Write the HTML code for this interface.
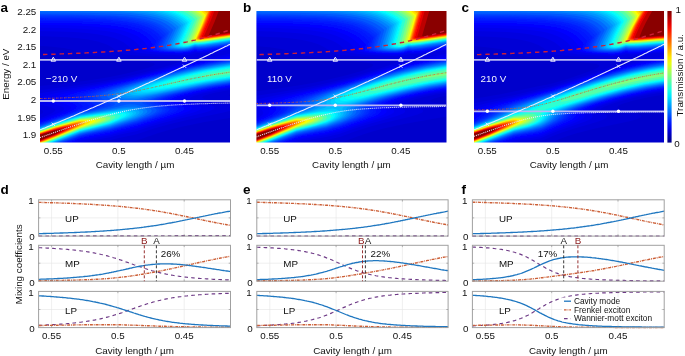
<!DOCTYPE html><html><head><meta charset="utf-8"><style>html,body{margin:0;padding:0;background:#fff;width:685px;height:356px;overflow:hidden}svg{display:block;filter:blur(0.35px)}.t{font-family:"Liberation Sans",sans-serif;font-size:9.8px;fill:#111}.w{font-family:"Liberation Sans",sans-serif;font-size:9.8px;fill:#f4f4ff}.L{font-family:"Liberation Sans",sans-serif;font-size:13.5px;font-weight:bold;fill:#000}.g{font-family:"Liberation Sans",sans-serif;font-size:8.3px;fill:#111}</style></head><body>
<svg width="685" height="356" viewBox="0 0 685 356">
<defs><filter id="bl" x="-5%" y="-5%" width="110%" height="110%"><feGaussianBlur stdDeviation="0.7"/></filter>
<linearGradient id="cb" x1="0" y1="0" x2="0" y2="1"><stop offset="0.00" stop-color="#800000"/><stop offset="0.05" stop-color="#b30000"/><stop offset="0.10" stop-color="#e50000"/><stop offset="0.15" stop-color="#ff1a00"/><stop offset="0.20" stop-color="#ff4c00"/><stop offset="0.25" stop-color="#ff8000"/><stop offset="0.30" stop-color="#ffb300"/><stop offset="0.35" stop-color="#ffe500"/><stop offset="0.40" stop-color="#e5ff1a"/><stop offset="0.45" stop-color="#b3ff4c"/><stop offset="0.50" stop-color="#80ff80"/><stop offset="0.55" stop-color="#4cffb3"/><stop offset="0.60" stop-color="#1affe5"/><stop offset="0.65" stop-color="#00e5ff"/><stop offset="0.70" stop-color="#00b3ff"/><stop offset="0.75" stop-color="#0080ff"/><stop offset="0.80" stop-color="#004cff"/><stop offset="0.85" stop-color="#001aff"/><stop offset="0.90" stop-color="#0000e5"/><stop offset="0.95" stop-color="#0000b3"/><stop offset="1.00" stop-color="#000080"/></linearGradient></defs>
<clipPath id="cla"><rect x="40.0" y="11.0" width="190.0" height="131.6"/></clipPath>
<g clip-path="url(#cla)"><g filter="url(#bl)">
<rect x="36.0" y="7.0" width="198.0" height="139.6" fill="#000085"/>
<path fill-rule="evenodd" fill="#00008f" d="M233.0,145.5 37.0,145.5 37.0,8.0 233.0,8.0 233.0,145.5Z"/>
<path fill-rule="evenodd" fill="#000099" d="M233.0,145.5 37.0,145.5 37.0,8.0 233.0,8.0 233.0,145.5Z"/>
<path fill-rule="evenodd" fill="#0000a3" d="M233.0,145.5 37.0,145.5 37.0,8.0 233.0,8.0 233.0,145.5Z"/>
<path fill-rule="evenodd" fill="#0000ad" d="M233.0,145.5 37.0,145.5 37.0,8.0 233.0,8.0 233.0,145.5Z"/>
<path fill-rule="evenodd" fill="#0000b8" d="M233.0,145.5 37.0,145.5 37.0,8.0 233.0,8.0 233.0,145.5Z"/>
<path fill-rule="evenodd" fill="#0000c2" d="M233.0,145.5 37.0,145.5 37.0,8.0 233.0,8.0 233.0,145.5Z"/>
<path fill-rule="evenodd" fill="#0000cc" d="M233.0,145.5 37.0,145.5 37.0,8.0 233.0,8.0 233.0,145.5Z"/>
<path fill-rule="evenodd" fill="#0000d6" d="M113.0,145.5 37.0,145.5 37.0,86.2 59.7,84.0 76.7,82.0 94.9,79.5 109.7,77.0 126.4,73.5 144.2,69.0 149.0,67.5 152.7,66.0 154.3,65.0 154.7,64.5 154.7,64.0 154.2,63.5 153.1,63.0 147.8,62.0 106.5,57.7 93.5,56.0 88.0,54.8 75.5,50.5 65.0,48.3 52.5,46.8 37.0,45.8 37.0,8.0 233.0,8.0 233.0,93.2 229.3,94.5 228.7,95.0 228.6,95.5 230.3,96.5 233.0,97.2 233.0,117.4 204.8,122.0 180.6,127.0 168.8,130.0 158.5,133.0 136.0,140.8 113.0,145.5Z"/>
<path fill-rule="evenodd" fill="#0000e0" d="M80.5,145.5 37.0,145.5 37.0,116.3 42.0,113.5 43.0,112.5 43.3,111.5 42.5,110.5 41.7,110.0 37.0,108.6 37.0,90.4 64.3,87.0 86.0,84.0 104.3,81.0 119.8,78.0 143.8,72.5 164.4,67.0 172.5,64.5 177.9,62.5 180.7,61.0 181.3,60.0 180.8,59.5 179.5,59.0 173.5,58.1 136.5,55.5 128.0,54.7 122.0,53.7 118.6,52.5 112.0,47.4 108.7,45.5 105.5,44.1 97.7,41.5 88.0,39.5 78.5,38.2 67.0,37.3 37.0,36.0 37.0,8.0 233.0,8.0 233.0,89.6 218.5,92.0 209.5,94.0 203.6,96.0 202.3,97.0 202.2,97.5 203.2,98.5 206.2,99.5 226.0,103.3 233.0,105.2 233.0,109.8 229.3,111.0 222.5,112.7 187.2,120.0 170.1,124.0 153.9,128.5 136.0,134.4 120.0,137.7 110.0,140.2 86.0,144.3 80.5,145.5Z"/>
<path fill-rule="evenodd" fill="#0000eb" d="M188.0,55.0 180.5,55.3 157.0,54.4 144.0,53.5 136.5,52.4 133.5,51.4 131.7,50.0 129.2,47.0 126.5,44.5 123.0,42.0 119.5,40.2 115.5,38.5 110.8,37.0 99.0,34.5 87.5,33.1 74.0,32.1 58.0,31.4 37.0,31.0 37.0,8.0 233.0,8.0 233.0,49.2 207.0,52.8 201.0,53.2 196.7,53.0 195.0,53.6 188.0,55.0ZM73.0,145.5 37.0,145.5 37.0,119.4 46.9,115.5 51.3,113.5 54.4,111.5 55.4,110.0 55.0,109.1 54.3,108.5 51.5,107.3 46.3,106.0 37.0,104.2 37.0,93.8 88.9,85.5 113.4,81.0 129.4,77.5 148.2,73.0 195.0,60.6 217.0,56.3 233.0,53.6 233.0,88.1 217.3,90.5 202.4,93.5 193.6,96.0 190.4,97.5 189.6,98.5 190.1,99.5 192.2,100.5 207.5,104.2 212.9,106.0 214.0,106.7 214.6,107.5 214.3,108.5 213.1,109.5 209.7,111.0 205.0,112.5 164.5,122.5 150.6,126.5 136.0,131.2 120.0,134.6 110.0,137.2 86.0,141.5 80.0,142.9 73.0,145.5Z"/>
<path fill-rule="evenodd" fill="#0000f5" d="M187.5,53.5 180.5,53.8 164.5,53.2 150.5,52.1 144.5,51.0 143.3,50.5 141.5,49.0 138.6,45.0 135.6,42.0 133.1,40.0 129.9,38.0 125.7,36.0 121.0,34.3 115.5,32.8 109.1,31.5 97.0,29.9 81.5,28.7 63.0,28.0 37.0,27.5 37.0,8.0 233.0,8.0 233.0,48.2 205.0,52.1 198.5,52.3 195.0,51.6 187.5,53.5ZM68.0,145.5 37.0,145.5 37.0,121.1 58.3,113.0 62.3,111.0 63.6,110.0 64.2,109.0 64.1,108.0 63.6,107.5 61.0,106.2 45.9,102.0 42.0,100.5 40.7,99.5 40.5,99.0 40.8,98.0 42.3,97.0 47.9,95.0 56.4,93.0 99.7,85.0 123.7,80.0 146.8,74.5 184.5,64.7 195.0,62.2 215.5,58.3 233.0,55.6 233.0,87.1 213.6,90.0 198.6,93.0 190.6,95.0 185.8,96.5 182.5,98.0 181.3,99.0 181.3,100.0 183.5,101.4 196.0,104.8 200.1,106.5 201.1,107.5 201.2,108.5 200.3,109.5 198.7,110.5 195.1,112.0 190.4,113.5 158.9,122.0 136.0,129.1 120.0,132.7 110.0,135.3 84.7,140.0 80.0,141.1 68.0,145.5Z"/>
<path fill-rule="evenodd" fill="#0000ff" d="M186.5,53.0 179.5,53.3 165.5,52.7 156.0,51.9 150.5,50.9 149.0,50.0 148.7,48.5 148.0,47.0 144.5,42.1 141.5,39.2 138.0,36.6 134.0,34.4 129.0,32.4 123.0,30.6 117.0,29.3 104.0,27.4 87.0,26.1 66.0,25.3 37.0,24.9 37.0,8.0 233.0,8.0 233.0,47.4 205.0,51.3 198.5,51.6 195.0,50.9 190.0,52.4 186.5,53.0ZM64.5,145.5 37.0,145.5 37.0,122.4 64.0,112.5 69.1,110.0 70.3,109.0 71.0,108.0 71.0,107.4 70.5,106.6 68.9,105.5 57.5,101.5 54.6,100.0 53.8,99.0 53.7,98.5 54.3,97.5 55.8,96.5 59.5,95.0 66.7,93.0 123.6,81.0 191.0,64.2 213.5,59.7 233.0,56.7 233.0,86.2 211.5,89.5 194.0,93.0 181.0,96.5 177.2,98.0 175.0,99.5 174.7,100.0 175.0,100.9 176.8,102.0 187.9,105.5 191.0,107.0 191.8,108.0 191.6,109.0 190.7,110.0 189.0,111.0 180.5,114.2 153.5,122.0 136.0,127.5 120.0,131.2 110.0,133.9 86.0,138.4 80.0,139.8 64.5,145.5Z"/>
<path fill-rule="evenodd" fill="#000aff" d="M186.0,52.6 179.0,52.8 166.0,52.2 157.4,51.5 152.5,50.5 151.1,49.5 151.0,48.0 152.4,45.0 152.5,44.2 149.4,40.0 145.7,36.5 141.2,33.5 136.5,31.3 130.5,29.2 123.5,27.5 110.0,25.5 91.5,24.0 68.5,23.2 37.0,22.7 37.0,8.0 233.0,8.0 233.0,46.7 205.0,50.6 198.5,50.9 195.0,50.3 189.5,51.9 186.0,52.6ZM62.0,145.5 37.0,145.5 37.0,123.3 66.2,113.0 72.1,110.5 75.5,108.5 76.6,107.0 76.3,106.0 75.5,105.2 73.4,104.0 66.3,101.0 64.0,99.5 63.7,99.0 63.6,98.0 64.4,97.0 65.9,96.0 71.1,94.0 78.3,92.0 125.0,81.5 189.5,65.4 212.5,60.8 233.0,57.6 233.0,85.5 216.1,88.0 202.1,90.5 186.2,94.0 175.6,97.0 170.9,99.0 169.7,100.0 169.4,101.0 170.0,101.7 171.3,102.5 181.4,106.0 184.0,107.5 184.5,108.5 183.8,110.0 182.4,111.0 179.3,112.5 171.5,115.2 136.0,126.2 120.0,130.0 110.0,132.7 86.0,137.3 80.0,138.8 62.0,145.5Z"/>
<path fill-rule="evenodd" fill="#0014ff" d="M186.5,52.0 179.5,52.3 166.5,51.8 158.0,51.0 154.0,50.0 153.3,49.5 153.1,49.0 153.1,47.5 156.0,41.5 154.1,39.0 151.8,36.5 147.3,33.0 142.0,30.1 136.0,27.9 128.5,25.9 114.5,23.8 96.0,22.3 72.0,21.4 37.0,21.0 37.0,8.0 233.0,8.0 233.0,46.0 205.5,49.9 198.5,50.3 195.0,49.7 190.0,51.3 186.5,52.0ZM59.5,145.5 37.0,145.5 37.0,124.1 71.6,112.0 77.4,109.5 81.9,107.0 82.5,106.0 81.7,105.0 73.5,100.7 71.5,99.0 71.2,98.0 71.4,97.5 72.4,96.5 74.0,95.5 79.1,93.5 88.2,91.0 128.1,81.5 186.5,66.7 210.5,61.8 233.0,58.3 233.0,84.9 215.3,87.5 198.8,90.5 183.0,94.0 170.8,97.5 166.2,99.5 165.1,100.5 164.9,101.5 165.5,102.2 166.7,103.0 175.5,106.2 177.1,107.0 178.3,108.0 178.6,109.0 177.7,110.5 176.2,111.5 173.1,113.0 164.7,116.0 136.0,125.2 120.0,129.1 110.0,131.8 86.0,136.5 80.0,138.0 59.5,145.5Z"/>
<path fill-rule="evenodd" fill="#001fff" d="M186.5,51.6 179.0,51.9 166.5,51.4 159.0,50.6 155.5,49.5 155.1,49.0 155.2,47.0 158.6,40.0 158.9,39.0 155.0,34.7 150.5,31.3 145.2,28.5 138.2,26.0 132.0,24.4 123.8,23.0 115.0,21.9 103.5,21.0 77.5,20.0 37.0,19.4 37.0,8.0 233.0,8.0 233.0,45.5 205.5,49.3 198.5,49.8 195.0,49.3 190.0,50.8 186.5,51.6ZM58.0,145.5 37.0,145.5 37.0,124.8 69.9,113.5 80.0,109.7 86.0,108.1 88.3,107.0 89.2,106.0 89.2,105.5 88.4,104.5 86.0,103.2 80.0,100.8 77.8,99.0 77.5,98.0 77.9,97.0 79.0,96.0 80.8,95.0 87.6,92.5 96.6,90.0 185.0,67.7 209.0,62.7 233.0,58.9 233.0,84.4 215.0,87.0 195.9,90.5 178.2,94.5 166.3,98.0 161.9,100.0 160.9,101.0 160.7,101.5 161.0,102.2 161.9,103.0 170.8,106.5 172.6,107.5 173.6,108.5 173.7,109.5 173.0,110.5 171.8,111.5 168.9,113.0 160.0,116.4 136.0,124.2 120.0,128.2 110.0,131.0 86.0,135.8 80.0,137.3 58.0,145.5Z"/>
<path fill-rule="evenodd" fill="#0029ff" d="M187.0,51.1 181.0,51.5 170.0,51.2 162.0,50.5 157.7,49.5 157.0,49.0 156.8,48.5 156.9,47.0 161.5,37.5 161.4,37.0 157.6,33.0 152.8,29.5 147.5,26.9 140.7,24.5 134.0,22.9 125.7,21.5 117.0,20.5 105.5,19.6 77.5,18.6 37.0,18.1 37.0,8.0 233.0,8.0 233.0,44.9 205.5,48.8 198.5,49.3 195.0,48.8 187.0,51.1ZM56.5,145.5 37.0,145.5 37.0,125.3 80.0,110.6 87.6,109.0 92.1,107.5 94.1,106.5 94.9,105.5 94.5,104.5 92.8,103.5 85.1,100.0 83.4,98.5 83.2,97.5 83.8,96.5 86.9,94.5 93.5,92.0 103.5,89.1 183.0,68.7 195.5,65.9 208.5,63.3 233.0,59.5 233.0,83.9 214.9,86.5 195.7,90.0 177.7,94.0 163.5,98.0 158.7,100.0 157.3,101.0 156.9,102.0 157.5,102.9 158.4,103.5 167.0,106.9 169.2,108.5 169.5,109.5 168.6,111.0 164.3,113.5 156.0,116.7 136.0,123.4 120.0,127.5 110.0,130.3 86.0,135.2 80.0,136.6 56.5,145.5Z"/>
<path fill-rule="evenodd" fill="#0033ff" d="M184.0,51.0 177.0,51.1 167.5,50.6 162.1,50.0 159.0,49.0 158.6,48.5 158.7,46.5 163.9,35.5 160.0,31.5 155.8,28.5 150.5,25.8 144.0,23.5 137.5,21.9 129.5,20.5 120.5,19.4 109.0,18.5 81.0,17.4 37.0,16.9 37.0,8.0 233.0,8.0 233.0,44.4 205.5,48.3 198.5,48.8 195.0,48.4 189.0,50.3 184.0,51.0ZM55.0,145.5 37.0,145.5 37.0,125.8 54.5,119.7 80.0,111.3 86.0,110.3 91.3,109.0 95.0,108.0 98.5,106.5 99.7,105.5 99.8,105.0 99.2,104.0 97.5,103.0 90.6,100.0 89.1,99.0 88.4,98.0 88.4,97.0 89.0,96.0 92.2,94.0 98.7,91.5 111.5,87.8 182.5,69.3 195.5,66.4 208.5,63.8 233.0,60.0 233.0,83.4 212.1,86.5 193.3,90.0 173.4,94.5 159.3,98.5 154.7,100.5 153.5,101.5 153.3,102.0 153.5,102.8 154.3,103.5 163.0,107.0 164.8,108.0 165.7,109.0 165.8,110.0 164.6,111.5 160.2,114.0 152.0,117.2 136.0,122.7 110.0,129.7 86.0,134.6 80.0,136.1 55.0,145.5Z"/>
<path fill-rule="evenodd" fill="#003dff" d="M185.5,50.5 178.5,50.8 169.0,50.4 163.0,49.6 160.5,48.7 160.1,48.0 160.2,46.5 164.5,37.6 166.0,34.0 162.0,30.1 157.5,27.0 152.4,24.5 146.0,22.3 138.5,20.5 131.0,19.3 121.0,18.1 110.0,17.3 81.5,16.3 37.0,15.8 37.0,8.0 233.0,8.0 233.0,44.0 205.5,47.9 198.5,48.4 195.0,48.0 189.5,49.8 185.5,50.5ZM53.5,145.5 37.0,145.5 37.0,126.3 54.5,120.2 80.0,111.9 86.0,110.9 94.8,109.0 99.9,107.5 103.8,106.0 105.0,105.0 105.0,104.5 104.6,104.0 102.9,103.0 95.7,100.0 94.0,99.0 93.0,98.0 92.7,97.0 93.2,96.0 94.3,95.0 96.9,93.5 103.4,91.0 116.8,87.0 180.5,70.3 193.5,67.3 206.0,64.7 220.0,62.3 233.0,60.4 233.0,83.0 212.5,86.0 191.0,90.0 169.2,95.0 155.2,99.0 150.8,101.0 149.8,102.0 149.9,103.0 152.4,104.5 160.2,107.5 161.8,108.5 162.5,109.5 162.3,110.5 161.0,112.0 156.4,114.5 148.8,117.5 136.0,122.0 110.0,129.2 86.0,134.1 80.0,135.6 53.5,145.5Z"/>
<path fill-rule="evenodd" fill="#0047ff" d="M187.0,50.0 181.0,50.5 172.0,50.2 165.0,49.5 162.0,48.5 161.7,48.0 161.7,46.5 168.0,33.0 167.8,32.5 164.1,29.0 159.5,25.9 154.0,23.3 147.5,21.1 140.5,19.5 132.0,18.1 122.0,17.1 111.0,16.3 82.0,15.3 37.0,14.8 37.0,8.0 233.0,8.0 233.0,43.6 205.0,47.5 198.5,48.0 195.0,47.7 190.0,49.3 187.0,50.0ZM52.5,145.5 37.0,145.5 37.0,126.7 55.0,120.4 80.0,112.4 95.0,109.7 105.5,107.0 110.0,105.5 110.7,104.5 110.0,103.5 100.3,100.0 98.4,99.0 97.2,98.0 96.7,97.0 97.3,95.5 98.5,94.5 101.2,93.0 109.2,90.0 123.0,85.9 180.5,70.7 193.5,67.7 206.0,65.2 219.5,62.8 233.0,60.8 233.0,82.6 213.0,85.5 191.4,89.5 167.0,95.0 157.5,97.5 151.1,99.5 146.8,101.5 146.0,102.5 146.1,103.0 146.6,103.5 148.5,104.5 157.7,108.0 159.0,109.0 159.5,110.0 159.2,111.0 158.3,112.0 154.0,114.5 146.7,117.5 136.0,121.3 110.0,128.7 86.0,133.7 80.0,135.2 52.5,145.5Z"/>
<path fill-rule="evenodd" fill="#0057ff" d="M184.0,50.0 178.0,50.1 170.5,49.8 165.5,49.1 163.5,48.3 163.1,47.5 163.2,46.0 168.5,34.9 169.8,32.0 169.7,31.5 166.0,28.0 161.6,25.0 156.3,22.5 150.5,20.5 143.5,18.8 135.5,17.4 126.0,16.3 114.0,15.4 84.5,14.4 37.0,13.9 37.0,8.0 233.0,8.0 233.0,43.2 205.0,47.2 198.5,47.6 195.0,47.3 189.0,49.3 184.0,50.0ZM51.5,145.5 37.0,145.5 37.0,127.0 55.0,120.8 80.0,112.9 95.0,110.2 110.0,107.0 114.5,105.0 115.2,104.0 114.2,103.0 103.7,99.5 101.8,98.5 100.7,97.5 100.3,96.5 101.1,95.0 102.4,94.0 105.2,92.5 113.2,89.5 127.0,85.3 158.5,76.8 180.0,71.2 195.0,67.8 207.5,65.3 233.0,61.2 233.0,82.2 210.7,85.5 189.4,89.5 163.0,95.5 146.8,100.0 144.3,101.0 142.6,102.0 142.2,103.0 142.6,103.5 144.4,104.5 154.0,107.8 156.1,109.0 156.7,110.0 156.6,111.0 155.2,112.5 150.8,115.0 136.0,120.7 110.0,128.2 86.0,133.3 80.0,134.8 51.5,145.5Z"/>
<path fill-rule="evenodd" fill="#006bff" d="M183.0,49.5 177.5,49.5 171.5,49.2 167.6,48.5 166.0,47.7 165.8,47.0 165.9,45.5 171.5,33.7 173.1,30.0 173.0,29.6 169.5,26.3 165.3,23.5 160.2,21.0 154.0,18.9 146.5,17.1 138.0,15.7 127.5,14.6 116.5,13.8 86.0,12.7 37.0,12.3 37.0,8.0 233.0,8.0 233.0,42.5 206.0,46.4 198.5,47.0 195.0,46.7 188.5,48.8 183.0,49.5ZM131.0,102.1 128.0,102.1 124.5,101.8 113.5,99.7 110.5,98.7 108.0,97.5 107.1,96.5 107.0,95.5 108.1,94.0 110.4,92.5 119.0,89.0 136.0,83.8 163.5,76.2 183.0,71.3 198.5,67.8 215.0,64.7 233.0,62.0 233.0,81.5 212.3,84.5 190.5,88.5 161.0,95.0 136.0,101.3 131.0,102.1ZM49.5,145.5 37.0,145.5 37.0,127.7 55.5,121.3 80.0,113.6 110.0,108.5 127.0,104.6 131.0,104.3 136.0,104.8 148.3,108.0 150.5,109.0 151.8,110.5 151.3,112.0 148.8,114.0 143.7,116.5 136.0,119.5 110.0,127.4 86.0,132.5 80.0,134.1 49.5,145.5Z"/>
<path fill-rule="evenodd" fill="#0080ff" d="M182.5,49.0 173.0,48.6 169.7,48.0 168.5,47.4 168.2,47.0 168.4,45.0 173.5,34.3 176.0,28.5 176.0,28.0 172.1,24.5 168.0,21.8 163.0,19.5 157.0,17.4 149.5,15.7 141.0,14.3 130.5,13.1 119.0,12.3 88.0,11.3 37.0,10.9 37.0,8.0 233.0,8.0 233.0,41.9 205.5,45.8 198.5,46.4 195.0,46.2 188.5,48.3 182.5,49.0ZM132.5,99.5 125.5,99.5 118.5,98.5 114.2,97.0 113.1,96.0 112.8,95.0 113.7,93.5 115.9,92.0 124.2,88.5 136.7,84.5 162.5,77.2 182.0,72.2 197.5,68.7 215.5,65.3 233.0,62.7 233.0,80.8 217.4,83.0 199.7,86.0 182.2,89.5 144.5,97.6 136.0,99.2 132.5,99.5ZM48.0,145.5 37.0,145.5 37.0,128.2 55.5,121.8 80.0,114.2 110.0,109.5 118.5,107.9 128.0,106.7 136.0,106.8 141.0,107.8 144.5,108.8 146.7,110.0 147.4,111.0 146.9,112.5 144.4,114.5 140.0,116.7 134.3,119.0 110.0,126.7 80.0,133.4 48.0,145.5Z"/>
<path fill-rule="evenodd" fill="#0094ff" d="M182.5,48.5 178.0,48.4 173.6,48.0 171.5,47.5 170.7,47.0 170.4,46.5 170.4,45.0 177.0,31.0 178.7,27.0 178.5,26.5 175.0,23.4 170.5,20.5 165.1,18.0 159.0,16.0 152.7,14.5 145.0,13.2 126.5,11.4 111.0,10.6 93.0,10.1 37.0,9.6 37.0,8.0 233.0,8.0 233.0,41.3 205.5,45.3 198.5,45.9 195.0,45.7 188.5,47.8 182.5,48.5ZM138.0,97.5 130.5,98.0 124.0,97.4 121.5,96.9 119.4,96.0 118.3,95.0 118.3,94.0 119.5,92.5 121.9,91.0 130.5,87.5 144.8,83.0 167.0,76.8 185.0,72.2 200.5,68.8 216.5,65.8 233.0,63.3 233.0,80.2 216.5,82.5 201.6,85.0 152.0,95.1 138.0,97.5ZM46.5,145.5 37.0,145.5 37.0,128.7 55.5,122.3 80.0,114.8 116.0,109.2 127.0,108.0 132.5,108.0 137.5,108.6 141.9,110.0 142.7,110.5 143.4,111.5 142.9,113.0 140.4,115.0 136.0,117.2 130.5,119.3 110.0,126.0 80.0,132.9 54.5,142.7 46.5,145.5Z"/>
<path fill-rule="evenodd" fill="#00a8ff" d="M183.5,48.0 179.0,48.0 175.0,47.5 173.3,47.0 172.6,46.5 172.5,46.0 172.6,44.5 178.0,33.1 181.1,25.5 177.5,22.3 173.0,19.4 167.9,17.0 161.5,14.9 154.5,13.3 146.5,12.0 135.5,10.8 124.5,10.0 92.5,8.9 37.0,8.5 37.0,8.0 233.0,8.0 233.0,40.8 205.5,44.8 198.5,45.4 195.0,45.2 188.5,47.4 183.5,48.0ZM140.0,96.1 134.0,96.5 128.0,96.1 124.4,95.0 123.8,94.5 123.4,93.5 123.9,92.5 125.9,91.0 128.8,89.5 133.7,87.5 147.6,83.0 167.5,77.3 185.0,72.9 200.5,69.4 217.0,66.4 233.0,64.0 233.0,79.6 218.9,81.5 203.6,84.0 155.0,93.7 140.0,96.1ZM45.5,145.5 37.0,145.5 37.0,129.1 55.5,122.7 80.0,115.3 103.5,111.7 117.0,109.9 125.0,109.1 130.5,109.1 135.0,109.6 138.1,110.5 139.0,111.1 139.7,112.0 139.2,113.5 136.7,115.5 132.6,117.5 127.4,119.5 110.0,125.4 80.0,132.4 45.5,145.5Z"/>
<path fill-rule="evenodd" fill="#00bdff" d="M184.5,47.5 181.0,47.5 177.5,47.2 175.5,46.7 174.5,46.0 174.6,44.0 179.5,33.7 183.4,24.5 178.7,20.5 172.5,17.0 167.4,15.0 161.0,13.2 154.5,11.8 145.5,10.5 127.0,8.9 99.6,8.0 233.0,8.0 233.0,40.4 205.5,44.3 198.5,45.0 195.0,44.8 189.0,46.8 184.5,47.5ZM137.0,95.0 134.0,94.9 131.0,94.5 128.9,93.5 128.6,92.5 129.3,91.5 131.5,90.0 138.3,87.0 152.0,82.5 171.4,77.0 187.2,73.0 202.0,69.8 217.5,66.9 233.0,64.6 233.0,79.0 218.0,81.0 202.5,83.6 152.5,93.2 143.7,94.5 137.0,95.0ZM44.5,145.5 37.0,145.5 37.0,129.5 55.0,123.3 80.0,115.7 103.5,112.3 116.0,110.7 123.5,110.1 128.5,110.1 132.5,110.5 135.4,111.5 136.2,112.5 136.3,113.0 135.7,114.0 133.9,115.5 130.1,117.5 124.5,119.7 110.0,124.8 80.0,131.9 44.5,145.5Z"/>
<path fill-rule="evenodd" fill="#00d1ff" d="M185.5,47.0 182.0,47.1 179.0,46.8 177.0,46.3 176.3,45.5 176.3,44.0 181.5,32.9 185.4,23.5 180.6,19.5 176.5,17.0 172.5,15.2 167.7,13.5 162.0,12.0 154.4,10.5 147.6,9.5 129.6,8.0 233.0,8.0 233.0,40.0 206.0,43.9 198.5,44.6 195.0,44.4 189.5,46.3 185.5,47.0ZM147.0,93.0 141.0,93.4 137.0,93.3 134.5,92.5 134.1,92.0 134.1,91.5 134.8,90.5 137.1,89.0 144.3,86.0 156.5,82.0 174.0,77.0 190.0,73.0 203.5,70.1 218.0,67.5 233.0,65.2 233.0,78.4 206.0,82.3 160.4,91.0 147.0,93.0ZM43.5,145.5 37.0,145.5 37.0,129.9 55.0,123.7 80.0,116.1 102.5,112.9 118.5,111.2 124.5,110.9 128.5,111.2 131.8,112.0 132.9,113.0 132.7,114.0 131.9,115.0 128.7,117.0 114.5,122.6 108.0,124.7 80.0,131.5 43.5,145.5Z"/>
<path fill-rule="evenodd" fill="#00e5ff" d="M186.5,46.5 183.5,46.7 180.5,46.4 178.8,46.0 178.1,45.5 178.0,45.0 178.0,43.5 183.0,33.0 187.2,23.0 187.1,22.5 185.5,21.0 182.3,18.5 179.0,16.5 174.8,14.5 170.0,12.8 158.0,9.8 144.0,8.0 233.0,8.0 233.0,39.6 205.0,43.6 198.0,44.2 195.0,44.1 190.0,45.8 186.5,46.5ZM150.0,91.5 143.0,91.7 141.0,91.3 140.2,90.5 140.8,89.5 142.2,88.5 148.9,85.5 160.9,81.5 176.7,77.0 190.8,73.5 204.8,70.5 218.6,68.0 233.0,65.8 233.0,77.7 208.0,81.3 164.0,89.5 150.0,91.5ZM42.5,145.5 37.0,145.5 37.0,130.2 55.5,123.8 80.0,116.5 102.5,113.4 116.5,112.0 125.7,112.0 128.1,112.5 129.6,113.5 129.7,114.0 129.2,115.0 126.3,117.0 112.5,122.8 110.0,123.7 102.0,125.8 80.0,131.1 42.5,145.5Z"/>
<path fill-rule="evenodd" fill="#00faff" d="M187.0,46.0 183.5,46.2 180.5,45.7 179.6,45.0 179.6,43.5 185.5,30.6 189.0,21.9 186.4,19.5 183.0,17.0 179.5,15.1 176.0,13.5 171.8,12.0 164.7,10.0 153.6,8.0 233.0,8.0 233.0,39.2 205.0,43.2 198.0,43.9 195.0,43.7 190.0,45.4 187.0,46.0ZM157.0,89.5 150.0,89.9 148.0,89.6 147.2,89.0 147.8,88.0 149.3,87.0 156.5,84.0 167.2,80.5 181.5,76.5 193.8,73.5 205.7,71.0 219.5,68.5 233.0,66.5 233.0,77.1 207.5,80.8 167.5,88.0 157.0,89.5ZM41.5,145.5 37.0,145.5 37.0,130.5 37.5,130.3 55.0,124.3 80.0,116.9 102.0,113.9 115.0,112.8 123.0,112.8 125.0,113.2 126.3,114.0 126.5,114.5 126.0,115.5 124.0,117.0 117.9,120.0 110.4,123.0 98.5,126.3 80.0,130.8 55.0,140.6 41.5,145.5Z"/>
<path fill-rule="evenodd" fill="#0ffff0" d="M188.0,45.5 184.5,45.7 182.0,45.3 181.4,45.0 181.1,44.5 181.1,43.0 188.0,28.0 190.7,21.5 190.5,21.0 185.7,17.0 179.4,13.5 169.6,10.0 160.7,8.0 233.0,8.0 233.0,38.9 205.5,42.9 198.0,43.6 195.0,43.4 188.0,45.5ZM163.0,87.5 157.0,87.8 155.5,87.5 155.2,87.0 156.2,86.0 158.0,85.0 164.3,82.5 173.8,79.5 186.6,76.0 209.3,71.0 233.0,67.2 233.0,76.4 209.5,79.7 173.5,86.0 163.0,87.5ZM41.0,145.5 37.0,145.5 37.0,130.8 55.0,124.6 80.0,117.2 101.5,114.4 114.0,113.4 117.5,113.4 121.0,113.8 122.5,114.2 123.3,115.0 123.2,115.5 122.4,116.5 119.2,118.5 110.0,122.6 97.0,126.2 80.0,130.4 41.0,145.5Z"/>
<path fill-rule="evenodd" fill="#2effd1" d="M188.5,45.0 186.0,45.3 183.5,45.0 182.6,44.5 182.5,43.0 189.0,28.7 192.2,20.5 187.5,16.5 182.4,13.5 173.5,9.9 166.4,8.0 233.0,8.0 233.0,38.6 204.5,42.7 198.0,43.3 195.0,43.1 188.5,45.0ZM171.5,85.0 166.5,85.2 165.3,85.0 165.2,84.5 167.7,83.0 174.4,80.5 192.2,75.5 210.8,71.5 233.0,67.9 233.0,75.7 213.5,78.3 171.5,85.0ZM40.0,145.5 37.0,145.5 37.0,131.0 55.5,124.7 80.0,117.5 100.0,115.0 107.0,114.4 116.5,114.2 119.0,114.7 120.1,115.5 120.1,116.0 119.5,117.0 117.5,118.5 110.0,122.1 99.0,125.3 80.0,130.1 55.0,140.0 40.0,145.5Z"/>
<path fill-rule="evenodd" fill="#57ffa8" d="M189.5,44.1 187.5,44.3 185.7,44.0 185.2,43.5 185.3,42.0 190.5,30.8 195.2,19.5 192.0,16.5 187.5,13.5 180.0,9.8 175.1,8.0 233.0,8.0 233.0,38.0 204.5,42.1 198.0,42.7 195.0,42.5 189.5,44.1ZM205.5,77.0 201.5,77.3 199.9,77.0 204.0,75.5 212.4,73.5 233.0,69.9 233.0,73.7 205.5,77.0ZM38.5,145.5 37.0,145.5 37.0,131.5 55.5,125.2 80.0,118.1 104.5,115.5 112.5,115.6 114.5,116.0 115.2,116.5 115.1,117.5 114.1,118.5 109.7,121.0 98.9,124.5 80.0,129.5 55.0,139.4 38.5,145.5Z"/>
<path fill-rule="evenodd" fill="#80ff80" d="M190.5,43.1 187.9,43.0 187.6,42.5 187.7,41.5 193.0,30.0 197.7,18.5 195.2,16.0 191.9,13.5 185.0,9.5 181.7,8.0 233.0,8.0 233.0,37.5 204.0,41.6 197.5,42.2 195.0,41.9 190.5,43.1ZM37.5,145.5 37.0,145.5 37.0,132.0 55.5,125.7 80.0,118.7 103.0,116.5 108.5,116.8 110.3,117.5 110.5,118.0 110.0,119.0 108.5,120.0 103.9,122.0 95.0,124.8 80.0,128.9 55.0,138.9 37.5,145.5Z"/>
<path fill-rule="evenodd" fill="#a8ff57" d="M191.5,42.0 190.5,42.0 190.0,41.7 190.0,41.0 196.0,27.8 200.1,17.5 195.6,13.5 187.0,8.0 233.0,8.0 233.0,37.0 206.0,40.9 198.0,41.7 195.0,41.3 191.5,42.0ZM37.5,145.1 37.0,145.3 37.0,132.4 55.0,126.3 80.0,119.2 100.0,117.6 104.0,117.8 105.6,118.5 105.8,119.0 104.9,120.0 100.9,122.0 95.0,124.0 80.0,128.3 55.5,138.3 37.5,145.1Z"/>
<path fill-rule="evenodd" fill="#d1ff2e" d="M200.5,41.0 197.0,41.2 195.0,40.6 193.0,40.8 192.1,40.5 198.0,27.5 202.3,17.0 202.1,16.5 199.4,14.0 191.5,8.0 233.0,8.0 233.0,36.5 211.0,39.8 200.5,41.0ZM38.0,144.5 37.0,144.9 37.0,132.7 56.5,126.2 70.5,122.2 80.0,119.8 96.5,118.8 99.5,118.9 100.9,119.5 100.9,120.0 99.8,121.0 96.6,122.5 80.0,127.8 55.0,138.1 38.0,144.5Z"/>
<path fill-rule="evenodd" fill="#faff05" d="M201.5,40.5 196.5,40.6 195.2,40.0 194.6,39.5 194.5,39.0 200.0,26.9 204.3,16.0 201.7,13.5 198.5,11.0 195.3,8.0 233.0,8.0 233.0,36.1 211.5,39.3 201.5,40.5ZM37.0,144.5 37.0,133.1 56.0,126.8 70.0,122.8 79.0,120.5 91.0,119.9 94.1,120.0 95.6,120.5 95.7,121.0 95.2,121.5 92.1,123.0 80.0,127.2 55.0,137.7 37.0,144.5Z"/>
<path fill-rule="evenodd" fill="#ffdb00" d="M202.0,40.0 197.0,40.2 196.0,39.8 195.8,39.0 202.6,23.5 205.8,15.0 201.4,11.0 198.6,8.0 233.0,8.0 233.0,35.7 212.0,38.8 202.0,40.0ZM37.0,144.2 37.0,133.4 55.5,127.3 77.0,121.5 80.0,120.9 82.5,120.8 88.0,121.0 90.2,121.5 90.2,122.0 88.7,123.0 72.4,130.0 55.0,137.3 37.0,144.2Z"/>
<path fill-rule="evenodd" fill="#ffb300" d="M203.0,39.5 198.0,39.8 196.8,39.5 196.5,39.0 196.7,38.0 202.3,25.5 207.0,13.5 204.0,11.0 201.6,8.0 233.0,8.0 233.0,35.3 203.0,39.5ZM37.5,143.7 37.0,143.8 37.0,133.7 55.0,127.8 74.5,122.5 80.0,121.5 83.5,121.7 84.6,122.0 85.2,122.5 84.7,123.5 83.2,124.5 73.6,129.0 55.0,136.9 37.5,143.7Z"/>
<path fill-rule="evenodd" fill="#ff8a00" d="M204.0,39.0 199.0,39.3 197.6,39.0 197.3,38.5 197.5,37.5 204.3,22.0 208.1,12.0 208.0,11.6 207.0,11.6 206.3,11.0 204.3,8.0 233.0,8.0 233.0,35.0 204.0,39.0ZM37.0,143.5 37.0,134.1 55.0,128.1 70.4,124.0 78.5,122.4 80.5,122.4 82.1,123.0 82.1,123.5 81.1,124.5 77.6,126.5 71.3,129.5 55.0,136.6 37.0,143.5Z"/>
<path fill-rule="evenodd" fill="#ff6100" d="M205.0,38.5 199.5,38.8 198.5,38.5 198.1,38.0 198.4,37.0 204.8,22.5 209.5,10.0 209.5,9.7 207.9,9.5 206.7,8.0 233.0,8.0 233.0,34.6 205.0,38.5ZM37.5,143.0 37.0,143.2 37.0,134.4 55.0,128.5 64.1,126.0 75.9,123.5 78.5,123.4 79.1,124.0 78.4,125.0 77.0,126.0 69.1,130.0 55.0,136.2 37.5,143.0Z"/>
<path fill-rule="evenodd" fill="#ff3800" d="M206.0,38.0 201.0,38.3 199.5,38.0 199.1,37.5 206.2,21.0 211.0,8.0 233.0,8.0 233.0,34.2 206.0,38.0ZM38.0,142.5 37.0,142.9 37.0,134.7 54.5,129.0 61.8,127.0 71.5,124.9 74.5,124.6 75.8,125.0 75.1,126.0 72.8,127.5 63.7,132.0 55.0,135.8 38.0,142.5Z"/>
<path fill-rule="evenodd" fill="#ff0f00" d="M207.0,37.5 202.0,37.8 200.7,37.5 200.3,37.0 206.8,22.0 212.1,8.0 233.0,8.0 233.0,33.8 207.0,37.5ZM37.0,142.6 37.0,134.9 50.6,130.5 59.4,128.0 69.0,126.0 72.0,126.0 72.2,126.5 70.4,128.0 62.7,132.0 54.9,135.5 37.0,142.6Z"/>
<path fill-rule="evenodd" fill="#e60000" d="M207.0,37.0 203.0,37.1 202.3,37.0 201.8,36.5 208.3,21.5 213.4,8.0 233.0,8.0 233.0,33.4 207.0,37.0ZM37.5,142.1 37.0,142.3 37.0,135.2 57.0,129.0 65.0,127.3 67.5,127.1 68.6,127.5 67.8,128.5 66.3,129.5 58.5,133.5 37.5,142.1Z"/>
<path fill-rule="evenodd" fill="#bd0000" d="M211.0,36.0 206.0,36.4 204.1,36.0 210.8,20.5 215.5,8.0 233.0,8.0 233.0,32.9 211.0,36.0ZM38.0,141.6 37.0,141.9 37.0,135.5 55.0,129.9 61.7,128.5 64.0,128.3 65.1,128.5 65.1,129.0 63.9,130.0 57.5,133.5 38.0,141.6Z"/>
<path fill-rule="evenodd" fill="#8a0000" d="M213.5,35.0 210.0,35.2 208.8,35.0 214.7,21.5 219.9,8.0 233.0,8.0 233.0,32.2 213.5,35.0ZM37.0,141.6 37.0,135.8 54.5,130.5 59.5,129.5 61.7,129.5 61.9,130.0 60.9,131.0 55.5,134.0 37.0,141.6Z"/>
</g></g>
<g clip-path="url(#cla)"><line x1="40.0" y1="59.9" x2="230.0" y2="59.9" stroke="#b8b8f4" stroke-width="1.8"/>
<line x1="40.0" y1="101.0" x2="230.0" y2="101.0" stroke="#b8b8f4" stroke-width="1.8"/>
<polyline fill="none" stroke="#e8e8ff" stroke-width="1.1" points="40.0,129.8 41.6,129.2 43.2,128.5 44.8,127.9 46.4,127.2 48.0,126.5 49.6,125.9 51.2,125.2 52.8,124.6 54.4,123.9 56.0,123.2 57.6,122.6 59.2,121.9 60.8,121.2 62.4,120.6 63.9,119.9 65.5,119.2 67.1,118.6 68.7,117.9 70.3,117.2 71.9,116.5 73.5,115.9 75.1,115.2 76.7,114.5 78.3,113.8 79.9,113.1 81.5,112.5 83.1,111.8 84.7,111.1 86.3,110.4 87.9,109.7 89.5,109.0 91.1,108.3 92.7,107.7 94.3,107.0 95.9,106.3 97.5,105.6 99.1,104.9 100.7,104.2 102.3,103.5 103.9,102.8 105.5,102.1 107.1,101.4 108.7,100.7 110.3,100.0 111.8,99.3 113.4,98.6 115.0,97.9 116.6,97.2 118.2,96.5 119.8,95.8 121.4,95.1 123.0,94.4 124.6,93.6 126.2,92.9 127.8,92.2 129.4,91.5 131.0,90.8 132.6,90.1 134.2,89.4 135.8,88.6 137.4,87.9 139.0,87.2 140.6,86.5 142.2,85.8 143.8,85.0 145.4,84.3 147.0,83.6 148.6,82.9 150.2,82.1 151.8,81.4 153.4,80.7 155.0,79.9 156.6,79.2 158.2,78.5 159.7,77.7 161.3,77.0 162.9,76.3 164.5,75.5 166.1,74.8 167.7,74.0 169.3,73.3 170.9,72.6 172.5,71.8 174.1,71.1 175.7,70.3 177.3,69.6 178.9,68.8 180.5,68.1 182.1,67.3 183.7,66.6 185.3,65.8 186.9,65.1 188.5,64.3 190.1,63.6 191.7,62.8 193.3,62.0 194.9,61.3 196.5,60.5 198.1,59.8 199.7,59.0 201.3,58.2 202.9,57.5 204.5,56.7 206.1,55.9 207.6,55.2 209.2,54.4 210.8,53.6 212.4,52.9 214.0,52.1 215.6,51.3 217.2,50.5 218.8,49.8 220.4,49.0 222.0,48.2 223.6,47.4 225.2,46.6 226.8,45.9 228.4,45.1 230.0,44.3"/>
<polyline fill="none" stroke="#cc1e38" stroke-width="1.4" stroke-dasharray="4.4,3.9" stroke-dashoffset="5.3" points="40.0,54.6 41.6,54.5 43.2,54.5 44.8,54.5 46.4,54.4 48.0,54.4 49.6,54.3 51.2,54.3 52.8,54.2 54.4,54.2 56.0,54.1 57.6,54.1 59.2,54.0 60.8,53.9 62.4,53.9 63.9,53.8 65.5,53.8 67.1,53.7 68.7,53.7 70.3,53.6 71.9,53.5 73.5,53.5 75.1,53.4 76.7,53.3 78.3,53.3 79.9,53.2 81.5,53.1 83.1,53.1 84.7,53.0 86.3,52.9 87.9,52.8 89.5,52.7 91.1,52.7 92.7,52.6 94.3,52.5 95.9,52.4 97.5,52.3 99.1,52.2 100.7,52.1 102.3,52.0 103.9,52.0 105.5,51.9 107.1,51.8 108.7,51.7 110.3,51.5 111.8,51.4 113.4,51.3 115.0,51.2 116.6,51.1 118.2,51.0 119.8,50.9 121.4,50.7 123.0,50.6 124.6,50.5 126.2,50.3 127.8,50.2 129.4,50.1 131.0,49.9 132.6,49.8 134.2,49.6 135.8,49.5 137.4,49.3 139.0,49.2 140.6,49.0 142.2,48.8 143.8,48.6 145.4,48.5 147.0,48.3 148.6,48.1 150.2,47.9 151.8,47.7 153.4,47.5 155.0,47.3 156.6,47.1 158.2,46.9 159.7,46.6 161.3,46.4 162.9,46.2 164.5,45.9 166.1,45.7 167.7,45.4 169.3,45.2 170.9,44.9 172.5,44.6 174.1,44.3 175.7,44.1 177.3,43.8 178.9,43.5 180.5,43.2 182.1,42.8 183.7,42.5 185.3,42.2 186.9,41.9 188.5,41.5 190.1,41.2 191.7,40.8 193.3,40.4 194.9,40.1 196.5,39.7 198.1,39.3 199.7,38.9 201.3,38.5 202.9,38.1 204.5,37.7 206.1,37.2 207.6,36.8 209.2,36.4 210.8,35.9 212.4,35.4 214.0,35.0 215.6,34.5 217.2,34.0 218.8,33.5 220.4,33.0 222.0,32.5 223.6,32.0 225.2,31.5 226.8,31.0 228.4,30.5 230.0,29.9"/>
<polyline fill="none" stroke="#d8602c" stroke-width="0.8" stroke-dasharray="1.6,0.9,0.6,0.9" points="40.0,98.5 41.6,98.5 43.2,98.5 44.8,98.4 46.4,98.4 48.0,98.3 49.6,98.3 51.2,98.3 52.8,98.2 54.4,98.2 56.0,98.1 57.6,98.1 59.2,98.0 60.8,98.0 62.4,97.9 63.9,97.9 65.5,97.8 67.1,97.7 68.7,97.7 70.3,97.6 71.9,97.5 73.5,97.5 75.1,97.4 76.7,97.3 78.3,97.2 79.9,97.2 81.5,97.1 83.1,97.0 84.7,96.9 86.3,96.8 87.9,96.7 89.5,96.6 91.1,96.5 92.7,96.4 94.3,96.3 95.9,96.1 97.5,96.0 99.1,95.9 100.7,95.7 102.3,95.6 103.9,95.4 105.5,95.3 107.1,95.1 108.7,95.0 110.3,94.8 111.8,94.6 113.4,94.4 115.0,94.2 116.6,94.0 118.2,93.8 119.8,93.6 121.4,93.4 123.0,93.1 124.6,92.9 126.2,92.6 127.8,92.4 129.4,92.1 131.0,91.8 132.6,91.6 134.2,91.3 135.8,91.0 137.4,90.7 139.0,90.4 140.6,90.1 142.2,89.7 143.8,89.4 145.4,89.1 147.0,88.7 148.6,88.4 150.2,88.1 151.8,87.7 153.4,87.4 155.0,87.0 156.6,86.6 158.2,86.3 159.7,85.9 161.3,85.5 162.9,85.2 164.5,84.8 166.1,84.4 167.7,84.1 169.3,83.7 170.9,83.3 172.5,83.0 174.1,82.6 175.7,82.3 177.3,81.9 178.9,81.5 180.5,81.2 182.1,80.8 183.7,80.5 185.3,80.1 186.9,79.8 188.5,79.4 190.1,79.1 191.7,78.8 193.3,78.4 194.9,78.1 196.5,77.8 198.1,77.5 199.7,77.2 201.3,76.9 202.9,76.6 204.5,76.3 206.1,76.0 207.6,75.7 209.2,75.4 210.8,75.1 212.4,74.9 214.0,74.6 215.6,74.3 217.2,74.1 218.8,73.8 220.4,73.6 222.0,73.4 223.6,73.1 225.2,72.9 226.8,72.7 228.4,72.4 230.0,72.2"/>
<polyline fill="none" stroke="#ececff" stroke-width="1.1" stroke-dasharray="1,1" points="40.0,137.6 41.6,137.0 43.2,136.4 44.8,135.9 46.4,135.3 48.0,134.7 49.6,134.2 51.2,133.6 52.8,133.0 54.4,132.5 56.0,131.9 57.6,131.3 59.2,130.8 60.8,130.2 62.4,129.7 63.9,129.1 65.5,128.6 67.1,128.0 68.7,127.5 70.3,126.9 71.9,126.4 73.5,125.8 75.1,125.3 76.7,124.8 78.3,124.2 79.9,123.7 81.5,123.2 83.1,122.6 84.7,122.1 86.3,121.6 87.9,121.1 89.5,120.6 91.1,120.1 92.7,119.6 94.3,119.1 95.9,118.6 97.5,118.2 99.1,117.7 100.7,117.2 102.3,116.8 103.9,116.3 105.5,115.9 107.1,115.4 108.7,115.0 110.3,114.6 111.8,114.2 113.4,113.8 115.0,113.4 116.6,113.0 118.2,112.6 119.8,112.2 121.4,111.9 123.0,111.5 124.6,111.2 126.2,110.8 127.8,110.5 129.4,110.2 131.0,109.9 132.6,109.6 134.2,109.4 135.8,109.1 137.4,108.8 139.0,108.6 140.6,108.3 142.2,108.1 143.8,107.9 145.4,107.7 147.0,107.5 148.6,107.3 150.2,107.1 151.8,106.9 153.4,106.7 155.0,106.5 156.6,106.4 158.2,106.2 159.7,106.1 161.3,105.9 162.9,105.8 164.5,105.7 166.1,105.6 167.7,105.4 169.3,105.3 170.9,105.2 172.5,105.1 174.1,105.0 175.7,104.9 177.3,104.8 178.9,104.7 180.5,104.6 182.1,104.6 183.7,104.5 185.3,104.4 186.9,104.3 188.5,104.3 190.1,104.2 191.7,104.1 193.3,104.1 194.9,104.0 196.5,103.9 198.1,103.9 199.7,103.8 201.3,103.8 202.9,103.7 204.5,103.7 206.1,103.6 207.6,103.6 209.2,103.5 210.8,103.5 212.4,103.4 214.0,103.4 215.6,103.4 217.2,103.3 218.8,103.3 220.4,103.2 222.0,103.2 223.6,103.2 225.2,103.1 226.8,103.1 228.4,103.1 230.0,103.0"/>
<path d="M51.0,61.2 L53.3,57.2 L55.6,61.2Z" fill="none" stroke="#f0f0ff" stroke-width="1"/>
<circle cx="53.3" cy="101.0" r="1.7" fill="#ffffff"/>
<path d="M51.7,122.7L54.9,125.9M51.7,125.9L54.9,122.7" stroke="#f0f0ff" stroke-width="0.9"/>
<path d="M116.6,61.2 L118.9,57.2 L121.2,61.2Z" fill="none" stroke="#f0f0ff" stroke-width="1"/>
<circle cx="118.9" cy="101.0" r="1.7" fill="#ffffff"/>
<path d="M117.3,94.6L120.5,97.8M117.3,97.8L120.5,94.6" stroke="#f0f0ff" stroke-width="0.9"/>
<path d="M182.2,61.2 L184.5,57.2 L186.8,61.2Z" fill="none" stroke="#f0f0ff" stroke-width="1"/>
<circle cx="184.5" cy="101.0" r="1.7" fill="#ffffff"/>
<path d="M182.9,64.6L186.1,67.8M182.9,67.8L186.1,64.6" stroke="#f0f0ff" stroke-width="0.9"/></g>
<text x="46.0" y="82.3" class="w">−210 V</text>
<text x="53.3" y="154.3" class="t" text-anchor="middle">0.55</text>
<text x="118.9" y="154.3" class="t" text-anchor="middle">0.5</text>
<text x="184.5" y="154.3" class="t" text-anchor="middle">0.45</text>
<text x="135.0" y="168" class="t" text-anchor="middle">Cavity length / µm</text>
<clipPath id="clb"><rect x="256.4" y="11.0" width="190.10000000000002" height="131.6"/></clipPath>
<g clip-path="url(#clb)"><g filter="url(#bl)">
<rect x="252.39999999999998" y="7.0" width="198.10000000000002" height="139.6" fill="#000085"/>
<path fill-rule="evenodd" fill="#00008f" d="M449.4,145.5 253.4,145.5 253.4,8.0 449.4,8.0 449.4,145.5Z"/>
<path fill-rule="evenodd" fill="#000099" d="M449.4,145.5 253.4,145.5 253.4,8.0 449.4,8.0 449.4,145.5Z"/>
<path fill-rule="evenodd" fill="#0000a3" d="M449.4,145.5 253.4,145.5 253.4,8.0 449.4,8.0 449.4,145.5Z"/>
<path fill-rule="evenodd" fill="#0000ad" d="M449.4,145.5 253.4,145.5 253.4,8.0 449.4,8.0 449.4,145.5Z"/>
<path fill-rule="evenodd" fill="#0000b8" d="M449.4,145.5 253.4,145.5 253.4,8.0 449.4,8.0 449.4,145.5Z"/>
<path fill-rule="evenodd" fill="#0000c2" d="M449.4,145.5 253.4,145.5 253.4,8.0 449.4,8.0 449.4,145.5Z"/>
<path fill-rule="evenodd" fill="#0000cc" d="M449.4,145.5 253.4,145.5 253.4,8.0 449.4,8.0 449.4,145.5Z"/>
<path fill-rule="evenodd" fill="#0000d6" d="M330.4,145.5 253.4,145.5 253.4,91.6 278.2,88.5 301.2,85.0 312.4,83.0 326.7,80.0 347.5,75.0 361.3,71.0 366.9,69.0 371.3,67.0 373.2,65.5 373.4,65.0 373.2,64.5 371.1,63.5 365.6,62.5 327.9,58.8 309.4,56.5 302.9,55.2 292.1,51.5 282.4,49.2 269.4,47.3 253.4,46.0 253.4,8.0 449.4,8.0 449.4,95.2 439.9,97.0 434.2,98.5 430.9,100.0 430.3,101.0 431.5,102.0 434.6,103.0 449.4,105.9 449.4,116.0 404.3,124.0 383.6,128.5 372.5,131.5 363.0,134.5 352.0,138.5 339.9,143.4 330.4,145.5Z"/>
<path fill-rule="evenodd" fill="#0000e0" d="M294.9,145.5 253.4,145.5 253.4,96.2 283.4,91.5 303.6,88.0 318.6,85.0 333.7,81.5 356.8,75.5 379.9,68.5 392.4,64.0 395.4,62.5 396.7,61.5 397.0,61.0 396.8,60.5 395.9,60.0 390.4,58.9 349.4,55.8 341.4,54.9 336.0,54.0 332.9,53.0 325.7,48.0 318.9,44.6 311.1,42.0 301.9,40.0 291.9,38.5 281.4,37.5 253.4,36.2 253.4,8.0 449.4,8.0 449.4,92.4 436.0,94.5 423.8,97.0 414.5,99.5 410.7,101.0 409.0,102.0 408.2,103.0 408.2,103.5 409.1,104.5 411.4,105.6 419.9,108.5 421.9,109.5 423.0,110.5 423.1,111.5 422.2,112.5 417.8,114.5 409.1,117.0 383.7,123.0 370.5,126.5 354.7,131.5 339.9,136.9 326.4,140.1 302.4,143.6 294.9,145.5Z"/>
<path fill-rule="evenodd" fill="#0000eb" d="M402.4,55.6 394.9,55.9 371.9,54.9 358.4,53.9 350.4,52.7 347.4,51.5 339.7,45.0 335.9,42.6 331.9,40.5 327.9,38.9 322.9,37.3 311.4,34.8 301.4,33.5 288.4,32.4 272.4,31.6 253.4,31.1 253.4,8.0 449.4,8.0 449.4,49.6 420.4,53.7 414.4,54.1 409.9,53.9 402.4,55.6ZM286.9,145.5 253.4,145.5 253.4,116.9 254.6,115.5 254.9,114.5 254.7,113.5 253.4,112.2 253.4,100.2 267.5,97.0 308.6,89.0 326.5,85.0 357.1,77.0 408.4,61.8 431.4,56.7 449.4,53.3 449.4,90.9 432.9,93.5 420.4,96.0 408.5,99.0 403.8,100.5 400.1,102.0 398.4,103.0 397.4,104.0 397.3,105.0 397.5,105.5 398.9,106.7 403.9,109.5 404.9,110.5 405.1,111.5 404.5,112.5 403.1,113.5 397.0,116.0 364.0,125.5 351.7,129.5 339.9,133.7 326.4,137.0 301.6,141.0 296.4,142.2 286.9,145.5Z"/>
<path fill-rule="evenodd" fill="#0000f5" d="M399.9,54.6 391.9,54.6 375.9,53.7 366.4,52.8 358.9,51.5 356.9,50.5 352.0,45.5 348.9,42.8 345.7,40.5 342.2,38.5 337.9,36.5 333.4,34.8 327.9,33.3 321.9,32.0 310.4,30.3 295.9,29.0 276.9,28.1 253.4,27.6 253.4,8.0 449.4,8.0 449.4,48.6 419.4,52.9 412.4,53.2 408.4,52.5 402.9,54.1 399.9,54.6ZM281.9,145.5 253.4,145.5 253.4,120.0 260.1,116.5 262.1,115.0 263.1,113.5 263.3,112.5 262.6,111.0 258.9,107.5 258.0,106.0 258.0,105.0 258.7,104.0 260.8,102.5 265.8,100.5 274.6,98.0 317.3,88.5 345.0,81.5 397.9,66.2 407.4,63.7 430.4,58.7 449.4,55.5 449.4,89.8 435.1,92.0 421.9,94.5 408.9,97.5 398.5,100.5 393.5,102.5 390.5,104.5 390.0,105.5 390.1,106.5 393.6,110.0 394.2,111.5 393.7,112.5 392.5,113.5 387.4,116.0 359.1,125.0 339.9,131.6 326.4,135.0 302.4,139.0 296.4,140.4 281.9,145.5Z"/>
<path fill-rule="evenodd" fill="#0000ff" d="M398.9,54.0 391.9,54.1 377.9,53.3 369.6,52.5 364.4,51.5 362.5,50.5 362.3,48.0 358.9,44.0 355.0,40.5 350.8,37.5 346.2,35.0 341.3,33.0 335.4,31.1 328.9,29.6 316.4,27.7 300.9,26.4 281.4,25.5 253.4,24.9 253.4,8.0 449.4,8.0 449.4,47.8 418.9,52.1 412.4,52.4 408.4,51.8 402.9,53.4 398.9,54.0ZM278.4,145.5 253.4,145.5 253.4,121.5 263.6,117.0 267.0,115.0 268.8,113.5 269.5,112.5 269.8,111.0 269.4,109.5 268.1,107.0 267.9,105.5 268.3,104.5 269.2,103.5 271.5,102.0 276.4,100.0 284.8,97.5 335.4,85.0 403.9,65.7 426.4,60.7 449.4,56.8 449.4,89.0 433.0,91.5 419.9,94.0 404.9,97.5 394.6,100.5 388.2,103.0 385.2,105.0 384.5,106.0 384.4,107.0 386.5,110.5 386.6,111.5 386.2,112.5 383.7,114.5 378.1,117.0 339.9,130.0 326.4,133.6 302.4,137.7 296.4,139.1 278.4,145.5Z"/>
<path fill-rule="evenodd" fill="#000aff" d="M398.4,53.5 390.9,53.5 377.9,52.8 370.3,52.0 365.9,51.0 365.0,50.5 364.6,49.5 364.7,48.0 365.7,44.5 362.6,41.0 358.5,37.5 353.9,34.5 348.8,32.0 342.4,29.7 335.4,27.9 322.4,25.8 305.4,24.3 283.9,23.3 253.4,22.8 253.4,8.0 449.4,8.0 449.4,47.1 419.4,51.4 412.4,51.8 408.4,51.2 402.9,52.9 398.4,53.5ZM275.9,145.5 253.4,145.5 253.4,122.6 265.8,117.5 269.8,115.5 273.0,113.5 274.6,112.0 275.4,110.5 275.5,109.0 275.2,106.5 275.5,105.0 277.3,103.0 279.8,101.5 286.0,99.0 294.2,96.5 344.0,83.5 401.4,67.2 425.4,61.7 449.4,57.7 449.4,88.2 434.6,90.5 418.7,93.5 403.7,97.0 391.4,100.5 384.8,103.0 381.3,105.0 380.4,106.0 379.9,107.0 380.0,108.0 381.0,111.0 380.6,112.5 379.7,113.5 377.5,115.0 371.9,117.5 339.9,128.8 326.4,132.4 302.4,136.6 296.4,138.0 275.9,145.5Z"/>
<path fill-rule="evenodd" fill="#0014ff" d="M398.9,53.0 391.4,53.1 378.4,52.4 370.9,51.5 367.5,50.5 366.8,50.0 366.7,48.0 368.5,41.5 364.9,37.8 359.9,34.0 354.4,31.0 347.9,28.5 339.9,26.3 326.0,24.0 308.9,22.5 285.4,21.5 253.4,21.0 253.4,8.0 449.4,8.0 449.4,46.4 419.4,50.7 412.4,51.1 408.4,50.7 402.9,52.4 398.9,53.0ZM273.9,145.5 253.4,145.5 253.4,123.4 268.4,117.5 273.8,115.0 277.2,113.0 279.0,111.5 280.1,110.0 280.9,106.0 281.6,104.5 283.7,102.5 286.3,101.0 291.1,99.0 297.2,97.0 346.6,83.5 399.9,68.3 409.9,65.8 424.4,62.7 437.4,60.3 449.4,58.4 449.4,87.6 433.8,90.0 418.0,93.0 402.8,96.5 388.7,100.5 381.9,103.0 377.5,105.5 376.6,106.5 376.2,107.5 376.6,111.0 376.4,112.0 375.8,113.0 374.7,114.0 372.3,115.5 365.6,118.5 339.9,127.7 326.9,131.3 302.4,135.8 296.4,137.2 273.9,145.5Z"/>
<path fill-rule="evenodd" fill="#001fff" d="M399.4,52.5 392.9,52.7 381.9,52.2 374.4,51.5 369.9,50.5 369.0,50.0 368.6,49.0 368.7,47.5 371.1,39.5 371.0,39.0 369.9,37.8 364.7,33.5 358.8,30.0 351.9,27.2 343.9,24.9 336.9,23.6 329.5,22.5 311.9,21.0 288.4,20.0 253.4,19.5 253.4,8.0 449.4,8.0 449.4,45.9 418.9,50.2 412.4,50.6 408.4,50.2 403.4,51.8 399.4,52.5ZM271.9,145.5 253.4,145.5 253.4,124.1 269.3,118.0 276.3,115.0 280.1,113.0 282.3,111.5 283.7,110.0 284.6,108.5 285.7,105.5 286.7,104.0 289.1,102.0 291.8,100.5 296.7,98.5 307.4,95.2 398.4,69.3 408.9,66.6 424.4,63.3 435.9,61.2 449.4,59.1 449.4,87.1 433.4,89.5 415.3,93.0 398.5,97.0 384.8,101.0 378.2,103.5 374.7,105.5 373.6,106.5 373.0,107.5 372.8,108.5 372.8,111.5 371.6,113.5 368.0,116.0 360.9,119.1 339.9,126.8 326.4,130.6 302.4,135.1 296.4,136.5 271.9,145.5Z"/>
<path fill-rule="evenodd" fill="#0029ff" d="M399.9,52.1 393.4,52.3 382.4,51.8 374.9,51.0 371.1,50.0 370.6,49.5 370.5,47.5 373.5,37.5 373.3,37.0 368.9,33.1 364.2,30.0 358.9,27.4 352.2,25.0 345.9,23.4 337.9,21.9 328.9,20.8 318.4,19.9 291.9,18.7 253.4,18.1 253.4,8.0 449.4,8.0 449.4,45.3 418.9,49.7 412.4,50.1 408.4,49.7 403.4,51.4 399.9,52.1ZM270.4,145.5 253.4,145.5 253.4,124.7 274.9,116.5 282.6,113.0 285.0,111.5 287.2,109.5 289.8,105.0 291.1,103.5 293.0,102.0 295.6,100.5 303.4,97.5 315.4,93.7 396.9,70.2 408.4,67.3 422.4,64.3 435.9,61.7 449.4,59.6 449.4,86.5 433.3,89.0 415.2,92.5 398.2,96.5 382.6,101.0 376.0,103.5 372.2,105.5 370.2,107.5 369.9,108.5 369.5,112.0 368.0,114.0 364.1,116.5 356.4,119.9 339.9,126.0 326.4,129.9 302.4,134.4 296.4,135.9 270.4,145.5Z"/>
<path fill-rule="evenodd" fill="#0033ff" d="M400.9,51.5 394.9,52.0 384.9,51.6 376.9,50.8 372.9,49.8 372.2,49.0 372.1,47.5 375.6,35.5 371.4,31.8 366.4,28.6 361.1,26.0 354.9,23.8 347.6,22.0 339.4,20.6 330.8,19.5 319.9,18.6 293.9,17.5 253.4,16.9 253.4,8.0 449.4,8.0 449.4,44.9 419.4,49.1 412.4,49.7 408.4,49.3 400.9,51.5ZM268.9,145.5 253.4,145.5 253.4,125.2 276.7,116.5 285.6,112.5 289.9,109.5 293.6,104.5 295.0,103.0 296.4,102.0 299.2,100.5 307.4,97.2 319.4,93.3 375.4,76.8 394.9,71.3 408.4,67.8 422.4,64.8 435.9,62.2 449.4,60.2 449.4,86.1 430.6,89.0 412.9,92.5 396.2,96.5 380.6,101.0 373.9,103.5 369.2,106.0 367.5,108.0 366.8,112.0 365.3,114.0 361.6,116.5 354.4,119.7 339.9,125.2 326.4,129.3 302.4,133.9 296.4,135.3 268.9,145.5Z"/>
<path fill-rule="evenodd" fill="#003dff" d="M397.9,51.5 391.4,51.6 382.9,51.1 377.7,50.5 374.3,49.5 373.8,49.0 373.8,47.0 377.5,34.0 373.4,30.5 368.8,27.5 363.6,25.0 357.4,22.8 350.3,21.0 341.9,19.5 332.9,18.4 321.9,17.5 294.9,16.4 253.4,15.8 253.4,8.0 449.4,8.0 449.4,44.4 419.4,48.7 412.4,49.2 408.4,48.9 402.4,50.9 397.9,51.5ZM267.9,145.5 253.4,145.5 253.4,125.6 278.2,116.5 287.5,112.5 290.9,110.5 292.8,109.0 296.4,104.7 298.4,103.0 300.6,101.5 304.5,99.5 313.9,95.8 328.4,91.2 375.4,77.2 394.9,71.7 408.4,68.3 422.4,65.2 435.9,62.7 449.4,60.6 449.4,85.6 430.9,88.5 413.1,92.0 394.3,96.5 378.8,101.0 371.9,103.5 367.1,106.0 365.2,108.0 364.3,112.0 363.8,113.0 362.3,114.5 358.4,117.0 350.9,120.3 339.9,124.5 326.4,128.7 302.4,133.4 296.4,134.8 267.9,145.5Z"/>
<path fill-rule="evenodd" fill="#0047ff" d="M399.9,51.0 393.9,51.3 384.4,50.9 377.9,50.0 375.5,49.0 375.3,47.0 379.4,32.9 375.5,29.5 370.9,26.5 365.4,23.9 358.9,21.6 352.4,20.0 343.9,18.5 334.9,17.4 323.7,16.5 295.9,15.4 253.4,14.9 253.4,8.0 449.4,8.0 449.4,44.0 419.4,48.3 412.4,48.8 408.4,48.6 403.4,50.3 399.9,51.0ZM266.4,145.5 253.4,145.5 253.4,126.0 281.0,116.0 289.2,112.5 292.9,110.5 295.0,109.0 302.9,102.0 308.2,99.0 317.0,95.5 331.9,90.7 373.4,78.2 394.4,72.3 408.4,68.7 421.9,65.8 435.4,63.3 449.4,61.1 449.4,85.2 431.4,88.0 413.5,91.5 394.5,96.0 377.0,101.0 370.1,103.5 365.1,106.0 363.1,108.0 361.8,112.5 360.2,114.5 355.9,117.3 347.9,120.8 339.9,123.9 326.4,128.1 302.4,132.9 296.4,134.4 271.4,143.8 266.4,145.5Z"/>
<path fill-rule="evenodd" fill="#0057ff" d="M400.9,50.5 395.4,51.0 386.9,50.7 380.3,50.0 377.1,49.0 376.7,48.5 376.8,46.5 381.1,32.0 380.9,31.5 376.7,28.0 371.7,25.0 366.2,22.5 360.4,20.6 353.9,19.0 345.2,17.5 335.9,16.4 324.1,15.5 296.4,14.4 253.4,13.9 253.4,8.0 449.4,8.0 449.4,43.6 419.9,47.9 412.4,48.5 408.4,48.3 400.9,50.5ZM265.4,145.5 253.4,145.5 253.4,126.4 282.3,116.0 291.8,112.0 300.0,107.5 305.6,102.0 307.8,100.5 311.7,98.5 320.5,95.0 334.9,90.2 372.9,78.8 394.4,72.7 408.4,69.2 421.9,66.2 434.9,63.8 449.4,61.5 449.4,84.8 429.1,88.0 411.6,91.5 391.0,96.5 373.9,101.5 367.1,104.0 363.2,106.0 361.1,108.0 360.6,109.0 359.8,112.5 359.2,113.5 357.6,115.0 353.6,117.5 345.4,121.1 339.9,123.3 326.4,127.6 302.4,132.5 296.4,134.0 265.4,145.5Z"/>
<path fill-rule="evenodd" fill="#006bff" d="M400.4,50.0 395.4,50.4 387.9,50.2 382.4,49.5 379.7,48.5 379.4,48.0 379.4,46.5 384.2,30.0 384.0,29.5 379.9,26.2 375.4,23.5 370.0,21.0 364.0,19.0 356.9,17.3 348.9,15.9 339.4,14.8 327.9,13.9 298.9,12.8 253.4,12.3 253.4,8.0 449.4,8.0 449.4,42.9 419.4,47.2 412.4,47.8 408.4,47.7 403.4,49.4 400.4,50.0ZM263.9,145.5 253.4,145.5 253.4,127.0 284.6,116.0 296.4,111.2 302.4,109.3 306.0,107.0 309.4,103.0 311.7,101.0 314.0,99.5 318.0,97.5 327.4,93.8 339.9,89.6 373.9,79.3 394.9,73.3 408.9,69.8 422.9,66.8 436.4,64.3 449.4,62.3 449.4,84.1 430.6,87.0 410.4,91.0 387.9,96.5 369.2,102.0 362.6,104.5 358.9,106.5 357.0,108.5 356.1,112.5 355.5,113.5 354.1,115.0 349.4,118.0 341.9,121.4 326.4,126.8 302.4,131.8 296.4,133.3 263.9,145.5Z"/>
<path fill-rule="evenodd" fill="#0080ff" d="M400.4,49.5 395.4,49.9 388.9,49.6 384.3,49.0 382.0,48.0 381.8,46.0 387.0,28.5 386.9,28.0 382.9,24.8 378.3,22.0 372.7,19.5 366.7,17.5 359.9,15.9 351.4,14.4 341.9,13.4 329.9,12.5 300.4,11.4 253.4,10.9 253.4,8.0 449.4,8.0 449.4,42.3 419.4,46.6 412.4,47.2 408.4,47.1 403.4,48.9 400.4,49.5ZM262.4,145.5 253.4,145.5 253.4,127.5 285.1,116.5 296.4,112.3 302.4,110.9 306.5,109.5 308.6,108.5 310.9,107.0 314.7,102.0 318.8,99.0 327.5,95.0 339.9,90.5 376.4,79.3 401.9,72.2 426.4,66.8 449.4,63.0 449.4,83.4 429.5,86.5 409.5,90.5 386.9,96.0 366.1,102.0 359.3,104.5 355.5,106.5 353.5,108.5 352.5,113.0 351.0,115.0 346.5,118.0 339.9,121.1 326.4,126.0 296.4,132.6 262.4,145.5Z"/>
<path fill-rule="evenodd" fill="#0094ff" d="M400.4,49.0 395.9,49.4 389.9,49.1 386.0,48.5 384.7,48.0 384.1,47.5 384.1,45.5 389.6,27.0 389.4,26.6 385.4,23.4 380.5,20.5 374.9,18.0 369.4,16.3 362.9,14.7 355.9,13.5 347.4,12.4 337.1,11.5 322.4,10.7 305.4,10.2 253.4,9.7 253.4,8.0 449.4,8.0 449.4,41.7 418.9,46.1 411.9,46.7 408.4,46.6 403.4,48.4 400.4,49.0ZM260.9,145.5 253.4,145.5 253.4,128.0 296.4,113.1 302.4,112.0 311.4,109.3 313.9,108.0 315.2,107.0 319.1,101.5 323.1,98.5 331.6,94.5 344.3,90.0 376.9,79.8 402.9,72.7 425.4,67.7 449.4,63.7 449.4,82.7 428.6,86.0 406.5,90.5 382.4,96.5 361.6,102.5 354.8,105.0 351.3,107.0 350.4,108.0 349.8,109.0 349.6,112.5 348.6,114.5 345.7,117.0 339.9,120.1 326.4,125.2 296.4,132.1 260.9,145.5Z"/>
<path fill-rule="evenodd" fill="#00a8ff" d="M400.9,48.5 396.9,48.9 392.4,48.8 388.4,48.2 386.5,47.5 386.1,47.0 386.2,45.0 391.9,25.5 387.4,22.0 382.9,19.4 377.5,17.0 371.3,15.0 364.4,13.4 355.9,12.0 345.4,10.8 334.4,10.0 304.4,9.0 253.4,8.5 253.4,8.0 449.4,8.0 449.4,41.2 418.9,45.6 411.9,46.3 408.4,46.2 403.9,47.8 400.9,48.5ZM259.9,145.5 253.4,145.5 253.4,128.4 271.4,122.1 296.4,113.8 307.9,111.5 311.8,110.5 316.1,109.0 319.9,107.0 320.8,106.0 322.2,102.5 323.3,101.0 325.0,99.5 328.1,97.5 336.9,93.5 351.3,88.5 380.9,79.3 404.9,72.8 427.4,67.9 449.4,64.3 449.4,82.1 427.9,85.5 405.9,90.0 377.8,97.0 355.4,103.5 350.2,105.5 347.7,107.0 346.7,108.0 346.3,109.0 346.6,113.0 345.5,115.0 343.9,116.5 341.6,118.0 334.9,121.2 325.9,124.7 296.4,131.6 259.9,145.5Z"/>
<path fill-rule="evenodd" fill="#00bdff" d="M400.9,48.1 397.4,48.4 393.4,48.3 389.9,47.8 388.2,47.0 388.1,45.0 394.0,24.5 388.8,20.5 382.2,17.0 376.9,15.0 369.9,13.1 362.9,11.7 354.4,10.5 335.9,8.9 308.6,8.0 449.4,8.0 449.4,40.8 419.4,45.1 411.9,45.8 408.4,45.8 403.9,47.4 400.9,48.1ZM258.4,145.5 253.4,145.5 253.4,128.8 270.9,122.7 296.4,114.4 311.4,111.6 324.2,108.0 326.1,107.0 326.5,106.5 326.4,103.0 327.0,101.0 328.3,99.5 330.2,98.0 333.8,96.0 339.5,93.5 356.7,87.5 382.9,79.4 405.9,73.2 427.4,68.5 449.4,64.9 449.4,81.5 427.3,85.0 405.3,89.5 377.1,96.5 350.2,104.0 345.1,106.0 342.9,107.5 342.3,109.0 343.7,113.0 343.5,114.0 343.0,115.0 341.5,116.5 339.9,117.7 333.5,121.0 326.9,123.7 323.9,124.6 296.4,131.1 271.4,140.8 258.4,145.5Z"/>
<path fill-rule="evenodd" fill="#00d1ff" d="M401.4,47.6 397.9,48.0 394.4,47.9 391.4,47.4 389.9,46.5 389.9,44.5 395.9,24.0 396.0,23.5 395.4,23.0 390.7,19.5 386.4,17.1 381.9,15.1 377.1,13.5 371.3,12.0 363.6,10.5 356.7,9.5 338.7,8.0 449.4,8.0 449.4,40.4 419.4,44.7 411.9,45.4 408.4,45.4 401.4,47.6ZM339.9,105.6 335.4,105.8 332.9,105.0 331.6,104.0 330.8,103.0 330.5,102.0 330.9,100.5 332.6,98.5 335.7,96.5 339.9,94.4 347.4,91.5 360.5,87.0 374.7,82.5 401.9,74.8 425.4,69.5 449.4,65.5 449.4,80.9 427.4,84.4 405.4,88.9 382.9,94.3 339.9,105.6ZM257.9,145.5 253.4,145.5 253.4,129.2 271.4,122.9 296.4,114.9 302.4,114.0 319.4,110.7 332.4,108.6 334.9,108.9 337.9,110.1 339.8,111.5 340.8,113.0 340.9,114.0 340.5,115.0 339.8,116.0 338.0,117.5 332.8,120.5 327.1,123.0 315.9,126.1 296.4,130.7 257.9,145.5Z"/>
<path fill-rule="evenodd" fill="#00e5ff" d="M398.4,47.5 393.4,47.1 391.9,46.5 391.6,46.0 391.7,44.0 397.8,23.0 397.4,22.3 393.8,19.5 389.8,17.0 385.6,15.0 380.4,13.1 374.9,11.6 367.4,9.9 353.1,8.0 449.4,8.0 449.4,40.0 419.9,44.3 411.9,45.1 408.4,45.0 402.9,46.9 398.4,47.5ZM341.4,103.0 338.4,103.0 335.9,102.1 335.0,101.0 335.2,99.5 337.1,97.5 341.5,95.0 348.6,92.0 358.3,88.5 381.9,81.0 405.7,74.5 427.4,69.8 449.4,66.1 449.4,80.3 430.9,83.1 412.9,86.6 394.9,90.7 356.9,100.1 347.9,102.0 341.4,103.0ZM256.9,145.5 253.4,145.5 253.4,129.5 271.4,123.2 296.4,115.3 318.9,111.7 329.4,110.8 332.4,110.9 334.9,111.5 336.9,112.6 338.1,114.0 338.0,115.0 337.5,116.0 335.3,118.0 332.1,120.0 326.4,122.6 315.9,125.6 296.4,130.3 256.9,145.5Z"/>
<path fill-rule="evenodd" fill="#00faff" d="M399.9,47.0 397.4,47.1 394.9,46.7 393.4,46.1 393.2,45.5 393.2,44.0 399.5,22.5 399.4,21.7 396.4,19.3 392.9,17.0 385.4,13.4 374.0,10.0 362.7,8.0 449.4,8.0 449.4,39.6 420.4,43.8 411.9,44.7 408.4,44.7 403.4,46.4 399.9,47.0ZM348.9,100.5 344.9,100.9 341.9,100.8 339.9,100.2 339.5,99.0 340.5,97.5 342.7,96.0 351.2,92.0 365.1,87.0 384.2,81.0 400.4,76.5 417.1,72.5 432.4,69.5 449.4,66.7 449.4,79.7 431.9,82.4 414.4,85.7 397.9,89.3 362.0,98.0 348.9,100.5ZM255.9,145.5 253.4,145.5 253.4,129.8 271.9,123.4 296.4,115.7 316.4,112.7 323.4,112.1 329.4,112.1 331.9,112.3 334.4,113.3 335.5,114.5 335.3,116.0 333.6,118.0 330.5,120.0 326.4,122.0 315.9,125.2 296.4,130.0 271.4,139.8 255.9,145.5Z"/>
<path fill-rule="evenodd" fill="#0ffff0" d="M400.9,46.5 397.9,46.6 395.4,46.1 394.7,45.5 394.7,44.0 401.2,21.5 401.0,21.0 395.4,16.8 388.9,13.5 378.9,10.0 369.9,8.0 449.4,8.0 449.4,39.3 419.4,43.6 411.9,44.4 408.4,44.3 403.9,45.9 400.9,46.5ZM353.4,98.5 347.4,98.8 345.9,98.4 345.4,98.0 345.3,97.5 345.9,96.5 347.9,95.0 351.8,93.0 356.5,91.0 370.5,86.0 388.3,80.5 402.9,76.5 417.7,73.0 432.9,70.0 449.4,67.4 449.4,79.1 432.4,81.7 415.9,84.7 399.4,88.3 367.0,96.0 353.4,98.5ZM254.9,145.5 253.4,145.5 253.4,130.1 271.4,123.8 296.4,116.1 316.4,113.3 321.9,112.9 329.9,113.3 332.2,114.0 333.2,115.0 333.1,116.5 331.9,118.0 329.0,120.0 326.0,121.5 315.9,124.7 296.4,129.6 271.4,139.5 254.9,145.5Z"/>
<path fill-rule="evenodd" fill="#2effd1" d="M401.4,46.0 398.9,46.1 396.9,45.8 396.1,45.0 396.1,44.0 402.7,20.5 397.5,16.5 392.0,13.5 382.9,9.9 375.6,8.0 449.4,8.0 449.4,39.0 419.9,43.3 411.9,44.1 408.4,44.0 403.9,45.5 401.4,46.0ZM357.9,96.5 352.9,96.5 351.9,96.0 351.9,95.5 352.8,94.5 355.2,93.0 363.2,89.5 376.1,85.0 392.5,80.0 407.6,76.0 420.9,73.0 433.8,70.5 449.4,68.0 449.4,78.5 433.4,80.8 417.4,83.7 400.9,87.3 369.5,94.5 357.9,96.5ZM254.4,145.5 253.4,145.5 253.4,130.3 271.4,124.1 296.4,116.5 314.9,114.1 320.4,113.6 323.9,113.7 327.9,114.1 329.9,114.6 331.0,115.5 331.2,116.0 331.0,117.0 329.7,118.5 326.6,120.5 324.3,121.5 314.4,124.7 296.4,129.3 271.4,139.2 254.4,145.5Z"/>
<path fill-rule="evenodd" fill="#57ffa8" d="M402.9,45.0 400.9,45.2 399.4,44.9 398.8,44.5 398.8,43.0 405.6,19.5 402.0,16.5 397.3,13.5 388.9,9.6 384.4,8.0 449.4,8.0 449.4,38.4 419.4,42.8 411.9,43.5 408.4,43.4 402.9,45.0ZM373.9,91.0 370.4,91.1 370.0,91.0 369.9,90.5 373.3,88.5 381.0,85.5 391.8,82.0 404.2,78.5 425.8,73.5 449.4,69.5 449.4,77.0 436.9,78.8 422.4,81.3 382.7,89.5 373.9,91.0ZM254.4,145.1 253.4,145.4 253.4,130.8 271.4,124.6 296.4,117.1 313.4,115.2 318.9,114.9 322.0,115.0 324.8,115.5 326.0,116.0 327.0,117.0 326.8,118.0 325.2,119.5 319.9,122.0 311.4,124.7 296.4,128.7 271.4,138.6 254.4,145.1Z"/>
<path fill-rule="evenodd" fill="#80ff80" d="M403.9,44.0 401.8,44.0 401.2,43.5 401.2,42.5 408.2,18.5 405.3,16.0 401.7,13.5 394.5,9.5 391.1,8.0 449.4,8.0 449.4,37.9 418.9,42.3 411.4,43.0 408.4,42.8 403.9,44.0ZM418.9,79.0 416.4,79.2 415.4,79.0 420.0,77.5 428.4,75.5 438.4,73.5 449.4,71.7 449.4,74.8 418.9,79.0ZM254.4,144.6 253.4,145.0 253.4,131.3 272.4,124.8 296.4,117.7 308.9,116.5 316.4,116.0 320.9,116.4 322.4,117.0 322.9,117.5 322.8,118.5 321.9,119.5 316.9,122.0 311.4,123.9 296.4,128.1 271.4,138.2 254.4,144.6Z"/>
<path fill-rule="evenodd" fill="#a8ff57" d="M411.4,42.5 408.4,42.2 404.4,42.9 403.5,42.5 410.5,17.5 405.5,13.5 396.5,8.0 449.4,8.0 449.4,37.4 422.9,41.3 411.4,42.5ZM253.4,144.5 253.4,131.7 271.9,125.3 296.4,118.3 307.9,117.3 313.9,117.1 317.4,117.5 318.6,118.0 318.9,118.5 318.9,119.0 318.0,120.0 314.1,122.0 296.4,127.5 271.4,137.7 253.4,144.5Z"/>
<path fill-rule="evenodd" fill="#d1ff2e" d="M411.9,42.0 409.9,42.0 408.4,41.5 406.4,41.7 405.7,41.5 405.7,41.0 412.7,17.0 412.4,16.5 409.5,14.0 401.0,8.0 449.4,8.0 449.4,36.9 423.4,40.8 411.9,42.0ZM253.4,144.2 253.4,132.0 273.4,125.3 287.4,121.2 296.4,118.8 309.9,118.2 313.4,118.5 314.5,119.0 314.7,119.5 313.9,120.5 311.2,122.0 296.4,126.9 271.4,137.3 253.4,144.2Z"/>
<path fill-rule="evenodd" fill="#faff05" d="M412.9,41.5 409.9,41.4 408.9,41.0 407.8,40.0 414.7,16.0 404.9,8.0 449.4,8.0 449.4,36.5 423.9,40.3 412.9,41.5ZM253.9,143.6 253.4,143.8 253.4,132.4 271.4,126.3 294.4,119.8 297.4,119.4 305.9,119.2 308.9,119.5 310.0,120.0 310.1,120.5 309.7,121.0 306.9,122.5 296.4,126.4 271.4,136.9 253.9,143.6Z"/>
<path fill-rule="evenodd" fill="#ffdb00" d="M413.9,41.0 410.4,41.0 409.4,40.5 409.2,39.5 416.0,16.0 416.1,15.0 411.2,11.0 408.3,8.0 449.4,8.0 449.4,36.1 424.9,39.7 413.9,41.0ZM254.4,143.1 253.4,143.4 253.4,132.7 272.4,126.3 293.9,120.5 296.4,120.0 299.9,120.0 304.4,120.5 305.3,121.0 305.2,121.5 303.7,122.5 289.3,129.0 271.4,136.5 254.4,143.1Z"/>
<path fill-rule="evenodd" fill="#ffb300" d="M414.9,40.5 410.8,40.5 410.1,40.0 409.9,39.0 417.1,13.5 413.9,11.0 411.3,8.0 449.4,8.0 449.4,35.7 425.4,39.3 414.9,40.5ZM253.4,143.1 253.4,133.0 271.4,127.0 289.6,122.0 296.4,120.7 299.4,120.9 301.0,121.5 301.2,122.0 300.9,122.5 299.7,123.5 290.4,128.0 271.4,136.2 253.4,143.1Z"/>
<path fill-rule="evenodd" fill="#ff8a00" d="M415.9,40.0 411.9,40.1 410.9,39.7 410.6,39.0 418.1,12.5 417.9,11.6 416.9,11.5 416.3,11.0 414.0,8.0 449.4,8.0 449.4,35.4 425.9,38.8 415.9,40.0ZM253.9,142.6 253.4,142.8 253.4,133.3 271.4,127.3 287.4,123.0 295.9,121.5 297.9,121.9 298.3,122.5 297.5,123.5 294.3,125.5 287.1,129.0 271.4,135.8 253.9,142.6Z"/>
<path fill-rule="evenodd" fill="#ff6100" d="M416.9,39.5 412.4,39.5 411.5,39.0 411.4,38.5 419.5,10.0 419.4,9.6 417.8,9.5 416.5,8.0 449.4,8.0 449.4,35.0 425.6,38.5 416.9,39.5ZM254.4,142.1 253.4,142.5 253.4,133.6 271.4,127.7 281.2,125.0 291.4,122.8 294.4,122.6 295.4,123.0 294.9,124.0 293.6,125.0 285.9,129.0 271.4,135.4 254.4,142.1Z"/>
<path fill-rule="evenodd" fill="#ff3800" d="M417.9,39.0 413.4,39.0 412.4,38.5 412.3,38.0 421.0,8.0 449.4,8.0 449.4,34.6 417.9,39.0ZM253.4,142.2 253.4,133.9 268.4,128.9 276.9,126.5 287.9,124.0 290.9,123.8 292.1,124.0 292.1,124.5 291.7,125.0 289.6,126.5 280.6,131.0 271.4,135.1 253.4,142.2Z"/>
<path fill-rule="evenodd" fill="#ff0f00" d="M418.4,38.5 414.4,38.5 413.6,38.0 413.5,37.5 422.0,8.0 449.4,8.0 449.4,34.2 427.1,37.5 418.4,38.5ZM254.4,141.5 253.4,141.9 253.4,134.2 267.7,129.5 276.4,127.0 286.3,125.0 288.3,125.0 288.8,125.5 287.9,126.5 285.5,128.0 277.5,132.0 270.7,135.0 254.4,141.5Z"/>
<path fill-rule="evenodd" fill="#e60000" d="M418.4,38.0 415.9,37.9 415.1,37.5 415.1,37.0 423.4,8.0 449.4,8.0 449.4,33.8 427.5,37.0 418.4,38.0ZM253.4,141.6 253.4,134.5 265.5,130.5 274.1,128.0 281.4,126.4 284.4,126.2 285.4,126.5 284.6,127.5 283.1,128.5 275.5,132.5 268.6,135.5 253.4,141.6Z"/>
<path fill-rule="evenodd" fill="#bd0000" d="M423.4,37.0 418.4,37.2 417.4,37.0 417.4,36.5 425.5,8.0 449.4,8.0 449.4,33.3 423.4,37.0ZM253.9,141.1 253.4,141.3 253.4,134.8 271.7,129.0 278.7,127.5 281.8,127.5 281.9,128.0 280.8,129.0 274.5,132.5 267.8,135.5 253.9,141.1Z"/>
<path fill-rule="evenodd" fill="#8a0000" d="M424.9,36.0 422.2,36.0 422.2,35.5 430.1,8.0 449.4,8.0 449.4,32.6 424.9,36.0ZM254.4,140.6 253.4,141.0 253.4,135.1 271.4,129.5 276.9,128.5 278.6,128.5 278.8,129.0 277.1,130.5 271.5,133.5 254.4,140.6Z"/>
</g></g>
<g clip-path="url(#clb)"><line x1="256.4" y1="59.9" x2="446.5" y2="59.9" stroke="#b8b8f4" stroke-width="1.8"/>
<line x1="256.4" y1="105.3" x2="446.5" y2="105.3" stroke="#b8b8f4" stroke-width="1.8"/>
<polyline fill="none" stroke="#e8e8ff" stroke-width="1.1" points="256.4,129.8 258.0,129.2 259.6,128.5 261.2,127.9 262.8,127.2 264.4,126.5 266.0,125.9 267.6,125.2 269.2,124.6 270.8,123.9 272.4,123.2 274.0,122.6 275.6,121.9 277.2,121.2 278.8,120.6 280.4,119.9 282.0,119.2 283.6,118.5 285.2,117.9 286.8,117.2 288.3,116.5 289.9,115.9 291.5,115.2 293.1,114.5 294.7,113.8 296.3,113.1 297.9,112.5 299.5,111.8 301.1,111.1 302.7,110.4 304.3,109.7 305.9,109.0 307.5,108.3 309.1,107.6 310.7,107.0 312.3,106.3 313.9,105.6 315.5,104.9 317.1,104.2 318.7,103.5 320.3,102.8 321.9,102.1 323.5,101.4 325.1,100.7 326.7,100.0 328.3,99.3 329.9,98.6 331.5,97.9 333.1,97.2 334.7,96.5 336.3,95.8 337.9,95.1 339.5,94.3 341.1,93.6 342.7,92.9 344.3,92.2 345.9,91.5 347.5,90.8 349.1,90.1 350.7,89.3 352.2,88.6 353.8,87.9 355.4,87.2 357.0,86.5 358.6,85.7 360.2,85.0 361.8,84.3 363.4,83.6 365.0,82.8 366.6,82.1 368.2,81.4 369.8,80.6 371.4,79.9 373.0,79.2 374.6,78.4 376.2,77.7 377.8,77.0 379.4,76.2 381.0,75.5 382.6,74.7 384.2,74.0 385.8,73.3 387.4,72.5 389.0,71.8 390.6,71.0 392.2,70.3 393.8,69.5 395.4,68.8 397.0,68.0 398.6,67.3 400.2,66.5 401.8,65.8 403.4,65.0 405.0,64.3 406.6,63.5 408.2,62.8 409.8,62.0 411.4,61.2 413.0,60.5 414.6,59.7 416.1,59.0 417.7,58.2 419.3,57.4 420.9,56.7 422.5,55.9 424.1,55.1 425.7,54.4 427.3,53.6 428.9,52.8 430.5,52.0 432.1,51.3 433.7,50.5 435.3,49.7 436.9,48.9 438.5,48.2 440.1,47.4 441.7,46.6 443.3,45.8 444.9,45.0 446.5,44.2"/>
<polyline fill="none" stroke="#cc1e38" stroke-width="1.4" stroke-dasharray="4.4,3.9" stroke-dashoffset="5.3" points="256.4,54.7 258.0,54.6 259.6,54.6 261.2,54.5 262.8,54.5 264.4,54.4 266.0,54.4 267.6,54.3 269.2,54.3 270.8,54.2 272.4,54.2 274.0,54.1 275.6,54.1 277.2,54.0 278.8,54.0 280.4,53.9 282.0,53.9 283.6,53.8 285.2,53.7 286.8,53.7 288.3,53.6 289.9,53.6 291.5,53.5 293.1,53.4 294.7,53.4 296.3,53.3 297.9,53.2 299.5,53.1 301.1,53.1 302.7,53.0 304.3,52.9 305.9,52.8 307.5,52.8 309.1,52.7 310.7,52.6 312.3,52.5 313.9,52.4 315.5,52.3 317.1,52.3 318.7,52.2 320.3,52.1 321.9,52.0 323.5,51.9 325.1,51.8 326.7,51.7 328.3,51.6 329.9,51.5 331.5,51.4 333.1,51.2 334.7,51.1 336.3,51.0 337.9,50.9 339.5,50.8 341.1,50.6 342.7,50.5 344.3,50.4 345.9,50.2 347.5,50.1 349.1,50.0 350.7,49.8 352.2,49.7 353.8,49.5 355.4,49.3 357.0,49.2 358.6,49.0 360.2,48.8 361.8,48.7 363.4,48.5 365.0,48.3 366.6,48.1 368.2,47.9 369.8,47.7 371.4,47.5 373.0,47.3 374.6,47.1 376.2,46.9 377.8,46.6 379.4,46.4 381.0,46.2 382.6,45.9 384.2,45.7 385.8,45.4 387.4,45.2 389.0,44.9 390.6,44.6 392.2,44.3 393.8,44.0 395.4,43.8 397.0,43.5 398.6,43.1 400.2,42.8 401.8,42.5 403.4,42.2 405.0,41.8 406.6,41.5 408.2,41.1 409.8,40.8 411.4,40.4 413.0,40.0 414.6,39.6 416.1,39.2 417.7,38.8 419.3,38.4 420.9,38.0 422.5,37.6 424.1,37.2 425.7,36.7 427.3,36.3 428.9,35.8 430.5,35.3 432.1,34.9 433.7,34.4 435.3,33.9 436.9,33.4 438.5,32.9 440.1,32.4 441.7,31.9 443.3,31.4 444.9,30.8 446.5,30.3"/>
<polyline fill="none" stroke="#d8602c" stroke-width="0.8" stroke-dasharray="1.6,0.9,0.6,0.9" points="256.4,103.5 258.0,103.5 259.6,103.4 261.2,103.4 262.8,103.4 264.4,103.3 266.0,103.3 267.6,103.3 269.2,103.2 270.8,103.2 272.4,103.1 274.0,103.1 275.6,103.0 277.2,103.0 278.8,102.9 280.4,102.9 282.0,102.8 283.6,102.8 285.2,102.7 286.8,102.6 288.3,102.6 289.9,102.5 291.5,102.4 293.1,102.3 294.7,102.3 296.3,102.2 297.9,102.1 299.5,102.0 301.1,101.9 302.7,101.8 304.3,101.7 305.9,101.6 307.5,101.4 309.1,101.3 310.7,101.2 312.3,101.0 313.9,100.9 315.5,100.7 317.1,100.5 318.7,100.4 320.3,100.2 321.9,100.0 323.5,99.8 325.1,99.5 326.7,99.3 328.3,99.1 329.9,98.8 331.5,98.6 333.1,98.3 334.7,98.0 336.3,97.7 337.9,97.4 339.5,97.1 341.1,96.8 342.7,96.4 344.3,96.1 345.9,95.7 347.5,95.4 349.1,95.0 350.7,94.6 352.2,94.2 353.8,93.8 355.4,93.4 357.0,93.0 358.6,92.6 360.2,92.2 361.8,91.8 363.4,91.4 365.0,90.9 366.6,90.5 368.2,90.1 369.8,89.6 371.4,89.2 373.0,88.8 374.6,88.4 376.2,87.9 377.8,87.5 379.4,87.1 381.0,86.6 382.6,86.2 384.2,85.8 385.8,85.3 387.4,84.9 389.0,84.5 390.6,84.1 392.2,83.7 393.8,83.3 395.4,82.9 397.0,82.5 398.6,82.1 400.2,81.7 401.8,81.3 403.4,80.9 405.0,80.5 406.6,80.2 408.2,79.8 409.8,79.4 411.4,79.1 413.0,78.7 414.6,78.4 416.1,78.0 417.7,77.7 419.3,77.4 420.9,77.0 422.5,76.7 424.1,76.4 425.7,76.1 427.3,75.8 428.9,75.5 430.5,75.2 432.1,75.0 433.7,74.7 435.3,74.4 436.9,74.1 438.5,73.9 440.1,73.6 441.7,73.4 443.3,73.1 444.9,72.9 446.5,72.7"/>
<polyline fill="none" stroke="#ececff" stroke-width="1.1" stroke-dasharray="1,1" points="256.4,136.9 258.0,136.3 259.6,135.7 261.2,135.1 262.8,134.5 264.4,134.0 266.0,133.4 267.6,132.8 269.2,132.3 270.8,131.7 272.4,131.1 274.0,130.5 275.6,130.0 277.2,129.4 278.8,128.9 280.4,128.3 282.0,127.7 283.6,127.2 285.2,126.6 286.8,126.1 288.3,125.5 289.9,125.0 291.5,124.5 293.1,123.9 294.7,123.4 296.3,122.9 297.9,122.4 299.5,121.8 301.1,121.3 302.7,120.8 304.3,120.3 305.9,119.8 307.5,119.3 309.1,118.9 310.7,118.4 312.3,117.9 313.9,117.5 315.5,117.0 317.1,116.6 318.7,116.2 320.3,115.8 321.9,115.3 323.5,115.0 325.1,114.6 326.7,114.2 328.3,113.8 329.9,113.5 331.5,113.2 333.1,112.8 334.7,112.5 336.3,112.2 337.9,112.0 339.5,111.7 341.1,111.4 342.7,111.2 344.3,110.9 345.9,110.7 347.5,110.5 349.1,110.3 350.7,110.1 352.2,109.9 353.8,109.8 355.4,109.6 357.0,109.4 358.6,109.3 360.2,109.2 361.8,109.0 363.4,108.9 365.0,108.8 366.6,108.7 368.2,108.6 369.8,108.5 371.4,108.4 373.0,108.3 374.6,108.2 376.2,108.1 377.8,108.0 379.4,108.0 381.0,107.9 382.6,107.8 384.2,107.8 385.8,107.7 387.4,107.6 389.0,107.6 390.6,107.5 392.2,107.5 393.8,107.4 395.4,107.4 397.0,107.3 398.6,107.3 400.2,107.2 401.8,107.2 403.4,107.2 405.0,107.1 406.6,107.1 408.2,107.0 409.8,107.0 411.4,107.0 413.0,106.9 414.6,106.9 416.1,106.9 417.7,106.9 419.3,106.8 420.9,106.8 422.5,106.8 424.1,106.8 425.7,106.7 427.3,106.7 428.9,106.7 430.5,106.7 432.1,106.6 433.7,106.6 435.3,106.6 436.9,106.6 438.5,106.6 440.1,106.5 441.7,106.5 443.3,106.5 444.9,106.5 446.5,106.5"/>
<path d="M267.4,61.2 L269.7,57.2 L272.0,61.2Z" fill="none" stroke="#f0f0ff" stroke-width="1"/>
<circle cx="269.7" cy="105.3" r="1.7" fill="#ffffff"/>
<path d="M268.1,122.7L271.3,125.9M268.1,125.9L271.3,122.7" stroke="#f0f0ff" stroke-width="0.9"/>
<path d="M333.0,61.2 L335.3,57.2 L337.6,61.2Z" fill="none" stroke="#f0f0ff" stroke-width="1"/>
<circle cx="335.3" cy="105.3" r="1.7" fill="#ffffff"/>
<path d="M333.7,94.6L336.9,97.8M333.7,97.8L336.9,94.6" stroke="#f0f0ff" stroke-width="0.9"/>
<path d="M398.6,61.2 L400.9,57.2 L403.2,61.2Z" fill="none" stroke="#f0f0ff" stroke-width="1"/>
<circle cx="400.9" cy="105.3" r="1.7" fill="#ffffff"/>
<path d="M399.3,64.6L402.5,67.8M399.3,67.8L402.5,64.6" stroke="#f0f0ff" stroke-width="0.9"/></g>
<text x="267.0" y="82.3" class="w">110 V</text>
<text x="269.7" y="154.3" class="t" text-anchor="middle">0.55</text>
<text x="335.3" y="154.3" class="t" text-anchor="middle">0.5</text>
<text x="400.9" y="154.3" class="t" text-anchor="middle">0.45</text>
<text x="351.4" y="168" class="t" text-anchor="middle">Cavity length / µm</text>
<clipPath id="clc"><rect x="474.0" y="11.0" width="190.0" height="131.6"/></clipPath>
<g clip-path="url(#clc)"><g filter="url(#bl)">
<rect x="470.0" y="7.0" width="198.0" height="139.6" fill="#000085"/>
<path fill-rule="evenodd" fill="#00008f" d="M667.0,145.5 471.0,145.5 471.0,8.0 667.0,8.0 667.0,145.5Z"/>
<path fill-rule="evenodd" fill="#000099" d="M667.0,145.5 471.0,145.5 471.0,8.0 667.0,8.0 667.0,145.5Z"/>
<path fill-rule="evenodd" fill="#0000a3" d="M667.0,145.5 471.0,145.5 471.0,8.0 667.0,8.0 667.0,145.5Z"/>
<path fill-rule="evenodd" fill="#0000ad" d="M667.0,145.5 471.0,145.5 471.0,8.0 667.0,8.0 667.0,145.5Z"/>
<path fill-rule="evenodd" fill="#0000b8" d="M667.0,145.5 471.0,145.5 471.0,8.0 667.0,8.0 667.0,145.5Z"/>
<path fill-rule="evenodd" fill="#0000c2" d="M667.0,145.5 471.0,145.5 471.0,8.0 667.0,8.0 667.0,145.5Z"/>
<path fill-rule="evenodd" fill="#0000cc" d="M667.0,145.5 471.0,145.5 471.0,8.0 667.0,8.0 667.0,145.5Z"/>
<path fill-rule="evenodd" fill="#0000d6" d="M546.0,145.5 471.0,145.5 471.0,99.2 499.2,94.5 538.0,86.3 547.7,84.5 553.9,83.0 570.5,78.0 589.1,71.5 597.1,68.0 599.1,66.5 599.4,65.5 598.5,64.8 596.5,64.1 589.8,63.0 540.5,58.4 527.5,56.8 520.9,55.5 509.0,51.3 499.5,49.0 486.5,47.2 471.0,45.9 471.0,8.0 667.0,8.0 667.0,94.1 649.4,97.0 633.5,100.5 621.9,104.0 618.6,105.5 617.0,107.0 617.4,108.0 619.5,109.0 634.0,112.7 639.3,114.5 640.8,115.5 641.2,116.5 640.4,117.5 638.7,118.5 634.4,120.0 628.6,121.5 595.3,128.5 577.6,133.0 567.9,136.0 559.7,139.0 554.0,141.4 546.0,145.5Z"/>
<path fill-rule="evenodd" fill="#0000e0" d="M512.5,145.5 471.0,145.5 471.0,103.7 497.8,98.5 520.0,93.7 552.4,86.0 582.7,76.5 626.0,61.9 633.1,60.0 636.8,58.5 637.5,58.0 637.6,57.5 635.5,56.9 631.5,56.9 628.5,57.4 626.0,58.2 621.0,58.9 615.5,59.2 578.0,56.7 560.0,55.1 555.0,54.3 551.5,53.4 548.3,51.5 543.5,47.9 538.3,45.0 531.8,42.5 524.3,40.5 514.5,38.8 502.5,37.6 488.5,36.7 471.0,36.1 471.0,8.0 667.0,8.0 667.0,91.8 650.2,94.5 635.4,97.5 621.3,101.0 609.8,104.5 603.6,107.0 601.2,108.5 600.3,109.5 600.1,110.5 600.8,111.5 605.6,114.5 607.0,116.0 606.9,117.0 606.1,118.0 602.4,120.0 596.0,122.2 572.7,129.0 561.9,132.5 554.0,135.5 540.5,141.6 530.0,143.2 520.0,144.1 512.5,145.5Z"/>
<path fill-rule="evenodd" fill="#0000eb" d="M619.5,55.6 612.0,56.0 593.5,55.3 578.0,54.2 568.5,52.9 565.5,51.9 563.7,50.5 560.4,47.0 557.5,44.5 554.0,42.0 550.5,40.2 546.6,38.5 542.0,37.0 530.6,34.5 519.5,33.1 507.0,32.1 491.5,31.4 471.0,31.0 471.0,8.0 667.0,8.0 667.0,52.3 638.5,54.4 632.0,54.5 627.0,53.9 619.5,55.6ZM503.5,145.5 471.0,145.5 471.0,107.3 482.5,104.3 522.6,95.0 548.7,88.5 563.8,84.0 610.0,69.2 626.0,64.6 646.5,59.8 667.0,55.6 667.0,90.4 651.1,93.0 633.8,96.5 617.7,100.5 604.4,104.5 596.6,107.5 592.4,110.0 591.5,111.0 591.2,112.0 591.4,113.0 592.8,116.0 592.3,117.5 589.9,119.5 586.0,121.3 556.5,131.5 540.5,138.3 532.5,139.7 520.0,141.1 514.0,142.2 503.5,145.5Z"/>
<path fill-rule="evenodd" fill="#0000f5" d="M618.5,54.6 611.5,54.9 596.5,54.1 583.0,52.8 576.1,51.5 575.0,51.0 573.3,49.5 570.1,45.5 567.0,42.3 564.2,40.0 561.1,38.0 557.1,36.0 552.5,34.2 547.5,32.8 541.5,31.5 530.0,29.9 515.0,28.7 497.0,28.0 471.0,27.5 471.0,8.0 667.0,8.0 667.0,51.3 636.5,53.6 629.5,53.4 626.0,52.5 618.5,54.6ZM498.5,145.5 471.0,145.5 471.0,112.8 472.9,111.0 477.7,108.5 486.6,105.5 549.0,89.5 599.0,73.7 619.0,67.8 644.0,61.8 667.0,57.5 667.0,89.5 651.2,92.0 633.8,95.5 615.7,100.0 600.7,104.5 591.5,108.0 587.1,110.5 585.3,112.5 584.6,116.5 583.6,118.0 580.9,120.0 575.0,122.7 554.0,130.4 544.0,134.9 540.5,136.2 532.5,137.7 520.0,139.2 514.0,140.4 498.5,145.5Z"/>
<path fill-rule="evenodd" fill="#0000ff" d="M618.0,54.0 611.5,54.3 598.0,53.7 587.0,52.7 581.3,51.5 579.8,50.5 579.9,48.0 577.1,44.0 573.5,40.1 569.8,37.0 565.7,34.5 561.3,32.5 555.5,30.6 549.5,29.2 537.0,27.4 520.5,26.1 500.0,25.3 471.0,24.8 471.0,8.0 667.0,8.0 667.0,50.5 637.0,52.8 630.0,52.7 626.0,51.9 618.0,54.0ZM495.0,145.5 471.0,145.5 471.0,119.4 473.9,117.0 478.6,112.0 482.5,109.5 488.4,107.0 495.5,104.7 513.0,99.8 550.2,90.0 597.0,75.2 618.5,68.8 630.5,65.8 644.0,62.8 667.0,58.6 667.0,88.7 649.7,91.5 632.5,95.0 614.5,99.5 597.9,104.5 588.5,108.0 582.8,111.0 580.8,113.0 579.2,116.5 578.1,118.0 576.2,119.5 574.0,120.8 568.5,123.3 554.0,128.9 544.0,133.3 540.5,134.6 535.0,135.8 520.0,137.9 514.0,139.0 495.0,145.5Z"/>
<path fill-rule="evenodd" fill="#000aff" d="M617.5,53.5 610.5,53.8 597.0,53.1 587.5,52.1 583.0,51.0 582.2,50.5 582.0,50.0 582.0,48.5 583.5,45.0 583.5,44.1 580.4,40.0 577.0,36.6 572.7,33.5 568.0,31.1 562.4,29.0 556.0,27.4 543.5,25.4 526.1,24.0 503.0,23.2 471.0,22.7 471.0,8.0 667.0,8.0 667.0,49.8 637.0,52.1 630.0,52.0 626.0,51.3 620.5,52.9 617.5,53.5ZM492.0,145.5 471.0,145.5 471.0,121.2 476.6,118.0 484.0,111.8 488.7,109.0 494.8,106.5 504.5,103.3 551.0,90.5 594.0,76.8 616.0,70.3 626.0,67.6 641.0,64.2 653.5,61.7 667.0,59.5 667.0,88.0 648.8,91.0 631.8,94.5 613.9,99.0 597.0,104.0 586.0,108.0 580.0,111.0 577.5,113.0 573.9,118.0 572.0,119.5 569.5,121.0 544.0,132.1 540.5,133.4 534.5,134.6 520.0,136.8 514.0,138.0 492.0,145.5Z"/>
<path fill-rule="evenodd" fill="#0014ff" d="M617.5,53.1 610.5,53.3 598.0,52.7 589.5,51.9 585.0,50.7 584.2,50.0 584.2,48.0 587.0,41.5 583.0,36.6 578.9,33.0 573.8,30.0 567.6,27.5 561.0,25.7 554.3,24.5 547.0,23.5 529.5,22.2 506.0,21.4 471.0,20.9 471.0,8.0 667.0,8.0 667.0,49.2 637.0,51.4 630.0,51.4 626.0,50.7 620.5,52.4 617.5,53.1ZM490.0,145.5 471.0,145.5 471.0,122.4 479.6,118.0 488.5,111.5 492.9,109.0 500.5,105.8 511.5,102.2 551.4,91.0 593.0,77.7 614.5,71.3 626.0,68.3 641.5,64.7 654.0,62.3 667.0,60.2 667.0,87.5 648.3,90.5 631.4,94.0 613.5,98.5 595.0,104.0 585.1,107.5 578.5,110.5 574.8,113.0 570.6,118.0 567.1,120.5 562.2,123.0 544.0,131.0 540.5,132.3 534.5,133.6 520.0,135.9 514.0,137.1 490.0,145.5Z"/>
<path fill-rule="evenodd" fill="#001fff" d="M618.0,52.5 611.5,52.9 600.0,52.5 591.5,51.6 586.9,50.5 586.2,50.0 586.0,49.5 586.1,48.0 589.8,39.0 586.0,34.5 581.5,30.8 576.5,28.0 570.0,25.6 563.8,24.0 556.5,22.7 548.0,21.7 538.0,20.9 512.0,19.9 471.0,19.4 471.0,8.0 667.0,8.0 667.0,48.6 637.0,50.8 629.5,50.8 626.0,50.2 618.0,52.5ZM488.0,145.5 471.0,145.5 471.0,123.2 482.0,118.0 492.0,111.4 497.3,108.5 504.6,105.5 514.0,102.3 550.0,92.0 593.0,78.3 613.0,72.3 626.0,68.8 639.5,65.7 652.5,63.2 667.0,60.8 667.0,86.9 648.2,90.0 631.3,93.5 611.5,98.5 593.2,104.0 583.2,107.5 576.4,110.5 572.6,113.0 567.9,118.0 564.4,120.5 559.6,123.0 544.0,130.1 540.5,131.4 534.5,132.8 520.0,135.1 514.0,136.3 488.0,145.5Z"/>
<path fill-rule="evenodd" fill="#0029ff" d="M613.5,52.5 605.5,52.4 596.5,51.8 591.1,51.0 588.3,50.0 587.9,49.5 588.0,47.5 592.5,37.5 592.5,37.0 589.0,33.0 584.8,29.5 580.0,26.8 574.0,24.4 568.0,22.9 560.5,21.5 551.5,20.4 540.5,19.5 512.5,18.5 471.0,18.1 471.0,8.0 667.0,8.0 667.0,48.0 637.0,50.3 629.5,50.3 626.0,49.8 619.0,51.9 613.5,52.5ZM486.5,145.5 471.0,145.5 471.0,123.9 484.1,118.0 496.0,110.7 501.2,108.0 507.0,105.6 514.0,103.1 550.1,92.5 591.5,79.2 613.0,72.8 626.0,69.3 639.5,66.2 652.5,63.7 667.0,61.3 667.0,86.5 648.4,89.5 629.3,93.5 609.8,98.5 591.5,104.0 580.3,108.0 573.7,111.0 570.6,113.0 565.6,118.0 562.1,120.5 557.4,123.0 544.0,129.3 540.5,130.6 534.0,132.2 520.0,134.5 514.0,135.7 486.5,145.5Z"/>
<path fill-rule="evenodd" fill="#0033ff" d="M616.0,52.0 609.5,52.1 600.0,51.7 594.0,51.0 590.3,50.0 589.7,49.5 589.6,47.5 595.0,35.5 591.5,31.4 587.2,28.0 582.0,25.1 576.2,23.0 570.0,21.4 562.0,20.1 552.5,19.0 542.5,18.3 515.0,17.3 471.0,16.9 471.0,8.0 667.0,8.0 667.0,47.6 637.5,49.8 630.0,49.9 626.0,49.4 620.0,51.3 616.0,52.0ZM485.0,145.5 471.0,145.5 471.0,124.5 485.9,118.0 499.0,110.4 504.0,107.8 514.0,103.8 551.6,92.5 591.0,79.8 611.5,73.7 626.0,69.8 639.5,66.7 652.5,64.1 667.0,61.8 667.0,86.0 648.7,89.0 629.5,93.0 610.0,98.0 590.0,104.0 578.7,108.0 572.0,111.0 568.2,113.5 563.6,118.0 560.1,120.5 556.0,122.8 544.0,128.6 540.5,129.9 534.5,131.4 514.0,135.1 485.0,145.5Z"/>
<path fill-rule="evenodd" fill="#003dff" d="M617.0,51.5 610.5,51.8 601.0,51.4 594.5,50.6 591.5,49.5 591.2,49.0 591.3,47.0 597.2,34.0 593.7,30.0 589.5,26.7 584.5,24.0 579.0,22.0 572.5,20.3 564.8,19.0 556.0,18.0 545.0,17.2 516.5,16.2 471.0,15.8 471.0,8.0 667.0,8.0 667.0,47.1 637.5,49.4 629.5,49.5 626.0,49.0 620.5,50.8 617.0,51.5ZM484.0,145.5 471.0,145.5 471.0,125.0 487.4,118.0 506.9,107.5 514.0,104.6 553.1,92.5 592.5,79.8 611.0,74.2 626.0,70.2 639.0,67.2 652.0,64.7 667.0,62.2 667.0,85.6 646.5,89.0 627.8,93.0 608.5,98.0 588.6,104.0 577.3,108.0 570.5,111.0 566.6,113.5 561.8,118.0 558.3,120.5 551.5,124.2 544.0,127.9 540.5,129.2 534.0,130.9 514.0,134.6 484.0,145.5Z"/>
<path fill-rule="evenodd" fill="#0047ff" d="M618.0,51.1 612.5,51.5 604.0,51.2 596.8,50.5 593.3,49.5 592.7,49.0 592.7,47.0 595.8,40.0 599.2,33.0 599.1,32.5 595.5,28.6 591.5,25.5 586.5,22.8 580.5,20.7 574.0,19.2 566.5,17.9 557.5,16.9 545.5,16.1 516.5,15.2 471.0,14.8 471.0,8.0 667.0,8.0 667.0,46.7 637.5,49.0 630.0,49.1 626.0,48.6 618.0,51.1ZM482.5,145.5 471.0,145.5 471.0,125.4 482.0,121.0 491.0,117.0 504.5,109.6 509.5,107.2 514.0,105.3 531.0,99.7 552.8,93.0 592.0,80.3 610.5,74.8 625.5,70.8 638.5,67.8 653.5,64.8 667.0,62.6 667.0,85.2 647.1,88.5 628.2,92.5 608.8,97.5 587.3,104.0 575.9,108.0 569.1,111.0 565.0,113.5 560.1,118.0 556.7,120.5 550.0,124.3 543.0,127.7 540.5,128.6 534.0,130.3 514.0,134.2 482.5,145.5Z"/>
<path fill-rule="evenodd" fill="#0057ff" d="M616.0,51.0 610.0,51.2 602.0,50.7 596.7,50.0 594.3,49.0 594.1,48.5 594.3,46.5 597.3,39.5 601.1,32.0 601.1,31.5 597.5,27.5 593.5,24.5 588.8,22.0 583.4,20.0 577.0,18.4 568.7,17.0 559.5,16.0 548.5,15.2 519.0,14.3 471.0,13.9 471.0,8.0 667.0,8.0 667.0,46.3 637.0,48.6 629.5,48.7 626.0,48.3 620.0,50.3 616.0,51.0ZM481.5,145.5 471.0,145.5 471.0,125.8 483.2,121.0 492.4,117.0 512.0,106.8 534.0,99.2 552.5,93.5 590.5,81.2 612.0,74.7 625.5,71.1 640.0,67.8 653.5,65.2 667.0,63.0 667.0,84.9 647.8,88.0 628.8,92.0 607.5,97.5 586.1,104.0 574.6,108.0 566.8,111.5 563.0,114.0 558.6,118.0 555.2,120.5 548.4,124.5 541.5,127.7 532.0,130.3 514.0,133.8 481.5,145.5Z"/>
<path fill-rule="evenodd" fill="#006bff" d="M615.0,50.5 609.0,50.6 602.5,50.1 599.0,49.5 596.9,48.5 596.8,46.5 597.2,45.5 600.8,37.5 604.7,30.0 604.6,29.5 601.0,25.6 597.0,22.6 592.0,20.1 586.5,18.1 579.6,16.5 571.5,15.2 562.0,14.3 550.5,13.5 520.0,12.6 471.0,12.3 471.0,8.0 667.0,8.0 667.0,45.6 637.5,47.9 629.5,48.1 626.0,47.7 619.5,49.8 615.0,50.5ZM480.0,145.5 471.0,145.5 471.0,126.4 494.8,117.0 514.0,107.3 536.5,99.3 589.0,82.3 610.5,75.9 625.5,71.9 639.0,68.7 652.0,66.2 667.0,63.7 667.0,84.2 646.8,87.5 628.0,91.5 606.8,97.0 583.7,104.0 572.2,108.0 564.2,111.5 560.4,114.0 555.3,118.5 551.2,121.5 545.5,124.8 541.0,126.9 530.5,129.8 514.0,133.0 480.0,145.5Z"/>
<path fill-rule="evenodd" fill="#0080ff" d="M614.5,50.0 609.5,50.0 604.0,49.6 600.9,49.0 599.7,48.5 599.3,48.0 599.3,46.0 600.5,43.0 607.8,28.0 604.5,24.4 600.5,21.3 596.0,18.9 590.0,16.7 583.0,15.1 575.5,13.9 566.0,12.9 553.5,12.1 522.5,11.2 471.0,10.9 471.0,8.0 667.0,8.0 667.0,45.0 637.5,47.3 629.5,47.5 626.0,47.1 619.5,49.3 614.5,50.0ZM478.5,145.5 471.0,145.5 471.0,127.0 495.7,117.5 502.5,114.5 514.0,108.6 527.2,103.5 539.0,99.4 588.0,83.3 609.5,76.8 628.5,71.8 647.5,67.7 667.0,64.4 667.0,83.5 646.1,87.0 625.3,91.5 604.5,97.0 580.0,104.5 568.6,108.5 561.0,112.0 557.3,114.5 552.5,119.0 549.9,121.0 544.5,124.3 541.0,125.9 531.5,128.7 514.0,132.4 478.5,145.5Z"/>
<path fill-rule="evenodd" fill="#0094ff" d="M615.0,49.5 606.5,49.2 603.5,48.7 601.8,48.0 601.4,47.5 601.4,46.0 602.0,44.5 605.8,36.0 610.6,27.0 610.5,26.6 607.3,23.0 603.4,20.0 598.7,17.5 593.0,15.5 587.0,14.0 580.0,12.8 562.0,11.1 548.0,10.5 529.0,10.0 471.0,9.6 471.0,8.0 667.0,8.0 667.0,44.4 637.5,46.7 629.5,47.0 626.0,46.7 619.5,48.8 615.0,49.5ZM477.0,145.5 471.0,145.5 471.0,127.5 498.8,117.0 505.6,114.0 514.0,109.8 532.4,102.5 588.5,83.8 610.0,77.3 629.0,72.3 648.0,68.2 667.0,65.0 667.0,82.9 645.6,86.5 624.9,91.0 602.3,97.0 577.9,104.5 566.5,108.5 558.7,112.0 555.1,114.5 551.0,118.5 548.0,121.0 544.0,123.6 540.5,125.2 530.5,128.3 514.0,131.8 477.0,145.5Z"/>
<path fill-rule="evenodd" fill="#00a8ff" d="M615.5,49.0 611.0,49.0 606.5,48.6 604.4,48.0 603.7,47.5 603.5,47.0 603.5,45.5 605.9,40.0 613.1,25.5 609.5,21.5 605.5,18.5 600.5,16.0 595.0,14.1 588.5,12.6 581.0,11.5 571.5,10.5 560.0,9.7 528.0,8.8 471.0,8.5 471.0,8.0 667.0,8.0 667.0,43.9 637.5,46.2 629.5,46.5 626.0,46.2 620.0,48.3 615.5,49.0ZM476.0,145.5 471.0,145.5 471.0,127.9 500.4,117.0 514.0,110.9 520.0,108.7 536.1,102.0 590.5,83.7 612.0,77.3 629.5,72.8 648.0,68.8 667.0,65.6 667.0,82.4 645.1,86.0 624.5,90.5 602.0,96.5 574.4,105.0 563.0,109.0 556.5,112.0 553.5,114.0 549.2,118.5 546.9,120.5 544.0,122.5 540.0,124.6 535.5,126.2 530.0,127.8 514.0,131.3 476.0,145.5Z"/>
<path fill-rule="evenodd" fill="#00bdff" d="M616.0,48.5 612.5,48.6 609.0,48.3 606.5,47.7 605.5,47.0 605.6,45.0 607.9,39.5 611.2,32.5 615.5,24.5 613.5,22.0 611.4,20.0 606.5,16.7 602.0,14.6 597.1,13.0 591.0,11.6 583.5,10.4 567.0,8.9 542.1,8.0 667.0,8.0 667.0,43.5 638.0,45.8 629.5,46.1 626.0,45.8 620.0,47.8 616.0,48.5ZM475.0,145.5 471.0,145.5 471.0,128.3 500.7,117.5 514.0,111.8 520.0,109.8 532.1,104.5 539.7,101.5 569.5,91.2 591.0,84.2 612.0,77.9 629.5,73.3 648.0,69.4 667.0,66.2 667.0,81.8 644.8,85.5 622.5,90.4 598.3,97.0 570.8,105.5 560.9,109.0 554.3,112.0 551.5,114.0 547.5,118.5 544.6,121.0 541.4,123.0 538.5,124.4 529.5,127.3 514.0,130.8 475.0,145.5Z"/>
<path fill-rule="evenodd" fill="#00d1ff" d="M617.0,48.0 614.0,48.2 610.5,47.9 608.5,47.5 607.5,47.0 607.3,46.5 607.3,45.0 609.8,39.0 617.6,23.5 615.6,21.0 613.5,19.0 610.8,17.0 607.3,15.0 603.5,13.4 598.5,11.8 586.8,9.5 570.8,8.0 667.0,8.0 667.0,43.1 638.0,45.4 629.5,45.7 626.0,45.4 620.5,47.3 617.0,48.0ZM474.0,145.5 471.0,145.5 471.0,128.6 500.7,118.0 514.0,112.6 520.0,110.9 540.6,102.0 567.6,92.5 592.0,84.4 612.0,78.4 630.0,73.8 648.5,69.8 667.0,66.8 667.0,81.2 644.5,85.0 621.5,90.1 596.5,96.9 565.7,106.5 557.4,109.5 552.2,112.0 549.5,114.0 545.8,118.5 543.7,120.5 540.7,122.5 537.6,124.0 529.0,126.9 514.0,130.4 474.0,145.5Z"/>
<path fill-rule="evenodd" fill="#00e5ff" d="M617.5,47.6 614.0,47.7 610.5,47.2 609.1,46.5 609.0,45.0 613.2,35.0 619.5,23.0 619.5,22.5 618.3,21.0 615.9,18.5 613.0,16.2 610.0,14.5 606.0,12.7 596.0,9.8 584.3,8.0 667.0,8.0 667.0,42.7 638.5,44.9 629.5,45.3 626.0,45.0 620.5,46.9 617.5,47.6ZM473.0,145.5 471.0,145.5 471.0,129.0 500.6,118.5 514.0,113.3 522.2,111.0 539.0,103.5 552.4,98.5 573.8,91.0 593.6,84.5 613.8,78.5 631.0,74.1 648.5,70.4 667.0,67.3 667.0,80.7 643.5,84.6 620.5,89.8 595.0,96.8 562.0,107.0 554.0,109.9 550.0,112.0 547.5,114.0 544.6,118.0 542.7,120.0 540.0,122.0 536.5,123.8 529.0,126.4 514.0,130.0 473.0,145.5Z"/>
<path fill-rule="evenodd" fill="#00faff" d="M618.5,47.0 615.0,47.3 612.0,46.9 611.0,46.5 610.6,46.0 610.6,44.5 615.1,34.0 621.5,21.9 619.5,19.4 617.0,17.0 614.2,15.0 611.5,13.5 608.2,12.0 602.5,10.0 593.2,8.0 667.0,8.0 667.0,42.3 637.5,44.6 629.0,44.9 626.0,44.7 618.5,47.0ZM472.0,145.5 471.0,145.5 471.0,129.3 514.0,114.0 520.0,112.6 524.9,111.0 529.0,109.4 540.2,104.0 553.1,99.0 574.2,91.5 595.5,84.5 614.1,79.0 631.7,74.5 648.5,71.0 667.0,67.9 667.0,80.1 643.0,84.2 620.0,89.4 595.0,96.2 557.0,107.9 551.3,110.0 547.5,112.0 545.4,114.0 543.0,118.0 541.8,119.5 539.3,121.5 535.5,123.5 529.0,125.9 514.0,129.6 472.0,145.5Z"/>
<path fill-rule="evenodd" fill="#0ffff0" d="M619.0,46.5 616.0,46.8 613.4,46.5 612.3,46.0 612.1,45.5 612.1,44.0 616.2,34.5 623.1,21.5 623.1,21.0 621.0,18.5 619.0,16.5 614.5,13.4 607.0,10.0 599.7,8.0 667.0,8.0 667.0,42.0 638.0,44.3 629.0,44.6 626.0,44.4 619.0,46.5ZM471.0,145.5 471.0,129.6 514.0,114.5 520.0,113.3 529.0,110.7 540.7,105.0 556.6,98.5 576.0,91.5 597.4,84.5 616.2,79.0 632.1,75.0 648.7,71.5 667.0,68.5 667.0,79.6 643.0,83.6 620.0,88.8 596.0,95.3 553.0,108.2 548.0,110.1 544.8,112.0 543.5,113.5 541.8,117.5 540.8,119.0 538.0,121.4 534.5,123.3 529.0,125.3 514.0,129.2 489.0,138.9 471.0,145.5Z"/>
<path fill-rule="evenodd" fill="#2effd1" d="M619.5,46.1 616.5,46.3 614.4,46.0 613.6,45.5 613.5,44.0 617.8,34.0 624.8,20.5 621.4,16.5 617.5,13.5 610.5,9.9 605.0,8.0 667.0,8.0 667.0,41.7 638.0,44.0 629.0,44.3 626.0,44.0 619.5,46.1ZM472.0,145.0 471.0,145.4 471.0,129.8 514.0,115.0 522.2,113.5 529.0,111.9 532.5,110.7 537.0,108.8 549.4,102.5 558.9,98.5 578.1,91.5 599.5,84.5 616.6,79.5 632.6,75.5 649.3,72.0 667.0,69.1 667.0,79.0 644.0,82.8 621.5,87.8 602.5,92.8 547.0,108.7 544.0,109.9 542.6,111.0 541.5,112.9 540.6,116.5 539.7,118.5 537.2,121.0 534.0,122.9 528.5,125.0 514.0,128.9 472.0,145.0Z"/>
<path fill-rule="evenodd" fill="#57ffa8" d="M620.5,45.1 618.0,45.3 616.6,45.0 616.2,44.5 616.3,43.0 621.2,32.0 627.9,19.5 625.5,16.4 622.3,13.5 616.5,9.7 613.0,8.0 667.0,8.0 667.0,41.1 637.5,43.4 629.0,43.7 626.0,43.4 620.5,45.1ZM564.0,101.5 561.5,101.7 560.4,101.5 561.2,100.5 562.8,99.5 572.0,95.5 587.2,90.0 604.2,84.5 620.0,80.0 636.4,76.0 651.1,73.0 667.0,70.4 667.0,77.6 647.5,80.8 628.5,84.7 608.5,89.7 575.1,99.0 564.0,101.5ZM472.0,144.5 471.0,144.9 471.0,130.3 489.5,123.8 514.0,115.9 526.0,114.2 532.0,113.7 535.0,114.2 536.2,115.0 536.9,116.0 537.0,118.0 536.1,119.5 533.8,121.5 530.9,123.0 526.5,124.7 514.0,128.2 472.0,144.5Z"/>
<path fill-rule="evenodd" fill="#80ff80" d="M621.5,44.1 620.0,44.2 618.9,44.0 618.6,43.5 618.7,42.5 623.8,31.0 630.6,18.5 628.8,16.0 626.4,13.5 621.4,9.5 619.0,8.0 667.0,8.0 667.0,40.6 637.0,42.9 629.0,43.2 626.0,42.8 621.5,44.1ZM606.5,87.5 604.5,87.7 604.2,87.5 608.0,86.0 615.7,83.5 632.4,79.0 648.4,75.5 667.0,72.3 667.0,75.7 653.5,77.8 640.0,80.2 606.5,87.5ZM472.0,144.1 471.0,144.4 471.0,130.7 489.5,124.3 514.0,116.7 524.0,115.7 528.0,115.6 531.5,116.1 532.5,116.5 533.5,117.5 533.7,118.5 532.9,120.0 531.1,121.5 528.2,123.0 514.0,127.6 489.0,137.6 472.0,144.1Z"/>
<path fill-rule="evenodd" fill="#a8ff57" d="M622.0,43.0 621.4,43.0 620.9,42.5 622.9,37.5 627.3,28.0 633.0,17.5 629.8,13.5 623.9,8.0 667.0,8.0 667.0,40.1 636.5,42.5 629.0,42.7 626.0,42.2 622.0,43.0ZM471.0,144.0 471.0,131.1 489.5,124.7 514.0,117.4 525.5,117.0 528.5,117.5 530.1,118.5 530.2,119.5 529.6,120.5 528.4,121.5 525.5,123.0 514.0,127.0 489.0,137.2 471.0,144.0Z"/>
<path fill-rule="evenodd" fill="#d1ff2e" d="M636.5,42.0 629.0,42.2 627.0,42.0 626.0,41.6 624.0,41.8 623.2,41.5 624.7,37.5 628.2,30.0 635.2,17.0 635.1,16.5 633.5,14.3 630.3,11.0 629.4,9.5 627.9,8.0 667.0,8.0 667.0,39.7 636.5,42.0ZM471.0,143.6 471.0,131.5 490.5,124.8 505.5,120.3 514.0,118.1 523.5,118.2 525.5,118.6 526.7,119.5 526.8,120.0 526.2,121.0 522.8,123.0 514.0,126.4 489.0,136.8 471.0,143.6Z"/>
<path fill-rule="evenodd" fill="#faff05" d="M638.0,41.5 628.0,41.7 626.5,41.2 625.5,40.0 630.4,29.0 637.3,16.0 635.5,13.4 633.3,11.0 631.4,8.0 667.0,8.0 667.0,39.2 638.0,41.5ZM471.5,143.1 471.0,143.3 471.0,131.8 489.0,125.7 503.5,121.4 512.0,119.2 514.0,118.8 518.5,118.9 522.0,119.5 523.0,120.0 523.2,120.5 523.1,121.0 522.0,122.0 517.2,124.5 489.0,136.4 471.5,143.1Z"/>
<path fill-rule="evenodd" fill="#ffdb00" d="M639.5,41.0 629.0,41.3 627.4,41.0 626.9,40.0 627.9,37.0 631.3,29.5 639.0,15.0 635.9,11.0 634.4,8.0 667.0,8.0 667.0,38.8 639.5,41.0ZM472.0,142.5 471.0,142.9 471.0,132.2 489.0,126.0 509.0,120.5 513.0,119.6 515.0,119.5 518.2,120.0 519.2,120.5 519.5,121.0 519.2,122.0 518.1,123.0 510.1,127.0 489.0,136.0 472.0,142.5Z"/>
<path fill-rule="evenodd" fill="#ffb300" d="M641.0,40.5 629.5,40.9 628.0,40.5 627.5,39.5 629.5,34.5 632.5,28.1 640.4,13.5 638.3,11.0 637.1,8.0 667.0,8.0 667.0,38.4 641.0,40.5ZM471.0,142.6 471.0,132.5 489.0,126.4 505.5,121.8 511.0,120.7 514.0,120.3 516.0,120.8 516.9,121.5 516.6,122.5 515.4,123.5 506.7,128.0 489.0,135.6 471.0,142.6Z"/>
<path fill-rule="evenodd" fill="#ff8a00" d="M633.5,40.5 629.5,40.3 628.5,39.9 628.2,39.0 633.5,27.2 641.8,12.0 640.5,11.0 639.6,8.0 667.0,8.0 667.0,38.1 643.5,40.0 633.5,40.5ZM471.5,142.1 471.0,142.3 471.0,132.8 489.0,126.7 502.5,123.1 511.0,121.4 513.5,121.5 514.3,122.0 514.0,123.0 512.2,124.5 505.5,128.0 489.0,135.3 471.5,142.1Z"/>
<path fill-rule="evenodd" fill="#ff6100" d="M636.5,40.0 630.5,39.9 629.4,39.5 629.1,38.5 635.0,25.5 643.7,10.0 643.5,9.6 642.4,9.5 641.8,8.0 667.0,8.0 667.0,37.7 636.5,40.0ZM472.0,141.6 471.0,142.0 471.0,133.1 489.0,127.1 498.5,124.5 508.0,122.6 510.5,122.5 511.6,123.0 511.0,124.0 509.0,125.5 502.2,129.0 489.0,134.9 472.0,141.6Z"/>
<path fill-rule="evenodd" fill="#ff3800" d="M638.5,39.5 632.0,39.6 630.5,39.2 630.0,38.5 632.5,32.4 636.5,24.1 641.0,15.9 645.7,8.0 667.0,8.0 667.0,37.3 638.5,39.5ZM471.0,141.7 471.0,133.4 488.8,127.5 496.2,125.5 505.0,123.7 507.0,123.6 508.4,124.0 507.9,125.0 505.8,126.5 498.0,130.5 489.0,134.5 471.0,141.7Z"/>
<path fill-rule="evenodd" fill="#ff0f00" d="M640.0,39.0 633.0,39.1 631.5,38.6 631.1,38.0 634.0,31.3 637.5,24.1 642.0,15.8 646.7,8.0 667.0,8.0 667.0,36.9 640.0,39.0ZM471.5,141.2 471.0,141.4 471.0,133.7 485.1,129.0 493.9,126.5 501.5,124.9 504.0,124.7 505.2,125.0 505.2,125.5 504.8,126.0 503.5,127.0 496.0,131.0 489.0,134.2 471.5,141.2Z"/>
<path fill-rule="evenodd" fill="#e60000" d="M641.0,38.5 634.0,38.5 632.7,38.0 632.7,37.5 636.0,29.9 639.5,22.8 647.9,8.0 667.0,8.0 667.0,36.5 641.0,38.5ZM471.0,141.1 471.0,133.9 482.9,130.0 491.5,127.5 499.0,126.0 501.5,125.9 502.0,126.3 501.7,127.0 499.6,128.5 492.9,132.0 486.1,135.0 471.0,141.1Z"/>
<path fill-rule="evenodd" fill="#bd0000" d="M640.5,38.0 636.0,37.9 634.9,37.5 634.9,37.0 638.0,29.9 641.5,22.7 649.8,8.0 667.0,8.0 667.0,36.0 640.5,38.0ZM471.5,140.6 471.0,140.8 471.0,134.2 482.4,130.5 491.0,128.0 497.0,127.0 498.5,127.0 499.0,127.5 498.1,128.5 496.6,129.5 489.9,133.0 471.5,140.6Z"/>
<path fill-rule="evenodd" fill="#8a0000" d="M645.5,37.0 640.0,37.0 639.6,36.5 642.5,29.6 646.0,22.2 653.8,8.0 667.0,8.0 667.0,35.3 645.5,37.0ZM472.0,140.1 471.0,140.4 471.0,134.5 489.0,128.9 494.5,128.0 495.5,128.0 496.1,128.5 494.4,130.0 489.0,133.0 472.0,140.1Z"/>
</g></g>
<g clip-path="url(#clc)"><line x1="474.0" y1="59.9" x2="664.0" y2="59.9" stroke="#b8b8f4" stroke-width="1.8"/>
<line x1="474.0" y1="111.3" x2="664.0" y2="111.3" stroke="#b8b8f4" stroke-width="1.8"/>
<polyline fill="none" stroke="#e8e8ff" stroke-width="1.1" points="474.0,129.8 475.6,129.2 477.2,128.5 478.8,127.9 480.4,127.2 482.0,126.5 483.6,125.9 485.2,125.2 486.8,124.6 488.4,123.9 490.0,123.2 491.6,122.6 493.2,121.9 494.8,121.2 496.4,120.6 497.9,119.9 499.5,119.2 501.1,118.6 502.7,117.9 504.3,117.2 505.9,116.5 507.5,115.9 509.1,115.2 510.7,114.5 512.3,113.8 513.9,113.1 515.5,112.5 517.1,111.8 518.7,111.1 520.3,110.4 521.9,109.7 523.5,109.0 525.1,108.3 526.7,107.7 528.3,107.0 529.9,106.3 531.5,105.6 533.1,104.9 534.7,104.2 536.3,103.5 537.9,102.8 539.5,102.1 541.1,101.4 542.7,100.7 544.3,100.0 545.8,99.3 547.4,98.6 549.0,97.9 550.6,97.2 552.2,96.5 553.8,95.8 555.4,95.1 557.0,94.4 558.6,93.6 560.2,92.9 561.8,92.2 563.4,91.5 565.0,90.8 566.6,90.1 568.2,89.4 569.8,88.6 571.4,87.9 573.0,87.2 574.6,86.5 576.2,85.8 577.8,85.0 579.4,84.3 581.0,83.6 582.6,82.9 584.2,82.1 585.8,81.4 587.4,80.7 589.0,79.9 590.6,79.2 592.2,78.5 593.7,77.7 595.3,77.0 596.9,76.3 598.5,75.5 600.1,74.8 601.7,74.0 603.3,73.3 604.9,72.6 606.5,71.8 608.1,71.1 609.7,70.3 611.3,69.6 612.9,68.8 614.5,68.1 616.1,67.3 617.7,66.6 619.3,65.8 620.9,65.1 622.5,64.3 624.1,63.6 625.7,62.8 627.3,62.0 628.9,61.3 630.5,60.5 632.1,59.8 633.7,59.0 635.3,58.2 636.9,57.5 638.5,56.7 640.1,55.9 641.6,55.2 643.2,54.4 644.8,53.6 646.4,52.9 648.0,52.1 649.6,51.3 651.2,50.5 652.8,49.8 654.4,49.0 656.0,48.2 657.6,47.4 659.2,46.6 660.8,45.9 662.4,45.1 664.0,44.3"/>
<polyline fill="none" stroke="#cc1e38" stroke-width="1.4" stroke-dasharray="4.4,3.9" stroke-dashoffset="5.3" points="474.0,54.7 475.6,54.7 477.2,54.6 478.8,54.6 480.4,54.5 482.0,54.5 483.6,54.4 485.2,54.4 486.8,54.3 488.4,54.3 490.0,54.2 491.6,54.2 493.2,54.1 494.8,54.1 496.4,54.0 497.9,54.0 499.5,53.9 501.1,53.9 502.7,53.8 504.3,53.7 505.9,53.7 507.5,53.6 509.1,53.5 510.7,53.5 512.3,53.4 513.9,53.3 515.5,53.3 517.1,53.2 518.7,53.1 520.3,53.1 521.9,53.0 523.5,52.9 525.1,52.8 526.7,52.8 528.3,52.7 529.9,52.6 531.5,52.5 533.1,52.4 534.7,52.3 536.3,52.2 537.9,52.2 539.5,52.1 541.1,52.0 542.7,51.9 544.3,51.8 545.8,51.7 547.4,51.6 549.0,51.4 550.6,51.3 552.2,51.2 553.8,51.1 555.4,51.0 557.0,50.9 558.6,50.7 560.2,50.6 561.8,50.5 563.4,50.3 565.0,50.2 566.6,50.1 568.2,49.9 569.8,49.8 571.4,49.6 573.0,49.5 574.6,49.3 576.2,49.1 577.8,49.0 579.4,48.8 581.0,48.6 582.6,48.4 584.2,48.3 585.8,48.1 587.4,47.9 589.0,47.7 590.6,47.5 592.2,47.3 593.7,47.0 595.3,46.8 596.9,46.6 598.5,46.4 600.1,46.1 601.7,45.9 603.3,45.6 604.9,45.4 606.5,45.1 608.1,44.8 609.7,44.5 611.3,44.3 612.9,44.0 614.5,43.7 616.1,43.4 617.7,43.0 619.3,42.7 620.9,42.4 622.5,42.1 624.1,41.7 625.7,41.4 627.3,41.0 628.9,40.6 630.5,40.3 632.1,39.9 633.7,39.5 635.3,39.1 636.9,38.7 638.5,38.3 640.1,37.9 641.6,37.4 643.2,37.0 644.8,36.5 646.4,36.1 648.0,35.6 649.6,35.2 651.2,34.7 652.8,34.2 654.4,33.7 656.0,33.2 657.6,32.7 659.2,32.2 660.8,31.7 662.4,31.2 664.0,30.6"/>
<polyline fill="none" stroke="#d8602c" stroke-width="0.8" stroke-dasharray="1.6,0.9,0.6,0.9" points="474.0,110.0 475.6,110.0 477.2,109.9 478.8,109.9 480.4,109.9 482.0,109.8 483.6,109.8 485.2,109.8 486.8,109.7 488.4,109.7 490.0,109.6 491.6,109.6 493.2,109.5 494.8,109.5 496.4,109.4 497.9,109.4 499.5,109.3 501.1,109.2 502.7,109.2 504.3,109.1 505.9,109.0 507.5,108.9 509.1,108.8 510.7,108.7 512.3,108.6 513.9,108.5 515.5,108.4 517.1,108.2 518.7,108.1 520.3,107.9 521.9,107.8 523.5,107.6 525.1,107.4 526.7,107.2 528.3,107.0 529.9,106.7 531.5,106.5 533.1,106.2 534.7,106.0 536.3,105.7 537.9,105.4 539.5,105.0 541.1,104.7 542.7,104.3 544.3,104.0 545.8,103.6 547.4,103.2 549.0,102.8 550.6,102.3 552.2,101.9 553.8,101.5 555.4,101.0 557.0,100.6 558.6,100.1 560.2,99.6 561.8,99.2 563.4,98.7 565.0,98.2 566.6,97.7 568.2,97.2 569.8,96.7 571.4,96.2 573.0,95.7 574.6,95.2 576.2,94.7 577.8,94.2 579.4,93.7 581.0,93.2 582.6,92.7 584.2,92.2 585.8,91.7 587.4,91.3 589.0,90.8 590.6,90.3 592.2,89.8 593.7,89.3 595.3,88.8 596.9,88.3 598.5,87.9 600.1,87.4 601.7,86.9 603.3,86.5 604.9,86.0 606.5,85.5 608.1,85.1 609.7,84.6 611.3,84.2 612.9,83.8 614.5,83.3 616.1,82.9 617.7,82.5 619.3,82.1 620.9,81.7 622.5,81.3 624.1,80.9 625.7,80.5 627.3,80.1 628.9,79.7 630.5,79.3 632.1,79.0 633.7,78.6 635.3,78.3 636.9,77.9 638.5,77.6 640.1,77.2 641.6,76.9 643.2,76.6 644.8,76.3 646.4,76.0 648.0,75.7 649.6,75.4 651.2,75.1 652.8,74.8 654.4,74.5 656.0,74.3 657.6,74.0 659.2,73.7 660.8,73.5 662.4,73.2 664.0,73.0"/>
<polyline fill="none" stroke="#ececff" stroke-width="1.1" stroke-dasharray="1,1" points="474.0,136.3 475.6,135.7 477.2,135.2 478.8,134.6 480.4,134.0 482.0,133.4 483.6,132.8 485.2,132.3 486.8,131.7 488.4,131.1 490.0,130.6 491.6,130.0 493.2,129.4 494.8,128.9 496.4,128.3 497.9,127.8 499.5,127.2 501.1,126.7 502.7,126.1 504.3,125.6 505.9,125.1 507.5,124.5 509.1,124.0 510.7,123.5 512.3,123.0 513.9,122.5 515.5,122.0 517.1,121.5 518.7,121.1 520.3,120.6 521.9,120.2 523.5,119.7 525.1,119.3 526.7,118.9 528.3,118.5 529.9,118.1 531.5,117.8 533.1,117.4 534.7,117.1 536.3,116.8 537.9,116.5 539.5,116.2 541.1,116.0 542.7,115.7 544.3,115.5 545.8,115.3 547.4,115.1 549.0,114.9 550.6,114.7 552.2,114.5 553.8,114.4 555.4,114.3 557.0,114.1 558.6,114.0 560.2,113.9 561.8,113.8 563.4,113.7 565.0,113.6 566.6,113.5 568.2,113.4 569.8,113.3 571.4,113.3 573.0,113.2 574.6,113.1 576.2,113.1 577.8,113.0 579.4,113.0 581.0,112.9 582.6,112.9 584.2,112.8 585.8,112.8 587.4,112.7 589.0,112.7 590.6,112.7 592.2,112.6 593.7,112.6 595.3,112.6 596.9,112.5 598.5,112.5 600.1,112.5 601.7,112.4 603.3,112.4 604.9,112.4 606.5,112.4 608.1,112.4 609.7,112.3 611.3,112.3 612.9,112.3 614.5,112.3 616.1,112.2 617.7,112.2 619.3,112.2 620.9,112.2 622.5,112.2 624.1,112.2 625.7,112.1 627.3,112.1 628.9,112.1 630.5,112.1 632.1,112.1 633.7,112.1 635.3,112.1 636.9,112.1 638.5,112.0 640.1,112.0 641.6,112.0 643.2,112.0 644.8,112.0 646.4,112.0 648.0,112.0 649.6,112.0 651.2,112.0 652.8,112.0 654.4,111.9 656.0,111.9 657.6,111.9 659.2,111.9 660.8,111.9 662.4,111.9 664.0,111.9"/>
<path d="M485.0,61.2 L487.3,57.2 L489.6,61.2Z" fill="none" stroke="#f0f0ff" stroke-width="1"/>
<circle cx="487.3" cy="111.3" r="1.7" fill="#ffffff"/>
<path d="M485.7,122.7L488.9,125.9M485.7,125.9L488.9,122.7" stroke="#f0f0ff" stroke-width="0.9"/>
<path d="M550.6,61.2 L552.9,57.2 L555.2,61.2Z" fill="none" stroke="#f0f0ff" stroke-width="1"/>
<circle cx="552.9" cy="111.3" r="1.7" fill="#ffffff"/>
<path d="M551.3,94.6L554.5,97.8M551.3,97.8L554.5,94.6" stroke="#f0f0ff" stroke-width="0.9"/>
<path d="M616.2,61.2 L618.5,57.2 L620.8,61.2Z" fill="none" stroke="#f0f0ff" stroke-width="1"/>
<circle cx="618.5" cy="111.3" r="1.7" fill="#ffffff"/>
<path d="M616.9,64.6L620.1,67.8M616.9,67.8L620.1,64.6" stroke="#f0f0ff" stroke-width="0.9"/></g>
<text x="480.6" y="82.3" class="w">210 V</text>
<text x="487.3" y="154.3" class="t" text-anchor="middle">0.55</text>
<text x="552.9" y="154.3" class="t" text-anchor="middle">0.5</text>
<text x="618.5" y="154.3" class="t" text-anchor="middle">0.45</text>
<text x="569.0" y="168" class="t" text-anchor="middle">Cavity length / µm</text>
<text x="0.5" y="11.6" class="L">a</text>
<text x="243" y="11.6" class="L">b</text>
<text x="461.5" y="11.6" class="L">c</text>
<text x="0.5" y="193.6" class="L">d</text>
<text x="243" y="193.6" class="L">e</text>
<text x="461.5" y="193.6" class="L">f</text>
<text x="36.3" y="15.2" class="t" text-anchor="end">2.25</text>
<text x="36.3" y="32.7" class="t" text-anchor="end">2.2</text>
<text x="36.3" y="50.2" class="t" text-anchor="end">2.15</text>
<text x="36.3" y="67.8" class="t" text-anchor="end">2.1</text>
<text x="36.3" y="85.4" class="t" text-anchor="end">2.05</text>
<text x="36.3" y="102.9" class="t" text-anchor="end">2</text>
<text x="36.3" y="120.5" class="t" text-anchor="end">1.95</text>
<text x="36.3" y="138.0" class="t" text-anchor="end">1.9</text>
<text transform="translate(8.9,74.2) rotate(-90)" class="t" text-anchor="middle">Energy / eV</text>
<rect x="667.4" y="11" width="4.2" height="131.6" fill="url(#cb)"/>
<text x="675.5" y="13.2" class="t">1</text><text x="674.3" y="147.3" class="t">0</text>
<text transform="translate(683,75.3) rotate(-90)" class="t" text-anchor="middle">Transmission / a.u.</text>
<line x1="51.6" y1="199.8" x2="51.6" y2="236.1" stroke="#e4e4e4" stroke-width="0.6"/>
<line x1="117.9" y1="199.8" x2="117.9" y2="236.1" stroke="#e4e4e4" stroke-width="0.6"/>
<line x1="184.2" y1="199.8" x2="184.2" y2="236.1" stroke="#e4e4e4" stroke-width="0.6"/>
<line x1="38.6" y1="217.9" x2="230.5" y2="217.9" stroke="#e4e4e4" stroke-width="0.6"/>
<polyline fill="none" stroke="#6e3a86" stroke-width="1.15" stroke-dasharray="3.6,3.2" points="38.6,236.0 39.8,236.0 41.0,236.0 42.2,236.0 43.4,236.0 44.6,236.0 45.8,236.0 47.0,236.0 48.3,236.0 49.5,236.0 50.7,236.0 51.9,236.0 53.1,236.0 54.3,236.0 55.5,236.0 56.7,236.0 57.9,236.0 59.1,236.0 60.3,236.0 61.5,236.0 62.7,235.9 63.9,235.9 65.2,235.9 66.4,235.9 67.6,235.9 68.8,235.9 70.0,235.9 71.2,235.9 72.4,235.9 73.6,235.9 74.8,235.9 76.0,235.9 77.2,235.9 78.4,235.9 79.6,235.9 80.8,235.9 82.0,235.9 83.3,235.9 84.5,235.9 85.7,235.9 86.9,235.9 88.1,235.9 89.3,235.9 90.5,235.9 91.7,235.9 92.9,235.9 94.1,235.9 95.3,235.9 96.5,235.9 97.7,235.9 98.9,235.9 100.2,235.9 101.4,235.9 102.6,235.9 103.8,235.9 105.0,235.9 106.2,235.9 107.4,235.9 108.6,235.9 109.8,235.9 111.0,235.9 112.2,235.9 113.4,235.9 114.6,235.8 115.8,235.8 117.0,235.8 118.3,235.8 119.5,235.8 120.7,235.8 121.9,235.8 123.1,235.8 124.3,235.8 125.5,235.8 126.7,235.8 127.9,235.8 129.1,235.8 130.3,235.8 131.5,235.8 132.7,235.8 133.9,235.8 135.2,235.8 136.4,235.8 137.6,235.8 138.8,235.8 140.0,235.8 141.2,235.8 142.4,235.8 143.6,235.8 144.8,235.8 146.0,235.7 147.2,235.7 148.4,235.7 149.6,235.7 150.8,235.7 152.1,235.7 153.3,235.7 154.5,235.7 155.7,235.7 156.9,235.7 158.1,235.7 159.3,235.7 160.5,235.7 161.7,235.7 162.9,235.7 164.1,235.7 165.3,235.7 166.5,235.7 167.7,235.7 168.9,235.7 170.2,235.7 171.4,235.7 172.6,235.7 173.8,235.6 175.0,235.6 176.2,235.6 177.4,235.6 178.6,235.6 179.8,235.6 181.0,235.6 182.2,235.6 183.4,235.6 184.6,235.6 185.8,235.6 187.1,235.6 188.3,235.6 189.5,235.6 190.7,235.6 191.9,235.6 193.1,235.6 194.3,235.6 195.5,235.6 196.7,235.6 197.9,235.6 199.1,235.6 200.3,235.6 201.5,235.6 202.7,235.6 203.9,235.6 205.2,235.6 206.4,235.6 207.6,235.6 208.8,235.6 210.0,235.6 211.2,235.6 212.4,235.6 213.6,235.6 214.8,235.6 216.0,235.6 217.2,235.6 218.4,235.6 219.6,235.6 220.8,235.6 222.1,235.6 223.3,235.6 224.5,235.6 225.7,235.6 226.9,235.6 228.1,235.6 229.3,235.6 230.5,235.6"/>
<polyline fill="none" stroke="#cc6038" stroke-width="1.4" stroke-dasharray="3,0.9,0.9,0.9" points="38.6,202.4 39.8,202.4 41.0,202.4 42.2,202.5 43.4,202.5 44.6,202.5 45.8,202.6 47.0,202.6 48.3,202.6 49.5,202.7 50.7,202.7 51.9,202.7 53.1,202.8 54.3,202.8 55.5,202.9 56.7,202.9 57.9,202.9 59.1,203.0 60.3,203.0 61.5,203.1 62.7,203.1 63.9,203.1 65.2,203.2 66.4,203.2 67.6,203.3 68.8,203.3 70.0,203.4 71.2,203.4 72.4,203.5 73.6,203.5 74.8,203.6 76.0,203.6 77.2,203.7 78.4,203.7 79.6,203.8 80.8,203.8 82.0,203.9 83.3,204.0 84.5,204.0 85.7,204.1 86.9,204.1 88.1,204.2 89.3,204.3 90.5,204.3 91.7,204.4 92.9,204.5 94.1,204.5 95.3,204.6 96.5,204.7 97.7,204.8 98.9,204.8 100.2,204.9 101.4,205.0 102.6,205.1 103.8,205.2 105.0,205.2 106.2,205.3 107.4,205.4 108.6,205.5 109.8,205.6 111.0,205.7 112.2,205.8 113.4,205.9 114.6,206.0 115.8,206.1 117.0,206.2 118.3,206.3 119.5,206.4 120.7,206.5 121.9,206.6 123.1,206.7 124.3,206.8 125.5,207.0 126.7,207.1 127.9,207.2 129.1,207.3 130.3,207.5 131.5,207.6 132.7,207.7 133.9,207.9 135.2,208.0 136.4,208.2 137.6,208.3 138.8,208.4 140.0,208.6 141.2,208.8 142.4,208.9 143.6,209.1 144.8,209.2 146.0,209.4 147.2,209.6 148.4,209.7 149.6,209.9 150.8,210.1 152.1,210.3 153.3,210.5 154.5,210.6 155.7,210.8 156.9,211.0 158.1,211.2 159.3,211.4 160.5,211.6 161.7,211.8 162.9,212.0 164.1,212.2 165.3,212.5 166.5,212.7 167.7,212.9 168.9,213.1 170.2,213.3 171.4,213.6 172.6,213.8 173.8,214.0 175.0,214.3 176.2,214.5 177.4,214.7 178.6,215.0 179.8,215.2 181.0,215.5 182.2,215.7 183.4,216.0 184.6,216.2 185.8,216.5 187.1,216.7 188.3,217.0 189.5,217.2 190.7,217.5 191.9,217.7 193.1,218.0 194.3,218.2 195.5,218.5 196.7,218.8 197.9,219.0 199.1,219.3 200.3,219.5 201.5,219.8 202.7,220.0 203.9,220.3 205.2,220.5 206.4,220.8 207.6,221.0 208.8,221.3 210.0,221.5 211.2,221.8 212.4,222.0 213.6,222.3 214.8,222.5 216.0,222.7 217.2,223.0 218.4,223.2 219.6,223.4 220.8,223.6 222.1,223.9 223.3,224.1 224.5,224.3 225.7,224.5 226.9,224.7 228.1,224.9 229.3,225.2 230.5,225.4"/>
<polyline fill="none" stroke="#1f77c0" stroke-width="1.3" stroke-dasharray="none" points="38.6,233.6 39.8,233.6 41.0,233.6 42.2,233.6 43.4,233.5 44.6,233.5 45.8,233.5 47.0,233.4 48.3,233.4 49.5,233.4 50.7,233.3 51.9,233.3 53.1,233.3 54.3,233.2 55.5,233.2 56.7,233.1 57.9,233.1 59.1,233.1 60.3,233.0 61.5,233.0 62.7,233.0 63.9,232.9 65.2,232.9 66.4,232.8 67.6,232.8 68.8,232.7 70.0,232.7 71.2,232.6 72.4,232.6 73.6,232.6 74.8,232.5 76.0,232.5 77.2,232.4 78.4,232.3 79.6,232.3 80.8,232.2 82.0,232.2 83.3,232.1 84.5,232.1 85.7,232.0 86.9,232.0 88.1,231.9 89.3,231.8 90.5,231.8 91.7,231.7 92.9,231.6 94.1,231.6 95.3,231.5 96.5,231.4 97.7,231.4 98.9,231.3 100.2,231.2 101.4,231.1 102.6,231.1 103.8,231.0 105.0,230.9 106.2,230.8 107.4,230.7 108.6,230.6 109.8,230.6 111.0,230.5 112.2,230.4 113.4,230.3 114.6,230.2 115.8,230.1 117.0,230.0 118.3,229.9 119.5,229.8 120.7,229.7 121.9,229.6 123.1,229.4 124.3,229.3 125.5,229.2 126.7,229.1 127.9,229.0 129.1,228.9 130.3,228.7 131.5,228.6 132.7,228.5 133.9,228.3 135.2,228.2 136.4,228.1 137.6,227.9 138.8,227.8 140.0,227.6 141.2,227.5 142.4,227.3 143.6,227.2 144.8,227.0 146.0,226.9 147.2,226.7 148.4,226.5 149.6,226.4 150.8,226.2 152.1,226.0 153.3,225.8 154.5,225.6 155.7,225.5 156.9,225.3 158.1,225.1 159.3,224.9 160.5,224.7 161.7,224.5 162.9,224.3 164.1,224.1 165.3,223.9 166.5,223.6 167.7,223.4 168.9,223.2 170.2,223.0 171.4,222.8 172.6,222.5 173.8,222.3 175.0,222.1 176.2,221.9 177.4,221.6 178.6,221.4 179.8,221.1 181.0,220.9 182.2,220.7 183.4,220.4 184.6,220.2 185.8,219.9 187.1,219.7 188.3,219.4 189.5,219.2 190.7,218.9 191.9,218.7 193.1,218.4 194.3,218.2 195.5,217.9 196.7,217.7 197.9,217.4 199.1,217.2 200.3,216.9 201.5,216.6 202.7,216.4 203.9,216.1 205.2,215.9 206.4,215.6 207.6,215.4 208.8,215.1 210.0,214.9 211.2,214.7 212.4,214.4 213.6,214.2 214.8,213.9 216.0,213.7 217.2,213.5 218.4,213.2 219.6,213.0 220.8,212.8 222.1,212.6 223.3,212.3 224.5,212.1 225.7,211.9 226.9,211.7 228.1,211.5 229.3,211.3 230.5,211.1"/>
<rect x="38.6" y="199.8" width="191.9" height="36.3" fill="none" stroke="#a0a0a0" stroke-width="1"/>
<line x1="51.6" y1="199.8" x2="51.6" y2="201.60000000000002" stroke="#8a8a8a" stroke-width="0.6"/>
<line x1="51.6" y1="236.1" x2="51.6" y2="234.29999999999998" stroke="#8a8a8a" stroke-width="0.6"/>
<line x1="117.9" y1="199.8" x2="117.9" y2="201.60000000000002" stroke="#8a8a8a" stroke-width="0.6"/>
<line x1="117.9" y1="236.1" x2="117.9" y2="234.29999999999998" stroke="#8a8a8a" stroke-width="0.6"/>
<line x1="184.2" y1="199.8" x2="184.2" y2="201.60000000000002" stroke="#8a8a8a" stroke-width="0.6"/>
<line x1="184.2" y1="236.1" x2="184.2" y2="234.29999999999998" stroke="#8a8a8a" stroke-width="0.6"/>
<line x1="38.6" y1="217.9" x2="40.4" y2="217.9" stroke="#8a8a8a" stroke-width="0.6"/>
<line x1="230.5" y1="217.9" x2="228.7" y2="217.9" stroke="#8a8a8a" stroke-width="0.6"/>
<text x="33.6" y="204.1" class="t" text-anchor="end">1</text>
<text x="34.6" y="240.4" class="t" text-anchor="end">0</text>
<text x="65.1" y="222.1" class="t">UP</text>
<line x1="51.6" y1="245.3" x2="51.6" y2="281.2" stroke="#e4e4e4" stroke-width="0.6"/>
<line x1="117.9" y1="245.3" x2="117.9" y2="281.2" stroke="#e4e4e4" stroke-width="0.6"/>
<line x1="184.2" y1="245.3" x2="184.2" y2="281.2" stroke="#e4e4e4" stroke-width="0.6"/>
<line x1="38.6" y1="263.2" x2="230.5" y2="263.2" stroke="#e4e4e4" stroke-width="0.6"/>
<polyline fill="none" stroke="#6e3a86" stroke-width="1.15" stroke-dasharray="3.6,3.2" points="38.6,247.7 39.8,247.7 41.0,247.8 42.2,247.9 43.4,247.9 44.6,248.0 45.8,248.0 47.0,248.1 48.3,248.1 49.5,248.2 50.7,248.3 51.9,248.3 53.1,248.4 54.3,248.5 55.5,248.6 56.7,248.6 57.9,248.7 59.1,248.8 60.3,248.9 61.5,249.0 62.7,249.1 63.9,249.1 65.2,249.2 66.4,249.3 67.6,249.4 68.8,249.6 70.0,249.7 71.2,249.8 72.4,249.9 73.6,250.0 74.8,250.1 76.0,250.3 77.2,250.4 78.4,250.6 79.6,250.7 80.8,250.9 82.0,251.0 83.3,251.2 84.5,251.3 85.7,251.5 86.9,251.7 88.1,251.9 89.3,252.1 90.5,252.3 91.7,252.5 92.9,252.7 94.1,252.9 95.3,253.2 96.5,253.4 97.7,253.7 98.9,253.9 100.2,254.2 101.4,254.5 102.6,254.7 103.8,255.0 105.0,255.3 106.2,255.6 107.4,255.9 108.6,256.3 109.8,256.6 111.0,256.9 112.2,257.3 113.4,257.7 114.6,258.0 115.8,258.4 117.0,258.8 118.3,259.2 119.5,259.6 120.7,260.0 121.9,260.4 123.1,260.8 124.3,261.2 125.5,261.7 126.7,262.1 127.9,262.5 129.1,263.0 130.3,263.4 131.5,263.8 132.7,264.3 133.9,264.7 135.2,265.1 136.4,265.6 137.6,266.0 138.8,266.4 140.0,266.8 141.2,267.2 142.4,267.7 143.6,268.1 144.8,268.5 146.0,268.8 147.2,269.2 148.4,269.6 149.6,270.0 150.8,270.3 152.1,270.7 153.3,271.0 154.5,271.3 155.7,271.7 156.9,272.0 158.1,272.3 159.3,272.6 160.5,272.9 161.7,273.2 162.9,273.4 164.1,273.7 165.3,273.9 166.5,274.2 167.7,274.4 168.9,274.6 170.2,274.9 171.4,275.1 172.6,275.3 173.8,275.5 175.0,275.7 176.2,275.9 177.4,276.0 178.6,276.2 179.8,276.4 181.0,276.5 182.2,276.7 183.4,276.8 184.6,277.0 185.8,277.1 187.1,277.3 188.3,277.4 189.5,277.5 190.7,277.6 191.9,277.8 193.1,277.9 194.3,278.0 195.5,278.1 196.7,278.2 197.9,278.3 199.1,278.4 200.3,278.5 201.5,278.5 202.7,278.6 203.9,278.7 205.2,278.8 206.4,278.9 207.6,278.9 208.8,279.0 210.0,279.1 211.2,279.1 212.4,279.2 213.6,279.3 214.8,279.3 216.0,279.4 217.2,279.4 218.4,279.5 219.6,279.5 220.8,279.6 222.1,279.6 223.3,279.7 224.5,279.7 225.7,279.8 226.9,279.8 228.1,279.8 229.3,279.9 230.5,279.9"/>
<polyline fill="none" stroke="#cc6038" stroke-width="1.4" stroke-dasharray="3,0.9,0.9,0.9" points="38.6,280.7 39.8,280.7 41.0,280.7 42.2,280.6 43.4,280.6 44.6,280.6 45.8,280.6 47.0,280.6 48.3,280.6 49.5,280.6 50.7,280.6 51.9,280.5 53.1,280.5 54.3,280.5 55.5,280.5 56.7,280.5 57.9,280.5 59.1,280.4 60.3,280.4 61.5,280.4 62.7,280.4 63.9,280.3 65.2,280.3 66.4,280.3 67.6,280.3 68.8,280.3 70.0,280.2 71.2,280.2 72.4,280.2 73.6,280.1 74.8,280.1 76.0,280.1 77.2,280.0 78.4,280.0 79.6,280.0 80.8,279.9 82.0,279.9 83.3,279.9 84.5,279.8 85.7,279.8 86.9,279.7 88.1,279.7 89.3,279.6 90.5,279.6 91.7,279.5 92.9,279.5 94.1,279.4 95.3,279.3 96.5,279.3 97.7,279.2 98.9,279.1 100.2,279.1 101.4,279.0 102.6,278.9 103.8,278.8 105.0,278.7 106.2,278.7 107.4,278.6 108.6,278.5 109.8,278.4 111.0,278.3 112.2,278.2 113.4,278.1 114.6,277.9 115.8,277.8 117.0,277.7 118.3,277.6 119.5,277.4 120.7,277.3 121.9,277.2 123.1,277.0 124.3,276.9 125.5,276.7 126.7,276.6 127.9,276.4 129.1,276.3 130.3,276.1 131.5,275.9 132.7,275.8 133.9,275.6 135.2,275.4 136.4,275.2 137.6,275.0 138.8,274.8 140.0,274.6 141.2,274.4 142.4,274.2 143.6,274.0 144.8,273.8 146.0,273.6 147.2,273.4 148.4,273.2 149.6,273.0 150.8,272.7 152.1,272.5 153.3,272.3 154.5,272.1 155.7,271.8 156.9,271.6 158.1,271.4 159.3,271.1 160.5,270.9 161.7,270.7 162.9,270.4 164.1,270.2 165.3,269.9 166.5,269.7 167.7,269.4 168.9,269.2 170.2,268.9 171.4,268.7 172.6,268.4 173.8,268.1 175.0,267.9 176.2,267.6 177.4,267.4 178.6,267.1 179.8,266.8 181.0,266.6 182.2,266.3 183.4,266.0 184.6,265.8 185.8,265.5 187.1,265.2 188.3,265.0 189.5,264.7 190.7,264.4 191.9,264.1 193.1,263.9 194.3,263.6 195.5,263.3 196.7,263.1 197.9,262.8 199.1,262.5 200.3,262.3 201.5,262.0 202.7,261.7 203.9,261.5 205.2,261.2 206.4,260.9 207.6,260.7 208.8,260.4 210.0,260.2 211.2,259.9 212.4,259.7 213.6,259.4 214.8,259.2 216.0,258.9 217.2,258.7 218.4,258.5 219.6,258.2 220.8,258.0 222.1,257.8 223.3,257.5 224.5,257.3 225.7,257.1 226.9,256.9 228.1,256.7 229.3,256.5 230.5,256.2"/>
<polyline fill="none" stroke="#1f77c0" stroke-width="1.3" stroke-dasharray="none" points="38.6,279.3 39.8,279.3 41.0,279.2 42.2,279.2 43.4,279.2 44.6,279.1 45.8,279.1 47.0,279.0 48.3,279.0 49.5,278.9 50.7,278.9 51.9,278.8 53.1,278.8 54.3,278.7 55.5,278.7 56.7,278.6 57.9,278.5 59.1,278.5 60.3,278.4 61.5,278.3 62.7,278.3 63.9,278.2 65.2,278.1 66.4,278.1 67.6,278.0 68.8,277.9 70.0,277.8 71.2,277.7 72.4,277.6 73.6,277.5 74.8,277.4 76.0,277.3 77.2,277.2 78.4,277.1 79.6,277.0 80.8,276.9 82.0,276.8 83.3,276.7 84.5,276.5 85.7,276.4 86.9,276.3 88.1,276.1 89.3,276.0 90.5,275.8 91.7,275.7 92.9,275.5 94.1,275.4 95.3,275.2 96.5,275.0 97.7,274.8 98.9,274.7 100.2,274.5 101.4,274.3 102.6,274.1 103.8,273.8 105.0,273.6 106.2,273.4 107.4,273.2 108.6,273.0 109.8,272.7 111.0,272.5 112.2,272.2 113.4,272.0 114.6,271.7 115.8,271.5 117.0,271.2 118.3,270.9 119.5,270.7 120.7,270.4 121.9,270.1 123.1,269.9 124.3,269.6 125.5,269.3 126.7,269.0 127.9,268.8 129.1,268.5 130.3,268.2 131.5,268.0 132.7,267.7 133.9,267.4 135.2,267.2 136.4,266.9 137.6,266.7 138.8,266.5 140.0,266.2 141.2,266.0 142.4,265.8 143.6,265.6 144.8,265.4 146.0,265.2 147.2,265.1 148.4,264.9 149.6,264.8 150.8,264.6 152.1,264.5 153.3,264.4 154.5,264.3 155.7,264.2 156.9,264.1 158.1,264.0 159.3,264.0 160.5,263.9 161.7,263.9 162.9,263.9 164.1,263.8 165.3,263.8 166.5,263.8 167.7,263.9 168.9,263.9 170.2,263.9 171.4,264.0 172.6,264.0 173.8,264.1 175.0,264.1 176.2,264.2 177.4,264.3 178.6,264.4 179.8,264.5 181.0,264.6 182.2,264.7 183.4,264.8 184.6,264.9 185.8,265.1 187.1,265.2 188.3,265.4 189.5,265.5 190.7,265.6 191.9,265.8 193.1,266.0 194.3,266.1 195.5,266.3 196.7,266.5 197.9,266.6 199.1,266.8 200.3,267.0 201.5,267.2 202.7,267.3 203.9,267.5 205.2,267.7 206.4,267.9 207.6,268.1 208.8,268.3 210.0,268.4 211.2,268.6 212.4,268.8 213.6,269.0 214.8,269.2 216.0,269.4 217.2,269.6 218.4,269.7 219.6,269.9 220.8,270.1 222.1,270.3 223.3,270.5 224.5,270.7 225.7,270.8 226.9,271.0 228.1,271.2 229.3,271.4 230.5,271.5"/>
<rect x="38.6" y="245.3" width="191.9" height="35.9" fill="none" stroke="#a0a0a0" stroke-width="1"/>
<line x1="51.6" y1="245.3" x2="51.6" y2="247.10000000000002" stroke="#8a8a8a" stroke-width="0.6"/>
<line x1="51.6" y1="281.2" x2="51.6" y2="279.4" stroke="#8a8a8a" stroke-width="0.6"/>
<line x1="117.9" y1="245.3" x2="117.9" y2="247.10000000000002" stroke="#8a8a8a" stroke-width="0.6"/>
<line x1="117.9" y1="281.2" x2="117.9" y2="279.4" stroke="#8a8a8a" stroke-width="0.6"/>
<line x1="184.2" y1="245.3" x2="184.2" y2="247.10000000000002" stroke="#8a8a8a" stroke-width="0.6"/>
<line x1="184.2" y1="281.2" x2="184.2" y2="279.4" stroke="#8a8a8a" stroke-width="0.6"/>
<line x1="38.6" y1="263.2" x2="40.4" y2="263.2" stroke="#8a8a8a" stroke-width="0.6"/>
<line x1="230.5" y1="263.2" x2="228.7" y2="263.2" stroke="#8a8a8a" stroke-width="0.6"/>
<text x="33.6" y="249.6" class="t" text-anchor="end">1</text>
<text x="34.6" y="285.5" class="t" text-anchor="end">0</text>
<text x="65.1" y="267.4" class="t">MP</text>
<line x1="51.6" y1="291.4" x2="51.6" y2="327.6" stroke="#e4e4e4" stroke-width="0.6"/>
<line x1="117.9" y1="291.4" x2="117.9" y2="327.6" stroke="#e4e4e4" stroke-width="0.6"/>
<line x1="184.2" y1="291.4" x2="184.2" y2="327.6" stroke="#e4e4e4" stroke-width="0.6"/>
<line x1="38.6" y1="309.5" x2="230.5" y2="309.5" stroke="#e4e4e4" stroke-width="0.6"/>
<polyline fill="none" stroke="#6e3a86" stroke-width="1.15" stroke-dasharray="3.6,3.2" points="38.6,325.3 39.8,325.3 41.0,325.2 42.2,325.2 43.4,325.1 44.6,325.0 45.8,325.0 47.0,324.9 48.3,324.9 49.5,324.8 50.7,324.7 51.9,324.7 53.1,324.6 54.3,324.5 55.5,324.5 56.7,324.4 57.9,324.3 59.1,324.2 60.3,324.1 61.5,324.1 62.7,324.0 63.9,323.9 65.2,323.8 66.4,323.7 67.6,323.6 68.8,323.5 70.0,323.4 71.2,323.2 72.4,323.1 73.6,323.0 74.8,322.9 76.0,322.7 77.2,322.6 78.4,322.5 79.6,322.3 80.8,322.2 82.0,322.0 83.3,321.9 84.5,321.7 85.7,321.5 86.9,321.3 88.1,321.1 89.3,320.9 90.5,320.7 91.7,320.5 92.9,320.3 94.1,320.1 95.3,319.9 96.5,319.6 97.7,319.4 98.9,319.1 100.2,318.9 101.4,318.6 102.6,318.3 103.8,318.0 105.0,317.7 106.2,317.4 107.4,317.1 108.6,316.8 109.8,316.4 111.0,316.1 112.2,315.7 113.4,315.4 114.6,315.0 115.8,314.6 117.0,314.3 118.3,313.9 119.5,313.5 120.7,313.1 121.9,312.7 123.1,312.2 124.3,311.8 125.5,311.4 126.7,311.0 127.9,310.5 129.1,310.1 130.3,309.7 131.5,309.2 132.7,308.8 133.9,308.4 135.2,307.9 136.4,307.5 137.6,307.1 138.8,306.6 140.0,306.2 141.2,305.8 142.4,305.4 143.6,305.0 144.8,304.6 146.0,304.2 147.2,303.8 148.4,303.5 149.6,303.1 150.8,302.7 152.1,302.4 153.3,302.0 154.5,301.7 155.7,301.4 156.9,301.1 158.1,300.8 159.3,300.5 160.5,300.2 161.7,299.9 162.9,299.7 164.1,299.4 165.3,299.1 166.5,298.9 167.7,298.7 168.9,298.4 170.2,298.2 171.4,298.0 172.6,297.8 173.8,297.6 175.0,297.4 176.2,297.2 177.4,297.1 178.6,296.9 179.8,296.7 181.0,296.6 182.2,296.4 183.4,296.3 184.6,296.1 185.8,296.0 187.1,295.9 188.3,295.7 189.5,295.6 190.7,295.5 191.9,295.4 193.1,295.3 194.3,295.2 195.5,295.1 196.7,295.0 197.9,294.9 199.1,294.8 200.3,294.7 201.5,294.6 202.7,294.5 203.9,294.4 205.2,294.4 206.4,294.3 207.6,294.2 208.8,294.1 210.0,294.1 211.2,294.0 212.4,293.9 213.6,293.9 214.8,293.8 216.0,293.8 217.2,293.7 218.4,293.7 219.6,293.6 220.8,293.6 222.1,293.5 223.3,293.5 224.5,293.4 225.7,293.4 226.9,293.3 228.1,293.3 229.3,293.2 230.5,293.2"/>
<polyline fill="none" stroke="#cc6038" stroke-width="1.4" stroke-dasharray="3,0.9,0.9,0.9" points="38.6,325.5 39.8,325.5 41.0,325.5 42.2,325.5 43.4,325.5 44.6,325.4 45.8,325.4 47.0,325.4 48.3,325.4 49.5,325.4 50.7,325.4 51.9,325.3 53.1,325.3 54.3,325.3 55.5,325.3 56.7,325.3 57.9,325.2 59.1,325.2 60.3,325.2 61.5,325.2 62.7,325.1 63.9,325.1 65.2,325.1 66.4,325.1 67.6,325.1 68.8,325.0 70.0,325.0 71.2,325.0 72.4,325.0 73.6,325.0 74.8,324.9 76.0,324.9 77.2,324.9 78.4,324.9 79.6,324.9 80.8,324.9 82.0,324.8 83.3,324.8 84.5,324.8 85.7,324.8 86.9,324.8 88.1,324.8 89.3,324.7 90.5,324.7 91.7,324.7 92.9,324.7 94.1,324.7 95.3,324.7 96.5,324.7 97.7,324.7 98.9,324.7 100.2,324.7 101.4,324.7 102.6,324.7 103.8,324.7 105.0,324.7 106.2,324.7 107.4,324.7 108.6,324.7 109.8,324.7 111.0,324.7 112.2,324.7 113.4,324.7 114.6,324.7 115.8,324.7 117.0,324.8 118.3,324.8 119.5,324.8 120.7,324.8 121.9,324.9 123.1,324.9 124.3,324.9 125.5,325.0 126.7,325.0 127.9,325.0 129.1,325.1 130.3,325.1 131.5,325.1 132.7,325.2 133.9,325.2 135.2,325.3 136.4,325.3 137.6,325.4 138.8,325.4 140.0,325.4 141.2,325.5 142.4,325.5 143.6,325.6 144.8,325.6 146.0,325.7 147.2,325.7 148.4,325.8 149.6,325.8 150.8,325.9 152.1,325.9 153.3,325.9 154.5,326.0 155.7,326.0 156.9,326.1 158.1,326.1 159.3,326.2 160.5,326.2 161.7,326.2 162.9,326.3 164.1,326.3 165.3,326.3 166.5,326.4 167.7,326.4 168.9,326.4 170.2,326.5 171.4,326.5 172.6,326.5 173.8,326.6 175.0,326.6 176.2,326.6 177.4,326.7 178.6,326.7 179.8,326.7 181.0,326.7 182.2,326.8 183.4,326.8 184.6,326.8 185.8,326.8 187.1,326.8 188.3,326.9 189.5,326.9 190.7,326.9 191.9,326.9 193.1,326.9 194.3,327.0 195.5,327.0 196.7,327.0 197.9,327.0 199.1,327.0 200.3,327.0 201.5,327.0 202.7,327.1 203.9,327.1 205.2,327.1 206.4,327.1 207.6,327.1 208.8,327.1 210.0,327.1 211.2,327.1 212.4,327.2 213.6,327.2 214.8,327.2 216.0,327.2 217.2,327.2 218.4,327.2 219.6,327.2 220.8,327.2 222.1,327.2 223.3,327.2 224.5,327.2 225.7,327.2 226.9,327.3 228.1,327.3 229.3,327.3 230.5,327.3"/>
<polyline fill="none" stroke="#1f77c0" stroke-width="1.3" stroke-dasharray="none" points="38.6,295.8 39.8,295.8 41.0,295.9 42.2,296.0 43.4,296.0 44.6,296.1 45.8,296.2 47.0,296.3 48.3,296.3 49.5,296.4 50.7,296.5 51.9,296.6 53.1,296.7 54.3,296.8 55.5,296.9 56.7,297.0 57.9,297.1 59.1,297.2 60.3,297.3 61.5,297.4 62.7,297.5 63.9,297.6 65.2,297.7 66.4,297.8 67.6,298.0 68.8,298.1 70.0,298.2 71.2,298.3 72.4,298.5 73.6,298.6 74.8,298.8 76.0,298.9 77.2,299.1 78.4,299.2 79.6,299.4 80.8,299.6 82.0,299.7 83.3,299.9 84.5,300.1 85.7,300.3 86.9,300.5 88.1,300.7 89.3,300.9 90.5,301.1 91.7,301.3 92.9,301.6 94.1,301.8 95.3,302.0 96.5,302.3 97.7,302.5 98.9,302.8 100.2,303.1 101.4,303.3 102.6,303.6 103.8,303.9 105.0,304.2 106.2,304.5 107.4,304.8 108.6,305.2 109.8,305.5 111.0,305.8 112.2,306.2 113.4,306.5 114.6,306.9 115.8,307.2 117.0,307.6 118.3,307.9 119.5,308.3 120.7,308.7 121.9,309.1 123.1,309.5 124.3,309.9 125.5,310.3 126.7,310.7 127.9,311.0 129.1,311.4 130.3,311.8 131.5,312.2 132.7,312.6 133.9,313.0 135.2,313.4 136.4,313.8 137.6,314.2 138.8,314.6 140.0,314.9 141.2,315.3 142.4,315.7 143.6,316.0 144.8,316.4 146.0,316.7 147.2,317.0 148.4,317.4 149.6,317.7 150.8,318.0 152.1,318.3 153.3,318.6 154.5,318.9 155.7,319.2 156.9,319.4 158.1,319.7 159.3,320.0 160.5,320.2 161.7,320.4 162.9,320.7 164.1,320.9 165.3,321.1 166.5,321.3 167.7,321.5 168.9,321.7 170.2,321.9 171.4,322.1 172.6,322.3 173.8,322.4 175.0,322.6 176.2,322.7 177.4,322.9 178.6,323.0 179.8,323.2 181.0,323.3 182.2,323.4 183.4,323.6 184.6,323.7 185.8,323.8 187.1,323.9 188.3,324.0 189.5,324.1 190.7,324.2 191.9,324.3 193.1,324.4 194.3,324.5 195.5,324.6 196.7,324.7 197.9,324.7 199.1,324.8 200.3,324.9 201.5,325.0 202.7,325.0 203.9,325.1 205.2,325.2 206.4,325.2 207.6,325.3 208.8,325.3 210.0,325.4 211.2,325.5 212.4,325.5 213.6,325.6 214.8,325.6 216.0,325.7 217.2,325.7 218.4,325.7 219.6,325.8 220.8,325.8 222.1,325.9 223.3,325.9 224.5,325.9 225.7,326.0 226.9,326.0 228.1,326.1 229.3,326.1 230.5,326.1"/>
<rect x="38.6" y="291.4" width="191.9" height="36.2" fill="none" stroke="#a0a0a0" stroke-width="1"/>
<line x1="51.6" y1="291.4" x2="51.6" y2="293.2" stroke="#8a8a8a" stroke-width="0.6"/>
<line x1="51.6" y1="327.6" x2="51.6" y2="325.8" stroke="#8a8a8a" stroke-width="0.6"/>
<line x1="117.9" y1="291.4" x2="117.9" y2="293.2" stroke="#8a8a8a" stroke-width="0.6"/>
<line x1="117.9" y1="327.6" x2="117.9" y2="325.8" stroke="#8a8a8a" stroke-width="0.6"/>
<line x1="184.2" y1="291.4" x2="184.2" y2="293.2" stroke="#8a8a8a" stroke-width="0.6"/>
<line x1="184.2" y1="327.6" x2="184.2" y2="325.8" stroke="#8a8a8a" stroke-width="0.6"/>
<line x1="38.6" y1="309.5" x2="40.4" y2="309.5" stroke="#8a8a8a" stroke-width="0.6"/>
<line x1="230.5" y1="309.5" x2="228.7" y2="309.5" stroke="#8a8a8a" stroke-width="0.6"/>
<text x="33.6" y="295.7" class="t" text-anchor="end">1</text>
<text x="34.6" y="331.9" class="t" text-anchor="end">0</text>
<text x="65.1" y="313.7" class="t">LP</text>
<line x1="144.3" y1="245.3" x2="144.3" y2="281.2" stroke="#8b1a1a" stroke-width="0.9" stroke-dasharray="3,2"/>
<text x="144.3" y="243.8" class="t" text-anchor="middle" style="fill:#8b1a1a">B</text>
<line x1="156.4" y1="245.3" x2="156.4" y2="281.2" stroke="#222" stroke-width="0.9" stroke-dasharray="3,2"/>
<text x="156.4" y="243.8" class="t" text-anchor="middle" style="fill:#222">A</text>
<text x="160.7" y="256.8" class="t">26%</text>
<text x="51.6" y="339.3" class="t" text-anchor="middle">0.55</text>
<text x="117.9" y="339.3" class="t" text-anchor="middle">0.5</text>
<text x="184.2" y="339.3" class="t" text-anchor="middle">0.45</text>
<text x="134.6" y="353.5" class="t" text-anchor="middle">Cavity length / µm</text>
<line x1="269.8" y1="199.8" x2="269.8" y2="236.1" stroke="#e4e4e4" stroke-width="0.6"/>
<line x1="336.1" y1="199.8" x2="336.1" y2="236.1" stroke="#e4e4e4" stroke-width="0.6"/>
<line x1="402.4" y1="199.8" x2="402.4" y2="236.1" stroke="#e4e4e4" stroke-width="0.6"/>
<line x1="256.8" y1="217.9" x2="448.1" y2="217.9" stroke="#e4e4e4" stroke-width="0.6"/>
<polyline fill="none" stroke="#6e3a86" stroke-width="1.15" stroke-dasharray="3.6,3.2" points="256.8,236.0 258.0,236.0 259.2,236.0 260.4,236.0 261.6,236.0 262.8,236.0 264.0,236.0 265.2,236.0 266.4,236.0 267.6,236.0 268.8,236.0 270.0,236.0 271.2,236.0 272.4,236.0 273.6,236.0 274.8,236.0 276.1,236.0 277.3,236.0 278.5,236.0 279.7,236.0 280.9,236.0 282.1,236.0 283.3,236.0 284.5,236.0 285.7,236.0 286.9,236.0 288.1,236.0 289.3,236.0 290.5,236.0 291.7,236.0 292.9,236.0 294.1,236.0 295.3,236.0 296.5,236.0 297.7,236.0 298.9,236.0 300.1,236.0 301.3,236.0 302.5,236.0 303.7,236.0 304.9,236.0 306.1,236.0 307.3,236.0 308.5,236.0 309.7,236.0 310.9,236.0 312.1,236.0 313.3,236.0 314.6,236.0 315.8,236.0 317.0,236.0 318.2,236.0 319.4,236.0 320.6,236.0 321.8,236.0 323.0,236.0 324.2,236.0 325.4,236.0 326.6,236.0 327.8,236.0 329.0,236.0 330.2,236.0 331.4,236.0 332.6,236.0 333.8,236.0 335.0,236.0 336.2,236.0 337.4,236.0 338.6,236.0 339.8,236.0 341.0,236.0 342.2,236.0 343.4,235.9 344.6,235.9 345.8,235.9 347.0,235.9 348.2,235.9 349.4,235.9 350.6,235.9 351.8,235.9 353.1,235.9 354.3,235.9 355.5,235.9 356.7,235.9 357.9,235.9 359.1,235.9 360.3,235.9 361.5,235.9 362.7,235.9 363.9,235.9 365.1,235.9 366.3,235.9 367.5,235.9 368.7,235.9 369.9,235.9 371.1,235.9 372.3,235.9 373.5,235.9 374.7,235.9 375.9,235.9 377.1,235.9 378.3,235.9 379.5,235.9 380.7,235.9 381.9,235.9 383.1,235.9 384.3,235.9 385.5,235.9 386.7,235.9 387.9,235.9 389.1,235.9 390.3,235.9 391.6,235.9 392.8,235.9 394.0,235.9 395.2,235.8 396.4,235.8 397.6,235.8 398.8,235.8 400.0,235.8 401.2,235.8 402.4,235.8 403.6,235.8 404.8,235.8 406.0,235.8 407.2,235.8 408.4,235.8 409.6,235.8 410.8,235.8 412.0,235.8 413.2,235.8 414.4,235.8 415.6,235.8 416.8,235.8 418.0,235.8 419.2,235.8 420.4,235.8 421.6,235.8 422.8,235.8 424.0,235.8 425.2,235.8 426.4,235.8 427.6,235.8 428.8,235.8 430.1,235.8 431.3,235.8 432.5,235.8 433.7,235.8 434.9,235.8 436.1,235.8 437.3,235.8 438.5,235.8 439.7,235.8 440.9,235.8 442.1,235.8 443.3,235.8 444.5,235.8 445.7,235.8 446.9,235.8 448.1,235.8"/>
<polyline fill="none" stroke="#cc6038" stroke-width="1.4" stroke-dasharray="3,0.9,0.9,0.9" points="256.8,202.3 258.0,202.3 259.2,202.3 260.4,202.4 261.6,202.4 262.8,202.4 264.0,202.5 265.2,202.5 266.4,202.5 267.6,202.6 268.8,202.6 270.0,202.6 271.2,202.7 272.4,202.7 273.6,202.7 274.8,202.8 276.1,202.8 277.3,202.8 278.5,202.9 279.7,202.9 280.9,203.0 282.1,203.0 283.3,203.0 284.5,203.1 285.7,203.1 286.9,203.2 288.1,203.2 289.3,203.3 290.5,203.3 291.7,203.4 292.9,203.4 294.1,203.4 295.3,203.5 296.5,203.6 297.7,203.6 298.9,203.7 300.1,203.7 301.3,203.8 302.5,203.8 303.7,203.9 304.9,203.9 306.1,204.0 307.3,204.1 308.5,204.1 309.7,204.2 310.9,204.3 312.1,204.3 313.3,204.4 314.6,204.5 315.8,204.5 317.0,204.6 318.2,204.7 319.4,204.8 320.6,204.8 321.8,204.9 323.0,205.0 324.2,205.1 325.4,205.2 326.6,205.2 327.8,205.3 329.0,205.4 330.2,205.5 331.4,205.6 332.6,205.7 333.8,205.8 335.0,205.9 336.2,206.0 337.4,206.1 338.6,206.2 339.8,206.3 341.0,206.4 342.2,206.5 343.4,206.6 344.6,206.8 345.8,206.9 347.0,207.0 348.2,207.1 349.4,207.3 350.6,207.4 351.8,207.5 353.1,207.6 354.3,207.8 355.5,207.9 356.7,208.1 357.9,208.2 359.1,208.4 360.3,208.5 361.5,208.7 362.7,208.8 363.9,209.0 365.1,209.1 366.3,209.3 367.5,209.5 368.7,209.7 369.9,209.8 371.1,210.0 372.3,210.2 373.5,210.4 374.7,210.6 375.9,210.8 377.1,210.9 378.3,211.1 379.5,211.3 380.7,211.5 381.9,211.8 383.1,212.0 384.3,212.2 385.5,212.4 386.7,212.6 387.9,212.8 389.1,213.1 390.3,213.3 391.6,213.5 392.8,213.7 394.0,214.0 395.2,214.2 396.4,214.4 397.6,214.7 398.8,214.9 400.0,215.2 401.2,215.4 402.4,215.7 403.6,215.9 404.8,216.2 406.0,216.4 407.2,216.7 408.4,216.9 409.6,217.2 410.8,217.4 412.0,217.7 413.2,218.0 414.4,218.2 415.6,218.5 416.8,218.7 418.0,219.0 419.2,219.3 420.4,219.5 421.6,219.8 422.8,220.0 424.0,220.3 425.2,220.5 426.4,220.8 427.6,221.0 428.8,221.3 430.1,221.5 431.3,221.8 432.5,222.0 433.7,222.3 434.9,222.5 436.1,222.7 437.3,223.0 438.5,223.2 439.7,223.4 440.9,223.7 442.1,223.9 443.3,224.1 444.5,224.3 445.7,224.5 446.9,224.8 448.1,225.0"/>
<polyline fill="none" stroke="#1f77c0" stroke-width="1.3" stroke-dasharray="none" points="256.8,233.7 258.0,233.7 259.2,233.6 260.4,233.6 261.6,233.6 262.8,233.5 264.0,233.5 265.2,233.5 266.4,233.5 267.6,233.4 268.8,233.4 270.0,233.4 271.2,233.3 272.4,233.3 273.6,233.2 274.8,233.2 276.1,233.2 277.3,233.1 278.5,233.1 279.7,233.1 280.9,233.0 282.1,233.0 283.3,232.9 284.5,232.9 285.7,232.9 286.9,232.8 288.1,232.8 289.3,232.7 290.5,232.7 291.7,232.6 292.9,232.6 294.1,232.5 295.3,232.5 296.5,232.4 297.7,232.4 298.9,232.3 300.1,232.3 301.3,232.2 302.5,232.2 303.7,232.1 304.9,232.1 306.1,232.0 307.3,231.9 308.5,231.9 309.7,231.8 310.9,231.8 312.1,231.7 313.3,231.6 314.6,231.5 315.8,231.5 317.0,231.4 318.2,231.3 319.4,231.3 320.6,231.2 321.8,231.1 323.0,231.0 324.2,231.0 325.4,230.9 326.6,230.8 327.8,230.7 329.0,230.6 330.2,230.5 331.4,230.4 332.6,230.3 333.8,230.2 335.0,230.1 336.2,230.0 337.4,229.9 338.6,229.8 339.8,229.7 341.0,229.6 342.2,229.5 343.4,229.4 344.6,229.3 345.8,229.2 347.0,229.1 348.2,228.9 349.4,228.8 350.6,228.7 351.8,228.6 353.1,228.4 354.3,228.3 355.5,228.1 356.7,228.0 357.9,227.9 359.1,227.7 360.3,227.6 361.5,227.4 362.7,227.3 363.9,227.1 365.1,226.9 366.3,226.8 367.5,226.6 368.7,226.4 369.9,226.3 371.1,226.1 372.3,225.9 373.5,225.7 374.7,225.5 375.9,225.4 377.1,225.2 378.3,225.0 379.5,224.8 380.7,224.6 381.9,224.4 383.1,224.2 384.3,224.0 385.5,223.7 386.7,223.5 387.9,223.3 389.1,223.1 390.3,222.9 391.6,222.6 392.8,222.4 394.0,222.2 395.2,221.9 396.4,221.7 397.6,221.5 398.8,221.2 400.0,221.0 401.2,220.7 402.4,220.5 403.6,220.2 404.8,220.0 406.0,219.7 407.2,219.5 408.4,219.2 409.6,219.0 410.8,218.7 412.0,218.5 413.2,218.2 414.4,218.0 415.6,217.7 416.8,217.4 418.0,217.2 419.2,216.9 420.4,216.7 421.6,216.4 422.8,216.2 424.0,215.9 425.2,215.7 426.4,215.4 427.6,215.2 428.8,214.9 430.1,214.7 431.3,214.4 432.5,214.2 433.7,213.9 434.9,213.7 436.1,213.5 437.3,213.2 438.5,213.0 439.7,212.8 440.9,212.5 442.1,212.3 443.3,212.1 444.5,211.9 445.7,211.6 446.9,211.4 448.1,211.2"/>
<rect x="256.8" y="199.8" width="191.3" height="36.3" fill="none" stroke="#a0a0a0" stroke-width="1"/>
<line x1="269.8" y1="199.8" x2="269.8" y2="201.60000000000002" stroke="#8a8a8a" stroke-width="0.6"/>
<line x1="269.8" y1="236.1" x2="269.8" y2="234.29999999999998" stroke="#8a8a8a" stroke-width="0.6"/>
<line x1="336.1" y1="199.8" x2="336.1" y2="201.60000000000002" stroke="#8a8a8a" stroke-width="0.6"/>
<line x1="336.1" y1="236.1" x2="336.1" y2="234.29999999999998" stroke="#8a8a8a" stroke-width="0.6"/>
<line x1="402.4" y1="199.8" x2="402.4" y2="201.60000000000002" stroke="#8a8a8a" stroke-width="0.6"/>
<line x1="402.4" y1="236.1" x2="402.4" y2="234.29999999999998" stroke="#8a8a8a" stroke-width="0.6"/>
<line x1="256.8" y1="217.9" x2="258.6" y2="217.9" stroke="#8a8a8a" stroke-width="0.6"/>
<line x1="448.1" y1="217.9" x2="446.3" y2="217.9" stroke="#8a8a8a" stroke-width="0.6"/>
<text x="251.8" y="204.1" class="t" text-anchor="end">1</text>
<text x="252.8" y="240.4" class="t" text-anchor="end">0</text>
<text x="283.3" y="222.1" class="t">UP</text>
<line x1="269.8" y1="245.3" x2="269.8" y2="281.2" stroke="#e4e4e4" stroke-width="0.6"/>
<line x1="336.1" y1="245.3" x2="336.1" y2="281.2" stroke="#e4e4e4" stroke-width="0.6"/>
<line x1="402.4" y1="245.3" x2="402.4" y2="281.2" stroke="#e4e4e4" stroke-width="0.6"/>
<line x1="256.8" y1="263.2" x2="448.1" y2="263.2" stroke="#e4e4e4" stroke-width="0.6"/>
<polyline fill="none" stroke="#6e3a86" stroke-width="1.15" stroke-dasharray="3.6,3.2" points="256.8,247.2 258.0,247.2 259.2,247.3 260.4,247.3 261.6,247.4 262.8,247.4 264.0,247.5 265.2,247.6 266.4,247.6 267.6,247.7 268.8,247.7 270.0,247.8 271.2,247.9 272.4,247.9 273.6,248.0 274.8,248.1 276.1,248.2 277.3,248.3 278.5,248.3 279.7,248.4 280.9,248.5 282.1,248.6 283.3,248.7 284.5,248.8 285.7,249.0 286.9,249.1 288.1,249.2 289.3,249.3 290.5,249.5 291.7,249.6 292.9,249.7 294.1,249.9 295.3,250.0 296.5,250.2 297.7,250.4 298.9,250.6 300.1,250.8 301.3,251.0 302.5,251.2 303.7,251.4 304.9,251.6 306.1,251.9 307.3,252.1 308.5,252.4 309.7,252.6 310.9,252.9 312.1,253.2 313.3,253.5 314.6,253.9 315.8,254.2 317.0,254.5 318.2,254.9 319.4,255.3 320.6,255.7 321.8,256.1 323.0,256.5 324.2,256.9 325.4,257.4 326.6,257.9 327.8,258.3 329.0,258.8 330.2,259.3 331.4,259.8 332.6,260.3 333.8,260.9 335.0,261.4 336.2,261.9 337.4,262.5 338.6,263.0 339.8,263.6 341.0,264.1 342.2,264.7 343.4,265.2 344.6,265.8 345.8,266.3 347.0,266.8 348.2,267.4 349.4,267.9 350.6,268.4 351.8,268.9 353.1,269.3 354.3,269.8 355.5,270.2 356.7,270.7 357.9,271.1 359.1,271.5 360.3,271.9 361.5,272.3 362.7,272.6 363.9,273.0 365.1,273.3 366.3,273.6 367.5,273.9 368.7,274.2 369.9,274.5 371.1,274.8 372.3,275.1 373.5,275.3 374.7,275.5 375.9,275.8 377.1,276.0 378.3,276.2 379.5,276.4 380.7,276.6 381.9,276.7 383.1,276.9 384.3,277.1 385.5,277.2 386.7,277.4 387.9,277.5 389.1,277.7 390.3,277.8 391.6,277.9 392.8,278.0 394.0,278.2 395.2,278.3 396.4,278.4 397.6,278.5 398.8,278.6 400.0,278.7 401.2,278.8 402.4,278.8 403.6,278.9 404.8,279.0 406.0,279.1 407.2,279.2 408.4,279.2 409.6,279.3 410.8,279.4 412.0,279.4 413.2,279.5 414.4,279.5 415.6,279.6 416.8,279.6 418.0,279.7 419.2,279.7 420.4,279.8 421.6,279.8 422.8,279.9 424.0,279.9 425.2,280.0 426.4,280.0 427.6,280.0 428.8,280.1 430.1,280.1 431.3,280.1 432.5,280.2 433.7,280.2 434.9,280.2 436.1,280.3 437.3,280.3 438.5,280.3 439.7,280.3 440.9,280.4 442.1,280.4 443.3,280.4 444.5,280.4 445.7,280.5 446.9,280.5 448.1,280.5"/>
<polyline fill="none" stroke="#cc6038" stroke-width="1.4" stroke-dasharray="3,0.9,0.9,0.9" points="256.8,280.9 258.0,280.8 259.2,280.8 260.4,280.8 261.6,280.8 262.8,280.8 264.0,280.8 265.2,280.8 266.4,280.8 267.6,280.8 268.8,280.8 270.0,280.7 271.2,280.7 272.4,280.7 273.6,280.7 274.8,280.7 276.1,280.7 277.3,280.7 278.5,280.6 279.7,280.6 280.9,280.6 282.1,280.6 283.3,280.6 284.5,280.5 285.7,280.5 286.9,280.5 288.1,280.5 289.3,280.4 290.5,280.4 291.7,280.4 292.9,280.4 294.1,280.3 295.3,280.3 296.5,280.3 297.7,280.2 298.9,280.2 300.1,280.2 301.3,280.1 302.5,280.1 303.7,280.0 304.9,280.0 306.1,279.9 307.3,279.9 308.5,279.8 309.7,279.8 310.9,279.7 312.1,279.6 313.3,279.6 314.6,279.5 315.8,279.4 317.0,279.4 318.2,279.3 319.4,279.2 320.6,279.1 321.8,279.0 323.0,278.9 324.2,278.8 325.4,278.7 326.6,278.6 327.8,278.5 329.0,278.4 330.2,278.2 331.4,278.1 332.6,278.0 333.8,277.8 335.0,277.7 336.2,277.5 337.4,277.4 338.6,277.2 339.8,277.1 341.0,276.9 342.2,276.7 343.4,276.6 344.6,276.4 345.8,276.2 347.0,276.1 348.2,275.9 349.4,275.7 350.6,275.5 351.8,275.3 353.1,275.1 354.3,274.9 355.5,274.7 356.7,274.5 357.9,274.3 359.1,274.2 360.3,274.0 361.5,273.8 362.7,273.5 363.9,273.3 365.1,273.1 366.3,272.9 367.5,272.7 368.7,272.5 369.9,272.3 371.1,272.1 372.3,271.9 373.5,271.7 374.7,271.4 375.9,271.2 377.1,271.0 378.3,270.8 379.5,270.5 380.7,270.3 381.9,270.1 383.1,269.9 384.3,269.6 385.5,269.4 386.7,269.2 387.9,268.9 389.1,268.7 390.3,268.4 391.6,268.2 392.8,267.9 394.0,267.7 395.2,267.4 396.4,267.2 397.6,266.9 398.8,266.7 400.0,266.4 401.2,266.2 402.4,265.9 403.6,265.7 404.8,265.4 406.0,265.1 407.2,264.9 408.4,264.6 409.6,264.3 410.8,264.1 412.0,263.8 413.2,263.6 414.4,263.3 415.6,263.0 416.8,262.8 418.0,262.5 419.2,262.2 420.4,262.0 421.6,261.7 422.8,261.5 424.0,261.2 425.2,260.9 426.4,260.7 427.6,260.4 428.8,260.2 430.1,259.9 431.3,259.7 432.5,259.4 433.7,259.2 434.9,258.9 436.1,258.7 437.3,258.5 438.5,258.2 439.7,258.0 440.9,257.8 442.1,257.6 443.3,257.3 444.5,257.1 445.7,256.9 446.9,256.7 448.1,256.5"/>
<polyline fill="none" stroke="#1f77c0" stroke-width="1.3" stroke-dasharray="none" points="256.8,279.6 258.0,279.6 259.2,279.6 260.4,279.5 261.6,279.5 262.8,279.4 264.0,279.4 265.2,279.4 266.4,279.3 267.6,279.3 268.8,279.2 270.0,279.2 271.2,279.1 272.4,279.0 273.6,279.0 274.8,278.9 276.1,278.9 277.3,278.8 278.5,278.7 279.7,278.6 280.9,278.6 282.1,278.5 283.3,278.4 284.5,278.3 285.7,278.2 286.9,278.1 288.1,278.0 289.3,277.9 290.5,277.8 291.7,277.7 292.9,277.6 294.1,277.5 295.3,277.3 296.5,277.2 297.7,277.1 298.9,276.9 300.1,276.8 301.3,276.6 302.5,276.5 303.7,276.3 304.9,276.1 306.1,275.9 307.3,275.7 308.5,275.5 309.7,275.3 310.9,275.1 312.1,274.8 313.3,274.6 314.6,274.3 315.8,274.1 317.0,273.8 318.2,273.5 319.4,273.2 320.6,272.9 321.8,272.6 323.0,272.3 324.2,272.0 325.4,271.6 326.6,271.3 327.8,270.9 329.0,270.5 330.2,270.2 331.4,269.8 332.6,269.4 333.8,269.0 335.0,268.6 336.2,268.2 337.4,267.8 338.6,267.4 339.8,267.0 341.0,266.6 342.2,266.3 343.4,265.9 344.6,265.5 345.8,265.2 347.0,264.8 348.2,264.5 349.4,264.1 350.6,263.8 351.8,263.5 353.1,263.2 354.3,263.0 355.5,262.7 356.7,262.5 357.9,262.3 359.1,262.0 360.3,261.9 361.5,261.7 362.7,261.5 363.9,261.4 365.1,261.2 366.3,261.1 367.5,261.0 368.7,260.9 369.9,260.9 371.1,260.8 372.3,260.8 373.5,260.7 374.7,260.7 375.9,260.7 377.1,260.7 378.3,260.7 379.5,260.8 380.7,260.8 381.9,260.9 383.1,260.9 384.3,261.0 385.5,261.1 386.7,261.2 387.9,261.3 389.1,261.4 390.3,261.5 391.6,261.6 392.8,261.7 394.0,261.8 395.2,262.0 396.4,262.1 397.6,262.3 398.8,262.4 400.0,262.6 401.2,262.8 402.4,262.9 403.6,263.1 404.8,263.3 406.0,263.5 407.2,263.7 408.4,263.9 409.6,264.1 410.8,264.3 412.0,264.5 413.2,264.7 414.4,264.9 415.6,265.1 416.8,265.3 418.0,265.5 419.2,265.7 420.4,265.9 421.6,266.2 422.8,266.4 424.0,266.6 425.2,266.8 426.4,267.0 427.6,267.2 428.8,267.4 430.1,267.7 431.3,267.9 432.5,268.1 433.7,268.3 434.9,268.5 436.1,268.7 437.3,268.9 438.5,269.1 439.7,269.3 440.9,269.6 442.1,269.8 443.3,270.0 444.5,270.2 445.7,270.3 446.9,270.5 448.1,270.7"/>
<rect x="256.8" y="245.3" width="191.3" height="35.9" fill="none" stroke="#a0a0a0" stroke-width="1"/>
<line x1="269.8" y1="245.3" x2="269.8" y2="247.10000000000002" stroke="#8a8a8a" stroke-width="0.6"/>
<line x1="269.8" y1="281.2" x2="269.8" y2="279.4" stroke="#8a8a8a" stroke-width="0.6"/>
<line x1="336.1" y1="245.3" x2="336.1" y2="247.10000000000002" stroke="#8a8a8a" stroke-width="0.6"/>
<line x1="336.1" y1="281.2" x2="336.1" y2="279.4" stroke="#8a8a8a" stroke-width="0.6"/>
<line x1="402.4" y1="245.3" x2="402.4" y2="247.10000000000002" stroke="#8a8a8a" stroke-width="0.6"/>
<line x1="402.4" y1="281.2" x2="402.4" y2="279.4" stroke="#8a8a8a" stroke-width="0.6"/>
<line x1="256.8" y1="263.2" x2="258.6" y2="263.2" stroke="#8a8a8a" stroke-width="0.6"/>
<line x1="448.1" y1="263.2" x2="446.3" y2="263.2" stroke="#8a8a8a" stroke-width="0.6"/>
<text x="251.8" y="249.6" class="t" text-anchor="end">1</text>
<text x="252.8" y="285.5" class="t" text-anchor="end">0</text>
<text x="283.3" y="267.4" class="t">MP</text>
<line x1="269.8" y1="291.4" x2="269.8" y2="327.6" stroke="#e4e4e4" stroke-width="0.6"/>
<line x1="336.1" y1="291.4" x2="336.1" y2="327.6" stroke="#e4e4e4" stroke-width="0.6"/>
<line x1="402.4" y1="291.4" x2="402.4" y2="327.6" stroke="#e4e4e4" stroke-width="0.6"/>
<line x1="256.8" y1="309.5" x2="448.1" y2="309.5" stroke="#e4e4e4" stroke-width="0.6"/>
<polyline fill="none" stroke="#6e3a86" stroke-width="1.15" stroke-dasharray="3.6,3.2" points="256.8,325.8 258.0,325.7 259.2,325.7 260.4,325.6 261.6,325.6 262.8,325.5 264.0,325.5 265.2,325.4 266.4,325.3 267.6,325.3 268.8,325.2 270.0,325.1 271.2,325.1 272.4,325.0 273.6,324.9 274.8,324.9 276.1,324.8 277.3,324.7 278.5,324.6 279.7,324.5 280.9,324.4 282.1,324.3 283.3,324.2 284.5,324.1 285.7,324.0 286.9,323.9 288.1,323.8 289.3,323.6 290.5,323.5 291.7,323.4 292.9,323.2 294.1,323.1 295.3,322.9 296.5,322.7 297.7,322.6 298.9,322.4 300.1,322.2 301.3,322.0 302.5,321.8 303.7,321.6 304.9,321.3 306.1,321.1 307.3,320.8 308.5,320.6 309.7,320.3 310.9,320.0 312.1,319.7 313.3,319.4 314.6,319.1 315.8,318.7 317.0,318.4 318.2,318.0 319.4,317.7 320.6,317.3 321.8,316.8 323.0,316.4 324.2,316.0 325.4,315.5 326.6,315.1 327.8,314.6 329.0,314.1 330.2,313.6 331.4,313.1 332.6,312.6 333.8,312.0 335.0,311.5 336.2,311.0 337.4,310.4 338.6,309.9 339.8,309.3 341.0,308.7 342.2,308.2 343.4,307.6 344.6,307.1 345.8,306.6 347.0,306.0 348.2,305.5 349.4,305.0 350.6,304.5 351.8,304.0 353.1,303.5 354.3,303.1 355.5,302.6 356.7,302.2 357.9,301.8 359.1,301.4 360.3,301.0 361.5,300.6 362.7,300.2 363.9,299.9 365.1,299.5 366.3,299.2 367.5,298.9 368.7,298.6 369.9,298.3 371.1,298.1 372.3,297.8 373.5,297.6 374.7,297.3 375.9,297.1 377.1,296.9 378.3,296.7 379.5,296.5 380.7,296.3 381.9,296.1 383.1,295.9 384.3,295.8 385.5,295.6 386.7,295.5 387.9,295.3 389.1,295.2 390.3,295.1 391.6,294.9 392.8,294.8 394.0,294.7 395.2,294.6 396.4,294.5 397.6,294.4 398.8,294.3 400.0,294.2 401.2,294.1 402.4,294.0 403.6,294.0 404.8,293.9 406.0,293.8 407.2,293.7 408.4,293.7 409.6,293.6 410.8,293.5 412.0,293.5 413.2,293.4 414.4,293.4 415.6,293.3 416.8,293.3 418.0,293.2 419.2,293.2 420.4,293.1 421.6,293.1 422.8,293.0 424.0,293.0 425.2,292.9 426.4,292.9 427.6,292.9 428.8,292.8 430.1,292.8 431.3,292.8 432.5,292.7 433.7,292.7 434.9,292.7 436.1,292.6 437.3,292.6 438.5,292.6 439.7,292.6 440.9,292.5 442.1,292.5 443.3,292.5 444.5,292.5 445.7,292.4 446.9,292.4 448.1,292.4"/>
<polyline fill="none" stroke="#cc6038" stroke-width="1.4" stroke-dasharray="3,0.9,0.9,0.9" points="256.8,325.5 258.0,325.5 259.2,325.4 260.4,325.4 261.6,325.4 262.8,325.4 264.0,325.4 265.2,325.3 266.4,325.3 267.6,325.3 268.8,325.3 270.0,325.3 271.2,325.2 272.4,325.2 273.6,325.2 274.8,325.2 276.1,325.1 277.3,325.1 278.5,325.1 279.7,325.1 280.9,325.1 282.1,325.0 283.3,325.0 284.5,325.0 285.7,325.0 286.9,325.0 288.1,324.9 289.3,324.9 290.5,324.9 291.7,324.9 292.9,324.9 294.1,324.8 295.3,324.8 296.5,324.8 297.7,324.8 298.9,324.8 300.1,324.7 301.3,324.7 302.5,324.7 303.7,324.7 304.9,324.7 306.1,324.7 307.3,324.7 308.5,324.7 309.7,324.7 310.9,324.7 312.1,324.7 313.3,324.7 314.6,324.7 315.8,324.7 317.0,324.7 318.2,324.7 319.4,324.7 320.6,324.7 321.8,324.7 323.0,324.7 324.2,324.8 325.4,324.8 326.6,324.8 327.8,324.8 329.0,324.9 330.2,324.9 331.4,324.9 332.6,325.0 333.8,325.0 335.0,325.1 336.2,325.1 337.4,325.2 338.6,325.2 339.8,325.3 341.0,325.3 342.2,325.4 343.4,325.4 344.6,325.5 345.8,325.6 347.0,325.6 348.2,325.7 349.4,325.7 350.6,325.8 351.8,325.8 353.1,325.9 354.3,326.0 355.5,326.0 356.7,326.1 357.9,326.1 359.1,326.2 360.3,326.2 361.5,326.3 362.7,326.3 363.9,326.4 365.1,326.4 366.3,326.5 367.5,326.5 368.7,326.5 369.9,326.6 371.1,326.6 372.3,326.6 373.5,326.7 374.7,326.7 375.9,326.7 377.1,326.8 378.3,326.8 379.5,326.8 380.7,326.9 381.9,326.9 383.1,326.9 384.3,326.9 385.5,327.0 386.7,327.0 387.9,327.0 389.1,327.0 390.3,327.0 391.6,327.1 392.8,327.1 394.0,327.1 395.2,327.1 396.4,327.1 397.6,327.1 398.8,327.1 400.0,327.2 401.2,327.2 402.4,327.2 403.6,327.2 404.8,327.2 406.0,327.2 407.2,327.2 408.4,327.2 409.6,327.3 410.8,327.3 412.0,327.3 413.2,327.3 414.4,327.3 415.6,327.3 416.8,327.3 418.0,327.3 419.2,327.3 420.4,327.3 421.6,327.3 422.8,327.3 424.0,327.3 425.2,327.4 426.4,327.4 427.6,327.4 428.8,327.4 430.1,327.4 431.3,327.4 432.5,327.4 433.7,327.4 434.9,327.4 436.1,327.4 437.3,327.4 438.5,327.4 439.7,327.4 440.9,327.4 442.1,327.4 443.3,327.4 444.5,327.4 445.7,327.4 446.9,327.4 448.1,327.4"/>
<polyline fill="none" stroke="#1f77c0" stroke-width="1.3" stroke-dasharray="none" points="256.8,295.4 258.0,295.4 259.2,295.5 260.4,295.6 261.6,295.6 262.8,295.7 264.0,295.8 265.2,295.9 266.4,295.9 267.6,296.0 268.8,296.1 270.0,296.2 271.2,296.3 272.4,296.4 273.6,296.5 274.8,296.6 276.1,296.7 277.3,296.8 278.5,296.9 279.7,297.0 280.9,297.1 282.1,297.2 283.3,297.4 284.5,297.5 285.7,297.6 286.9,297.8 288.1,297.9 289.3,298.1 290.5,298.2 291.7,298.4 292.9,298.5 294.1,298.7 295.3,298.9 296.5,299.1 297.7,299.3 298.9,299.5 300.1,299.7 301.3,299.9 302.5,300.1 303.7,300.3 304.9,300.6 306.1,300.8 307.3,301.1 308.5,301.3 309.7,301.6 310.9,301.9 312.1,302.2 313.3,302.5 314.6,302.9 315.8,303.2 317.0,303.5 318.2,303.9 319.4,304.3 320.6,304.6 321.8,305.0 323.0,305.4 324.2,305.9 325.4,306.3 326.6,306.7 327.8,307.2 329.0,307.6 330.2,308.1 331.4,308.6 332.6,309.1 333.8,309.5 335.0,310.0 336.2,310.5 337.4,311.0 338.6,311.5 339.8,312.0 341.0,312.5 342.2,313.0 343.4,313.5 344.6,314.0 345.8,314.5 347.0,314.9 348.2,315.4 349.4,315.9 350.6,316.3 351.8,316.7 353.1,317.2 354.3,317.6 355.5,318.0 356.7,318.3 357.9,318.7 359.1,319.1 360.3,319.4 361.5,319.7 362.7,320.1 363.9,320.4 365.1,320.7 366.3,320.9 367.5,321.2 368.7,321.5 369.9,321.7 371.1,321.9 372.3,322.2 373.5,322.4 374.7,322.6 375.9,322.8 377.1,322.9 378.3,323.1 379.5,323.3 380.7,323.5 381.9,323.6 383.1,323.8 384.3,323.9 385.5,324.0 386.7,324.2 387.9,324.3 389.1,324.4 390.3,324.5 391.6,324.6 392.8,324.7 394.0,324.8 395.2,324.9 396.4,325.0 397.6,325.1 398.8,325.2 400.0,325.2 401.2,325.3 402.4,325.4 403.6,325.4 404.8,325.5 406.0,325.6 407.2,325.6 408.4,325.7 409.6,325.7 410.8,325.8 412.0,325.8 413.2,325.9 414.4,325.9 415.6,326.0 416.8,326.0 418.0,326.1 419.2,326.1 420.4,326.2 421.6,326.2 422.8,326.2 424.0,326.3 425.2,326.3 426.4,326.3 427.6,326.4 428.8,326.4 430.1,326.4 431.3,326.5 432.5,326.5 433.7,326.5 434.9,326.5 436.1,326.6 437.3,326.6 438.5,326.6 439.7,326.6 440.9,326.6 442.1,326.7 443.3,326.7 444.5,326.7 445.7,326.7 446.9,326.7 448.1,326.8"/>
<rect x="256.8" y="291.4" width="191.3" height="36.2" fill="none" stroke="#a0a0a0" stroke-width="1"/>
<line x1="269.8" y1="291.4" x2="269.8" y2="293.2" stroke="#8a8a8a" stroke-width="0.6"/>
<line x1="269.8" y1="327.6" x2="269.8" y2="325.8" stroke="#8a8a8a" stroke-width="0.6"/>
<line x1="336.1" y1="291.4" x2="336.1" y2="293.2" stroke="#8a8a8a" stroke-width="0.6"/>
<line x1="336.1" y1="327.6" x2="336.1" y2="325.8" stroke="#8a8a8a" stroke-width="0.6"/>
<line x1="402.4" y1="291.4" x2="402.4" y2="293.2" stroke="#8a8a8a" stroke-width="0.6"/>
<line x1="402.4" y1="327.6" x2="402.4" y2="325.8" stroke="#8a8a8a" stroke-width="0.6"/>
<line x1="256.8" y1="309.5" x2="258.6" y2="309.5" stroke="#8a8a8a" stroke-width="0.6"/>
<line x1="448.1" y1="309.5" x2="446.3" y2="309.5" stroke="#8a8a8a" stroke-width="0.6"/>
<text x="251.8" y="295.7" class="t" text-anchor="end">1</text>
<text x="252.8" y="331.9" class="t" text-anchor="end">0</text>
<text x="283.3" y="313.7" class="t">LP</text>
<line x1="362.5" y1="245.3" x2="362.5" y2="281.2" stroke="#8b1a1a" stroke-width="0.9" stroke-dasharray="3,2"/>
<text x="361.3" y="243.8" class="t" text-anchor="middle" style="fill:#8b1a1a">B</text>
<line x1="365.4" y1="245.3" x2="365.4" y2="281.2" stroke="#222" stroke-width="0.9" stroke-dasharray="3,2"/>
<text x="368.1" y="243.8" class="t" text-anchor="middle" style="fill:#222">A</text>
<text x="370.5" y="256.8" class="t">22%</text>
<text x="269.8" y="339.3" class="t" text-anchor="middle">0.55</text>
<text x="336.1" y="339.3" class="t" text-anchor="middle">0.5</text>
<text x="402.4" y="339.3" class="t" text-anchor="middle">0.45</text>
<text x="352.5" y="353.5" class="t" text-anchor="middle">Cavity length / µm</text>
<line x1="485.4" y1="199.8" x2="485.4" y2="236.1" stroke="#e4e4e4" stroke-width="0.6"/>
<line x1="551.7" y1="199.8" x2="551.7" y2="236.1" stroke="#e4e4e4" stroke-width="0.6"/>
<line x1="618.0" y1="199.8" x2="618.0" y2="236.1" stroke="#e4e4e4" stroke-width="0.6"/>
<line x1="472.4" y1="217.9" x2="664.2" y2="217.9" stroke="#e4e4e4" stroke-width="0.6"/>
<polyline fill="none" stroke="#6e3a86" stroke-width="1.15" stroke-dasharray="3.6,3.2" points="472.4,236.1 473.6,236.1 474.8,236.1 476.0,236.1 477.2,236.1 478.4,236.1 479.6,236.1 480.8,236.1 482.1,236.1 483.3,236.1 484.5,236.1 485.7,236.1 486.9,236.1 488.1,236.1 489.3,236.1 490.5,236.1 491.7,236.1 492.9,236.1 494.1,236.1 495.3,236.1 496.5,236.1 497.7,236.1 498.9,236.1 500.1,236.1 501.4,236.1 502.6,236.1 503.8,236.1 505.0,236.1 506.2,236.1 507.4,236.1 508.6,236.1 509.8,236.1 511.0,236.1 512.2,236.1 513.4,236.1 514.6,236.1 515.8,236.1 517.0,236.1 518.2,236.1 519.4,236.1 520.7,236.1 521.9,236.1 523.1,236.1 524.3,236.1 525.5,236.1 526.7,236.1 527.9,236.1 529.1,236.1 530.3,236.1 531.5,236.1 532.7,236.1 533.9,236.0 535.1,236.0 536.3,236.0 537.5,236.0 538.7,236.0 540.0,236.0 541.2,236.0 542.4,236.0 543.6,236.0 544.8,236.0 546.0,236.0 547.2,236.0 548.4,236.0 549.6,236.0 550.8,236.0 552.0,236.0 553.2,236.0 554.4,236.0 555.6,236.0 556.8,236.0 558.0,236.0 559.3,236.0 560.5,236.0 561.7,236.0 562.9,236.0 564.1,236.0 565.3,236.0 566.5,236.0 567.7,236.0 568.9,236.0 570.1,236.0 571.3,236.0 572.5,236.0 573.7,236.0 574.9,236.0 576.1,236.0 577.3,236.0 578.6,236.0 579.8,236.0 581.0,236.0 582.2,236.0 583.4,236.0 584.6,236.0 585.8,236.0 587.0,236.0 588.2,236.0 589.4,236.0 590.6,236.0 591.8,236.0 593.0,236.0 594.2,236.0 595.4,236.0 596.6,236.0 597.9,236.0 599.1,236.0 600.3,236.0 601.5,236.0 602.7,236.0 603.9,236.0 605.1,236.0 606.3,236.0 607.5,236.0 608.7,236.0 609.9,236.0 611.1,236.0 612.3,236.0 613.5,236.0 614.7,236.0 615.9,236.0 617.2,236.0 618.4,236.0 619.6,236.0 620.8,236.0 622.0,236.0 623.2,236.0 624.4,236.0 625.6,236.0 626.8,236.0 628.0,236.0 629.2,236.0 630.4,236.0 631.6,236.0 632.8,236.0 634.0,236.0 635.2,236.0 636.5,236.0 637.7,236.0 638.9,236.0 640.1,236.0 641.3,236.0 642.5,236.0 643.7,236.0 644.9,236.0 646.1,236.0 647.3,236.0 648.5,236.0 649.7,236.0 650.9,236.0 652.1,236.0 653.3,236.0 654.5,236.0 655.8,236.0 657.0,236.0 658.2,236.0 659.4,236.0 660.6,236.0 661.8,236.0 663.0,236.0 664.2,236.0"/>
<polyline fill="none" stroke="#cc6038" stroke-width="1.4" stroke-dasharray="3,0.9,0.9,0.9" points="472.4,202.2 473.6,202.2 474.8,202.3 476.0,202.3 477.2,202.3 478.4,202.3 479.6,202.4 480.8,202.4 482.1,202.4 483.3,202.5 484.5,202.5 485.7,202.5 486.9,202.6 488.1,202.6 489.3,202.6 490.5,202.7 491.7,202.7 492.9,202.8 494.1,202.8 495.3,202.8 496.5,202.9 497.7,202.9 498.9,202.9 500.1,203.0 501.4,203.0 502.6,203.1 503.8,203.1 505.0,203.2 506.2,203.2 507.4,203.3 508.6,203.3 509.8,203.3 511.0,203.4 512.2,203.4 513.4,203.5 514.6,203.6 515.8,203.6 517.0,203.7 518.2,203.7 519.4,203.8 520.7,203.8 521.9,203.9 523.1,203.9 524.3,204.0 525.5,204.1 526.7,204.1 527.9,204.2 529.1,204.3 530.3,204.3 531.5,204.4 532.7,204.5 533.9,204.5 535.1,204.6 536.3,204.7 537.5,204.8 538.7,204.8 540.0,204.9 541.2,205.0 542.4,205.1 543.6,205.2 544.8,205.3 546.0,205.4 547.2,205.4 548.4,205.5 549.6,205.6 550.8,205.7 552.0,205.8 553.2,205.9 554.4,206.0 555.6,206.1 556.8,206.2 558.0,206.4 559.3,206.5 560.5,206.6 561.7,206.7 562.9,206.8 564.1,206.9 565.3,207.1 566.5,207.2 567.7,207.3 568.9,207.5 570.1,207.6 571.3,207.7 572.5,207.9 573.7,208.0 574.9,208.2 576.1,208.3 577.3,208.5 578.6,208.6 579.8,208.8 581.0,208.9 582.2,209.1 583.4,209.3 584.6,209.4 585.8,209.6 587.0,209.8 588.2,210.0 589.4,210.2 590.6,210.3 591.8,210.5 593.0,210.7 594.2,210.9 595.4,211.1 596.6,211.3 597.9,211.5 599.1,211.7 600.3,211.9 601.5,212.2 602.7,212.4 603.9,212.6 605.1,212.8 606.3,213.0 607.5,213.3 608.7,213.5 609.9,213.7 611.1,214.0 612.3,214.2 613.5,214.5 614.7,214.7 615.9,214.9 617.2,215.2 618.4,215.4 619.6,215.7 620.8,216.0 622.0,216.2 623.2,216.5 624.4,216.7 625.6,217.0 626.8,217.2 628.0,217.5 629.2,217.8 630.4,218.0 631.6,218.3 632.8,218.5 634.0,218.8 635.2,219.1 636.5,219.3 637.7,219.6 638.9,219.8 640.1,220.1 641.3,220.4 642.5,220.6 643.7,220.9 644.9,221.1 646.1,221.4 647.3,221.6 648.5,221.9 649.7,222.1 650.9,222.4 652.1,222.6 653.3,222.8 654.5,223.1 655.8,223.3 657.0,223.5 658.2,223.8 659.4,224.0 660.6,224.2 661.8,224.4 663.0,224.7 664.2,224.9"/>
<polyline fill="none" stroke="#1f77c0" stroke-width="1.3" stroke-dasharray="none" points="472.4,233.7 473.6,233.7 474.8,233.7 476.0,233.6 477.2,233.6 478.4,233.6 479.6,233.6 480.8,233.5 482.1,233.5 483.3,233.5 484.5,233.4 485.7,233.4 486.9,233.4 488.1,233.3 489.3,233.3 490.5,233.3 491.7,233.2 492.9,233.2 494.1,233.1 495.3,233.1 496.5,233.1 497.7,233.0 498.9,233.0 500.1,232.9 501.4,232.9 502.6,232.9 503.8,232.8 505.0,232.8 506.2,232.7 507.4,232.7 508.6,232.6 509.8,232.6 511.0,232.5 512.2,232.5 513.4,232.4 514.6,232.4 515.8,232.3 517.0,232.3 518.2,232.2 519.4,232.2 520.7,232.1 521.9,232.1 523.1,232.0 524.3,231.9 525.5,231.9 526.7,231.8 527.9,231.7 529.1,231.7 530.3,231.6 531.5,231.5 532.7,231.5 533.9,231.4 535.1,231.3 536.3,231.3 537.5,231.2 538.7,231.1 540.0,231.0 541.2,230.9 542.4,230.9 543.6,230.8 544.8,230.7 546.0,230.6 547.2,230.5 548.4,230.4 549.6,230.3 550.8,230.2 552.0,230.1 553.2,230.0 554.4,229.9 555.6,229.8 556.8,229.7 558.0,229.6 559.3,229.5 560.5,229.4 561.7,229.3 562.9,229.1 564.1,229.0 565.3,228.9 566.5,228.8 567.7,228.6 568.9,228.5 570.1,228.4 571.3,228.2 572.5,228.1 573.7,228.0 574.9,227.8 576.1,227.7 577.3,227.5 578.6,227.4 579.8,227.2 581.0,227.0 582.2,226.9 583.4,226.7 584.6,226.5 585.8,226.4 587.0,226.2 588.2,226.0 589.4,225.8 590.6,225.7 591.8,225.5 593.0,225.3 594.2,225.1 595.4,224.9 596.6,224.7 597.9,224.5 599.1,224.3 600.3,224.1 601.5,223.8 602.7,223.6 603.9,223.4 605.1,223.2 606.3,223.0 607.5,222.7 608.7,222.5 609.9,222.3 611.1,222.0 612.3,221.8 613.5,221.6 614.7,221.3 615.9,221.1 617.2,220.8 618.4,220.6 619.6,220.3 620.8,220.1 622.0,219.8 623.2,219.6 624.4,219.3 625.6,219.1 626.8,218.8 628.0,218.5 629.2,218.3 630.4,218.0 631.6,217.8 632.8,217.5 634.0,217.2 635.2,217.0 636.5,216.7 637.7,216.5 638.9,216.2 640.1,215.9 641.3,215.7 642.5,215.4 643.7,215.2 644.9,214.9 646.1,214.7 647.3,214.4 648.5,214.2 649.7,213.9 650.9,213.7 652.1,213.4 653.3,213.2 654.5,213.0 655.8,212.7 657.0,212.5 658.2,212.3 659.4,212.1 660.6,211.8 661.8,211.6 663.0,211.4 664.2,211.2"/>
<rect x="472.4" y="199.8" width="191.8" height="36.3" fill="none" stroke="#a0a0a0" stroke-width="1"/>
<line x1="485.4" y1="199.8" x2="485.4" y2="201.60000000000002" stroke="#8a8a8a" stroke-width="0.6"/>
<line x1="485.4" y1="236.1" x2="485.4" y2="234.29999999999998" stroke="#8a8a8a" stroke-width="0.6"/>
<line x1="551.7" y1="199.8" x2="551.7" y2="201.60000000000002" stroke="#8a8a8a" stroke-width="0.6"/>
<line x1="551.7" y1="236.1" x2="551.7" y2="234.29999999999998" stroke="#8a8a8a" stroke-width="0.6"/>
<line x1="618.0" y1="199.8" x2="618.0" y2="201.60000000000002" stroke="#8a8a8a" stroke-width="0.6"/>
<line x1="618.0" y1="236.1" x2="618.0" y2="234.29999999999998" stroke="#8a8a8a" stroke-width="0.6"/>
<line x1="472.4" y1="217.9" x2="474.2" y2="217.9" stroke="#8a8a8a" stroke-width="0.6"/>
<line x1="664.2" y1="217.9" x2="662.4000000000001" y2="217.9" stroke="#8a8a8a" stroke-width="0.6"/>
<text x="467.4" y="204.1" class="t" text-anchor="end">1</text>
<text x="468.4" y="240.4" class="t" text-anchor="end">0</text>
<text x="498.9" y="222.1" class="t">UP</text>
<line x1="485.4" y1="245.3" x2="485.4" y2="281.2" stroke="#e4e4e4" stroke-width="0.6"/>
<line x1="551.7" y1="245.3" x2="551.7" y2="281.2" stroke="#e4e4e4" stroke-width="0.6"/>
<line x1="618.0" y1="245.3" x2="618.0" y2="281.2" stroke="#e4e4e4" stroke-width="0.6"/>
<line x1="472.4" y1="263.2" x2="664.2" y2="263.2" stroke="#e4e4e4" stroke-width="0.6"/>
<polyline fill="none" stroke="#6e3a86" stroke-width="1.15" stroke-dasharray="3.6,3.2" points="472.4,247.0 473.6,247.1 474.8,247.1 476.0,247.2 477.2,247.2 478.4,247.3 479.6,247.4 480.8,247.4 482.1,247.5 483.3,247.6 484.5,247.7 485.7,247.8 486.9,247.8 488.1,247.9 489.3,248.0 490.5,248.2 491.7,248.3 492.9,248.4 494.1,248.5 495.3,248.7 496.5,248.8 497.7,248.9 498.9,249.1 500.1,249.3 501.4,249.4 502.6,249.6 503.8,249.8 505.0,250.1 506.2,250.3 507.4,250.5 508.6,250.8 509.8,251.1 511.0,251.3 512.2,251.6 513.4,252.0 514.6,252.3 515.8,252.7 517.0,253.1 518.2,253.5 519.4,253.9 520.7,254.4 521.9,254.9 523.1,255.4 524.3,255.9 525.5,256.5 526.7,257.1 527.9,257.7 529.1,258.3 530.3,259.0 531.5,259.6 532.7,260.3 533.9,261.0 535.1,261.8 536.3,262.5 537.5,263.2 538.7,263.9 540.0,264.7 541.2,265.4 542.4,266.1 543.6,266.8 544.8,267.5 546.0,268.2 547.2,268.8 548.4,269.4 549.6,270.0 550.8,270.6 552.0,271.2 553.2,271.7 554.4,272.2 555.6,272.7 556.8,273.1 558.0,273.6 559.3,274.0 560.5,274.3 561.7,274.7 562.9,275.0 564.1,275.3 565.3,275.6 566.5,275.9 567.7,276.2 568.9,276.4 570.1,276.7 571.3,276.9 572.5,277.1 573.7,277.3 574.9,277.5 576.1,277.6 577.3,277.8 578.6,278.0 579.8,278.1 581.0,278.2 582.2,278.4 583.4,278.5 584.6,278.6 585.8,278.7 587.0,278.8 588.2,278.9 589.4,279.0 590.6,279.1 591.8,279.2 593.0,279.3 594.2,279.3 595.4,279.4 596.6,279.5 597.9,279.5 599.1,279.6 600.3,279.7 601.5,279.7 602.7,279.8 603.9,279.8 605.1,279.9 606.3,279.9 607.5,280.0 608.7,280.0 609.9,280.1 611.1,280.1 612.3,280.1 613.5,280.2 614.7,280.2 615.9,280.2 617.2,280.3 618.4,280.3 619.6,280.3 620.8,280.4 622.0,280.4 623.2,280.4 624.4,280.4 625.6,280.5 626.8,280.5 628.0,280.5 629.2,280.5 630.4,280.5 631.6,280.6 632.8,280.6 634.0,280.6 635.2,280.6 636.5,280.6 637.7,280.7 638.9,280.7 640.1,280.7 641.3,280.7 642.5,280.7 643.7,280.7 644.9,280.7 646.1,280.8 647.3,280.8 648.5,280.8 649.7,280.8 650.9,280.8 652.1,280.8 653.3,280.8 654.5,280.8 655.8,280.9 657.0,280.9 658.2,280.9 659.4,280.9 660.6,280.9 661.8,280.9 663.0,280.9 664.2,280.9"/>
<polyline fill="none" stroke="#cc6038" stroke-width="1.4" stroke-dasharray="3,0.9,0.9,0.9" points="472.4,281.0 473.6,281.0 474.8,280.9 476.0,280.9 477.2,280.9 478.4,280.9 479.6,280.9 480.8,280.9 482.1,280.9 483.3,280.9 484.5,280.9 485.7,280.9 486.9,280.8 488.1,280.8 489.3,280.8 490.5,280.8 491.7,280.8 492.9,280.8 494.1,280.7 495.3,280.7 496.5,280.7 497.7,280.7 498.9,280.7 500.1,280.6 501.4,280.6 502.6,280.6 503.8,280.5 505.0,280.5 506.2,280.5 507.4,280.4 508.6,280.4 509.8,280.4 511.0,280.3 512.2,280.3 513.4,280.2 514.6,280.2 515.8,280.1 517.0,280.0 518.2,280.0 519.4,279.9 520.7,279.8 521.9,279.8 523.1,279.7 524.3,279.6 525.5,279.5 526.7,279.4 527.9,279.3 529.1,279.2 530.3,279.1 531.5,278.9 532.7,278.8 533.9,278.7 535.1,278.6 536.3,278.4 537.5,278.3 538.7,278.1 540.0,278.0 541.2,277.8 542.4,277.7 543.6,277.5 544.8,277.4 546.0,277.2 547.2,277.1 548.4,276.9 549.6,276.8 550.8,276.6 552.0,276.4 553.2,276.3 554.4,276.1 555.6,276.0 556.8,275.8 558.0,275.6 559.3,275.5 560.5,275.3 561.7,275.2 562.9,275.0 564.1,274.9 565.3,274.7 566.5,274.5 567.7,274.4 568.9,274.2 570.1,274.1 571.3,273.9 572.5,273.7 573.7,273.6 574.9,273.4 576.1,273.2 577.3,273.1 578.6,272.9 579.8,272.7 581.0,272.5 582.2,272.4 583.4,272.2 584.6,272.0 585.8,271.8 587.0,271.6 588.2,271.4 589.4,271.3 590.6,271.1 591.8,270.9 593.0,270.7 594.2,270.5 595.4,270.2 596.6,270.0 597.9,269.8 599.1,269.6 600.3,269.4 601.5,269.2 602.7,269.0 603.9,268.7 605.1,268.5 606.3,268.3 607.5,268.0 608.7,267.8 609.9,267.6 611.1,267.3 612.3,267.1 613.5,266.9 614.7,266.6 615.9,266.4 617.2,266.1 618.4,265.9 619.6,265.6 620.8,265.4 622.0,265.1 623.2,264.8 624.4,264.6 625.6,264.3 626.8,264.1 628.0,263.8 629.2,263.5 630.4,263.3 631.6,263.0 632.8,262.8 634.0,262.5 635.2,262.2 636.5,262.0 637.7,261.7 638.9,261.5 640.1,261.2 641.3,261.0 642.5,260.7 643.7,260.4 644.9,260.2 646.1,259.9 647.3,259.7 648.5,259.5 649.7,259.2 650.9,259.0 652.1,258.7 653.3,258.5 654.5,258.3 655.8,258.0 657.0,257.8 658.2,257.6 659.4,257.3 660.6,257.1 661.8,256.9 663.0,256.7 664.2,256.5"/>
<polyline fill="none" stroke="#1f77c0" stroke-width="1.3" stroke-dasharray="none" points="472.4,279.7 473.6,279.7 474.8,279.6 476.0,279.6 477.2,279.5 478.4,279.5 479.6,279.4 480.8,279.4 482.1,279.3 483.3,279.2 484.5,279.2 485.7,279.1 486.9,279.0 488.1,278.9 489.3,278.8 490.5,278.7 491.7,278.7 492.9,278.5 494.1,278.4 495.3,278.3 496.5,278.2 497.7,278.1 498.9,277.9 500.1,277.8 501.4,277.6 502.6,277.5 503.8,277.3 505.0,277.1 506.2,276.9 507.4,276.7 508.6,276.5 509.8,276.3 511.0,276.0 512.2,275.8 513.4,275.5 514.6,275.2 515.8,274.9 517.0,274.6 518.2,274.2 519.4,273.9 520.7,273.5 521.9,273.1 523.1,272.6 524.3,272.2 525.5,271.7 526.7,271.2 527.9,270.7 529.1,270.2 530.3,269.7 531.5,269.1 532.7,268.5 533.9,268.0 535.1,267.4 536.3,266.8 537.5,266.2 538.7,265.6 540.0,265.0 541.2,264.5 542.4,263.9 543.6,263.3 544.8,262.8 546.0,262.3 547.2,261.8 548.4,261.3 549.6,260.9 550.8,260.5 552.0,260.1 553.2,259.7 554.4,259.4 555.6,259.1 556.8,258.8 558.0,258.5 559.3,258.3 560.5,258.0 561.7,257.8 562.9,257.6 564.1,257.5 565.3,257.3 566.5,257.2 567.7,257.1 568.9,257.0 570.1,257.0 571.3,256.9 572.5,256.9 573.7,256.8 574.9,256.8 576.1,256.8 577.3,256.8 578.6,256.8 579.8,256.9 581.0,256.9 582.2,257.0 583.4,257.0 584.6,257.1 585.8,257.2 587.0,257.2 588.2,257.3 589.4,257.4 590.6,257.5 591.8,257.7 593.0,257.8 594.2,257.9 595.4,258.0 596.6,258.2 597.9,258.3 599.1,258.5 600.3,258.6 601.5,258.8 602.7,259.0 603.9,259.1 605.1,259.3 606.3,259.5 607.5,259.7 608.7,259.9 609.9,260.1 611.1,260.3 612.3,260.5 613.5,260.7 614.7,260.9 615.9,261.1 617.2,261.3 618.4,261.5 619.6,261.8 620.8,262.0 622.0,262.2 623.2,262.5 624.4,262.7 625.6,262.9 626.8,263.2 628.0,263.4 629.2,263.6 630.4,263.9 631.6,264.1 632.8,264.3 634.0,264.6 635.2,264.8 636.5,265.1 637.7,265.3 638.9,265.6 640.1,265.8 641.3,266.0 642.5,266.3 643.7,266.5 644.9,266.8 646.1,267.0 647.3,267.2 648.5,267.5 649.7,267.7 650.9,267.9 652.1,268.2 653.3,268.4 654.5,268.6 655.8,268.8 657.0,269.0 658.2,269.3 659.4,269.5 660.6,269.7 661.8,269.9 663.0,270.1 664.2,270.3"/>
<rect x="472.4" y="245.3" width="191.8" height="35.9" fill="none" stroke="#a0a0a0" stroke-width="1"/>
<line x1="485.4" y1="245.3" x2="485.4" y2="247.10000000000002" stroke="#8a8a8a" stroke-width="0.6"/>
<line x1="485.4" y1="281.2" x2="485.4" y2="279.4" stroke="#8a8a8a" stroke-width="0.6"/>
<line x1="551.7" y1="245.3" x2="551.7" y2="247.10000000000002" stroke="#8a8a8a" stroke-width="0.6"/>
<line x1="551.7" y1="281.2" x2="551.7" y2="279.4" stroke="#8a8a8a" stroke-width="0.6"/>
<line x1="618.0" y1="245.3" x2="618.0" y2="247.10000000000002" stroke="#8a8a8a" stroke-width="0.6"/>
<line x1="618.0" y1="281.2" x2="618.0" y2="279.4" stroke="#8a8a8a" stroke-width="0.6"/>
<line x1="472.4" y1="263.2" x2="474.2" y2="263.2" stroke="#8a8a8a" stroke-width="0.6"/>
<line x1="664.2" y1="263.2" x2="662.4000000000001" y2="263.2" stroke="#8a8a8a" stroke-width="0.6"/>
<text x="467.4" y="249.6" class="t" text-anchor="end">1</text>
<text x="468.4" y="285.5" class="t" text-anchor="end">0</text>
<text x="498.9" y="267.4" class="t">MP</text>
<line x1="485.4" y1="291.4" x2="485.4" y2="327.6" stroke="#e4e4e4" stroke-width="0.6"/>
<line x1="551.7" y1="291.4" x2="551.7" y2="327.6" stroke="#e4e4e4" stroke-width="0.6"/>
<line x1="618.0" y1="291.4" x2="618.0" y2="327.6" stroke="#e4e4e4" stroke-width="0.6"/>
<line x1="472.4" y1="309.5" x2="664.2" y2="309.5" stroke="#e4e4e4" stroke-width="0.6"/>
<polyline fill="none" stroke="#6e3a86" stroke-width="1.15" stroke-dasharray="3.6,3.2" points="472.4,325.9 473.6,325.9 474.8,325.8 476.0,325.7 477.2,325.7 478.4,325.6 479.6,325.5 480.8,325.5 482.1,325.4 483.3,325.3 484.5,325.2 485.7,325.2 486.9,325.1 488.1,325.0 489.3,324.9 490.5,324.8 491.7,324.6 492.9,324.5 494.1,324.4 495.3,324.3 496.5,324.1 497.7,324.0 498.9,323.8 500.1,323.6 501.4,323.5 502.6,323.3 503.8,323.1 505.0,322.8 506.2,322.6 507.4,322.4 508.6,322.1 509.8,321.8 511.0,321.5 512.2,321.2 513.4,320.9 514.6,320.6 515.8,320.2 517.0,319.8 518.2,319.4 519.4,318.9 520.7,318.5 521.9,318.0 523.1,317.5 524.3,316.9 525.5,316.4 526.7,315.8 527.9,315.2 529.1,314.5 530.3,313.9 531.5,313.2 532.7,312.5 533.9,311.8 535.1,311.1 536.3,310.3 537.5,309.6 538.7,308.9 540.0,308.1 541.2,307.4 542.4,306.7 543.6,306.0 544.8,305.3 546.0,304.6 547.2,303.9 548.4,303.3 549.6,302.7 550.8,302.1 552.0,301.6 553.2,301.0 554.4,300.5 555.6,300.1 556.8,299.6 558.0,299.2 559.3,298.8 560.5,298.4 561.7,298.0 562.9,297.7 564.1,297.4 565.3,297.1 566.5,296.8 567.7,296.5 568.9,296.3 570.1,296.0 571.3,295.8 572.5,295.6 573.7,295.4 574.9,295.2 576.1,295.1 577.3,294.9 578.6,294.7 579.8,294.6 581.0,294.5 582.2,294.3 583.4,294.2 584.6,294.1 585.8,294.0 587.0,293.9 588.2,293.8 589.4,293.7 590.6,293.6 591.8,293.5 593.0,293.4 594.2,293.4 595.4,293.3 596.6,293.2 597.9,293.2 599.1,293.1 600.3,293.1 601.5,293.0 602.7,292.9 603.9,292.9 605.1,292.8 606.3,292.8 607.5,292.8 608.7,292.7 609.9,292.7 611.1,292.6 612.3,292.6 613.5,292.6 614.7,292.5 615.9,292.5 617.2,292.5 618.4,292.4 619.6,292.4 620.8,292.4 622.0,292.4 623.2,292.3 624.4,292.3 625.6,292.3 626.8,292.3 628.0,292.2 629.2,292.2 630.4,292.2 631.6,292.2 632.8,292.2 634.0,292.1 635.2,292.1 636.5,292.1 637.7,292.1 638.9,292.1 640.1,292.1 641.3,292.0 642.5,292.0 643.7,292.0 644.9,292.0 646.1,292.0 647.3,292.0 648.5,292.0 649.7,291.9 650.9,291.9 652.1,291.9 653.3,291.9 654.5,291.9 655.8,291.9 657.0,291.9 658.2,291.9 659.4,291.9 660.6,291.9 661.8,291.8 663.0,291.8 664.2,291.8"/>
<polyline fill="none" stroke="#cc6038" stroke-width="1.4" stroke-dasharray="3,0.9,0.9,0.9" points="472.4,325.4 473.6,325.4 474.8,325.4 476.0,325.4 477.2,325.4 478.4,325.3 479.6,325.3 480.8,325.3 482.1,325.3 483.3,325.3 484.5,325.2 485.7,325.2 486.9,325.2 488.1,325.2 489.3,325.2 490.5,325.1 491.7,325.1 492.9,325.1 494.1,325.1 495.3,325.1 496.5,325.0 497.7,325.0 498.9,325.0 500.1,325.0 501.4,325.0 502.6,325.0 503.8,325.0 505.0,324.9 506.2,324.9 507.4,324.9 508.6,324.9 509.8,324.9 511.0,324.9 512.2,324.9 513.4,324.9 514.6,324.9 515.8,324.9 517.0,324.9 518.2,324.9 519.4,324.9 520.7,325.0 521.9,325.0 523.1,325.0 524.3,325.0 525.5,325.1 526.7,325.1 527.9,325.1 529.1,325.2 530.3,325.2 531.5,325.3 532.7,325.3 533.9,325.4 535.1,325.5 536.3,325.5 537.5,325.6 538.7,325.7 540.0,325.7 541.2,325.8 542.4,325.9 543.6,325.9 544.8,326.0 546.0,326.1 547.2,326.1 548.4,326.2 549.6,326.3 550.8,326.3 552.0,326.4 553.2,326.4 554.4,326.5 555.6,326.6 556.8,326.6 558.0,326.7 559.3,326.7 560.5,326.7 561.7,326.8 562.9,326.8 564.1,326.9 565.3,326.9 566.5,326.9 567.7,327.0 568.9,327.0 570.1,327.0 571.3,327.0 572.5,327.1 573.7,327.1 574.9,327.1 576.1,327.1 577.3,327.2 578.6,327.2 579.8,327.2 581.0,327.2 582.2,327.2 583.4,327.2 584.6,327.3 585.8,327.3 587.0,327.3 588.2,327.3 589.4,327.3 590.6,327.3 591.8,327.3 593.0,327.3 594.2,327.3 595.4,327.4 596.6,327.4 597.9,327.4 599.1,327.4 600.3,327.4 601.5,327.4 602.7,327.4 603.9,327.4 605.1,327.4 606.3,327.4 607.5,327.4 608.7,327.4 609.9,327.4 611.1,327.4 612.3,327.4 613.5,327.4 614.7,327.5 615.9,327.5 617.2,327.5 618.4,327.5 619.6,327.5 620.8,327.5 622.0,327.5 623.2,327.5 624.4,327.5 625.6,327.5 626.8,327.5 628.0,327.5 629.2,327.5 630.4,327.5 631.6,327.5 632.8,327.5 634.0,327.5 635.2,327.5 636.5,327.5 637.7,327.5 638.9,327.5 640.1,327.5 641.3,327.5 642.5,327.5 643.7,327.5 644.9,327.5 646.1,327.5 647.3,327.5 648.5,327.5 649.7,327.5 650.9,327.5 652.1,327.5 653.3,327.5 654.5,327.5 655.8,327.5 657.0,327.5 658.2,327.5 659.4,327.5 660.6,327.5 661.8,327.5 663.0,327.5 664.2,327.5"/>
<polyline fill="none" stroke="#1f77c0" stroke-width="1.3" stroke-dasharray="none" points="472.4,295.2 473.6,295.3 474.8,295.4 476.0,295.5 477.2,295.6 478.4,295.6 479.6,295.7 480.8,295.8 482.1,295.9 483.3,296.0 484.5,296.1 485.7,296.2 486.9,296.3 488.1,296.5 489.3,296.6 490.5,296.7 491.7,296.8 492.9,297.0 494.1,297.1 495.3,297.3 496.5,297.4 497.7,297.6 498.9,297.8 500.1,298.0 501.4,298.2 502.6,298.4 503.8,298.6 505.0,298.8 506.2,299.1 507.4,299.3 508.6,299.6 509.8,299.9 511.0,300.2 512.2,300.5 513.4,300.8 514.6,301.1 515.8,301.5 517.0,301.9 518.2,302.3 519.4,302.7 520.7,303.2 521.9,303.6 523.1,304.1 524.3,304.6 525.5,305.2 526.7,305.7 527.9,306.3 529.1,306.9 530.3,307.5 531.5,308.1 532.7,308.8 533.9,309.4 535.1,310.1 536.3,310.8 537.5,311.4 538.7,312.1 540.0,312.8 541.2,313.4 542.4,314.1 543.6,314.7 544.8,315.3 546.0,315.9 547.2,316.5 548.4,317.1 549.6,317.6 550.8,318.1 552.0,318.6 553.2,319.1 554.4,319.6 555.6,320.0 556.8,320.4 558.0,320.8 559.3,321.1 560.5,321.5 561.7,321.8 562.9,322.1 564.1,322.4 565.3,322.6 566.5,322.9 567.7,323.1 568.9,323.3 570.1,323.5 571.3,323.7 572.5,323.9 573.7,324.1 574.9,324.2 576.1,324.4 577.3,324.5 578.6,324.7 579.8,324.8 581.0,324.9 582.2,325.0 583.4,325.1 584.6,325.2 585.8,325.3 587.0,325.4 588.2,325.5 589.4,325.6 590.6,325.7 591.8,325.7 593.0,325.8 594.2,325.9 595.4,325.9 596.6,326.0 597.9,326.1 599.1,326.1 600.3,326.2 601.5,326.2 602.7,326.3 603.9,326.3 605.1,326.3 606.3,326.4 607.5,326.4 608.7,326.5 609.9,326.5 611.1,326.5 612.3,326.6 613.5,326.6 614.7,326.6 615.9,326.6 617.2,326.7 618.4,326.7 619.6,326.7 620.8,326.7 622.0,326.8 623.2,326.8 624.4,326.8 625.6,326.8 626.8,326.9 628.0,326.9 629.2,326.9 630.4,326.9 631.6,326.9 632.8,326.9 634.0,327.0 635.2,327.0 636.5,327.0 637.7,327.0 638.9,327.0 640.1,327.0 641.3,327.0 642.5,327.1 643.7,327.1 644.9,327.1 646.1,327.1 647.3,327.1 648.5,327.1 649.7,327.1 650.9,327.1 652.1,327.1 653.3,327.2 654.5,327.2 655.8,327.2 657.0,327.2 658.2,327.2 659.4,327.2 660.6,327.2 661.8,327.2 663.0,327.2 664.2,327.2"/>
<rect x="472.4" y="291.4" width="191.8" height="36.2" fill="none" stroke="#a0a0a0" stroke-width="1"/>
<line x1="485.4" y1="291.4" x2="485.4" y2="293.2" stroke="#8a8a8a" stroke-width="0.6"/>
<line x1="485.4" y1="327.6" x2="485.4" y2="325.8" stroke="#8a8a8a" stroke-width="0.6"/>
<line x1="551.7" y1="291.4" x2="551.7" y2="293.2" stroke="#8a8a8a" stroke-width="0.6"/>
<line x1="551.7" y1="327.6" x2="551.7" y2="325.8" stroke="#8a8a8a" stroke-width="0.6"/>
<line x1="618.0" y1="291.4" x2="618.0" y2="293.2" stroke="#8a8a8a" stroke-width="0.6"/>
<line x1="618.0" y1="327.6" x2="618.0" y2="325.8" stroke="#8a8a8a" stroke-width="0.6"/>
<line x1="472.4" y1="309.5" x2="474.2" y2="309.5" stroke="#8a8a8a" stroke-width="0.6"/>
<line x1="664.2" y1="309.5" x2="662.4000000000001" y2="309.5" stroke="#8a8a8a" stroke-width="0.6"/>
<text x="467.4" y="295.7" class="t" text-anchor="end">1</text>
<text x="468.4" y="331.9" class="t" text-anchor="end">0</text>
<text x="498.9" y="313.7" class="t">LP</text>
<line x1="563.7" y1="245.3" x2="563.7" y2="281.2" stroke="#222" stroke-width="0.9" stroke-dasharray="3,2"/>
<text x="563.7" y="243.8" class="t" text-anchor="middle" style="fill:#222">A</text>
<line x1="577.9" y1="245.3" x2="577.9" y2="281.2" stroke="#8b1a1a" stroke-width="0.9" stroke-dasharray="3,2"/>
<text x="577.9" y="243.8" class="t" text-anchor="middle" style="fill:#8b1a1a">B</text>
<text x="537.7" y="256.8" class="t">17%</text>
<text x="485.4" y="339.3" class="t" text-anchor="middle">0.55</text>
<text x="551.7" y="339.3" class="t" text-anchor="middle">0.5</text>
<text x="618.0" y="339.3" class="t" text-anchor="middle">0.45</text>
<text x="568.3" y="353.5" class="t" text-anchor="middle">Cavity length / µm</text>
<text transform="translate(22,264.3) rotate(-90)" class="t" text-anchor="middle">Mixing coefficients</text>
<rect x="562" y="297.5" width="99" height="24" fill="#fff"/>
<line x1="564" y1="301.2" x2="571" y2="301.2" stroke="#1f77c0" stroke-width="1.3" stroke-dasharray="none"/>
<text x="574" y="303.8" class="g">Cavity mode</text>
<line x1="564" y1="309.9" x2="571" y2="309.9" stroke="#cc6038" stroke-width="1.1" stroke-dasharray="2.6,0.9,0.9,0.9"/>
<text x="574" y="312.5" class="g">Frenkel exciton</text>
<line x1="564" y1="318.6" x2="571" y2="318.6" stroke="#6e3a86" stroke-width="1.15" stroke-dasharray="3.6,3.2"/>
<text x="574" y="321.2" class="g">Wannier-mott exciton</text>
</svg></body></html>
